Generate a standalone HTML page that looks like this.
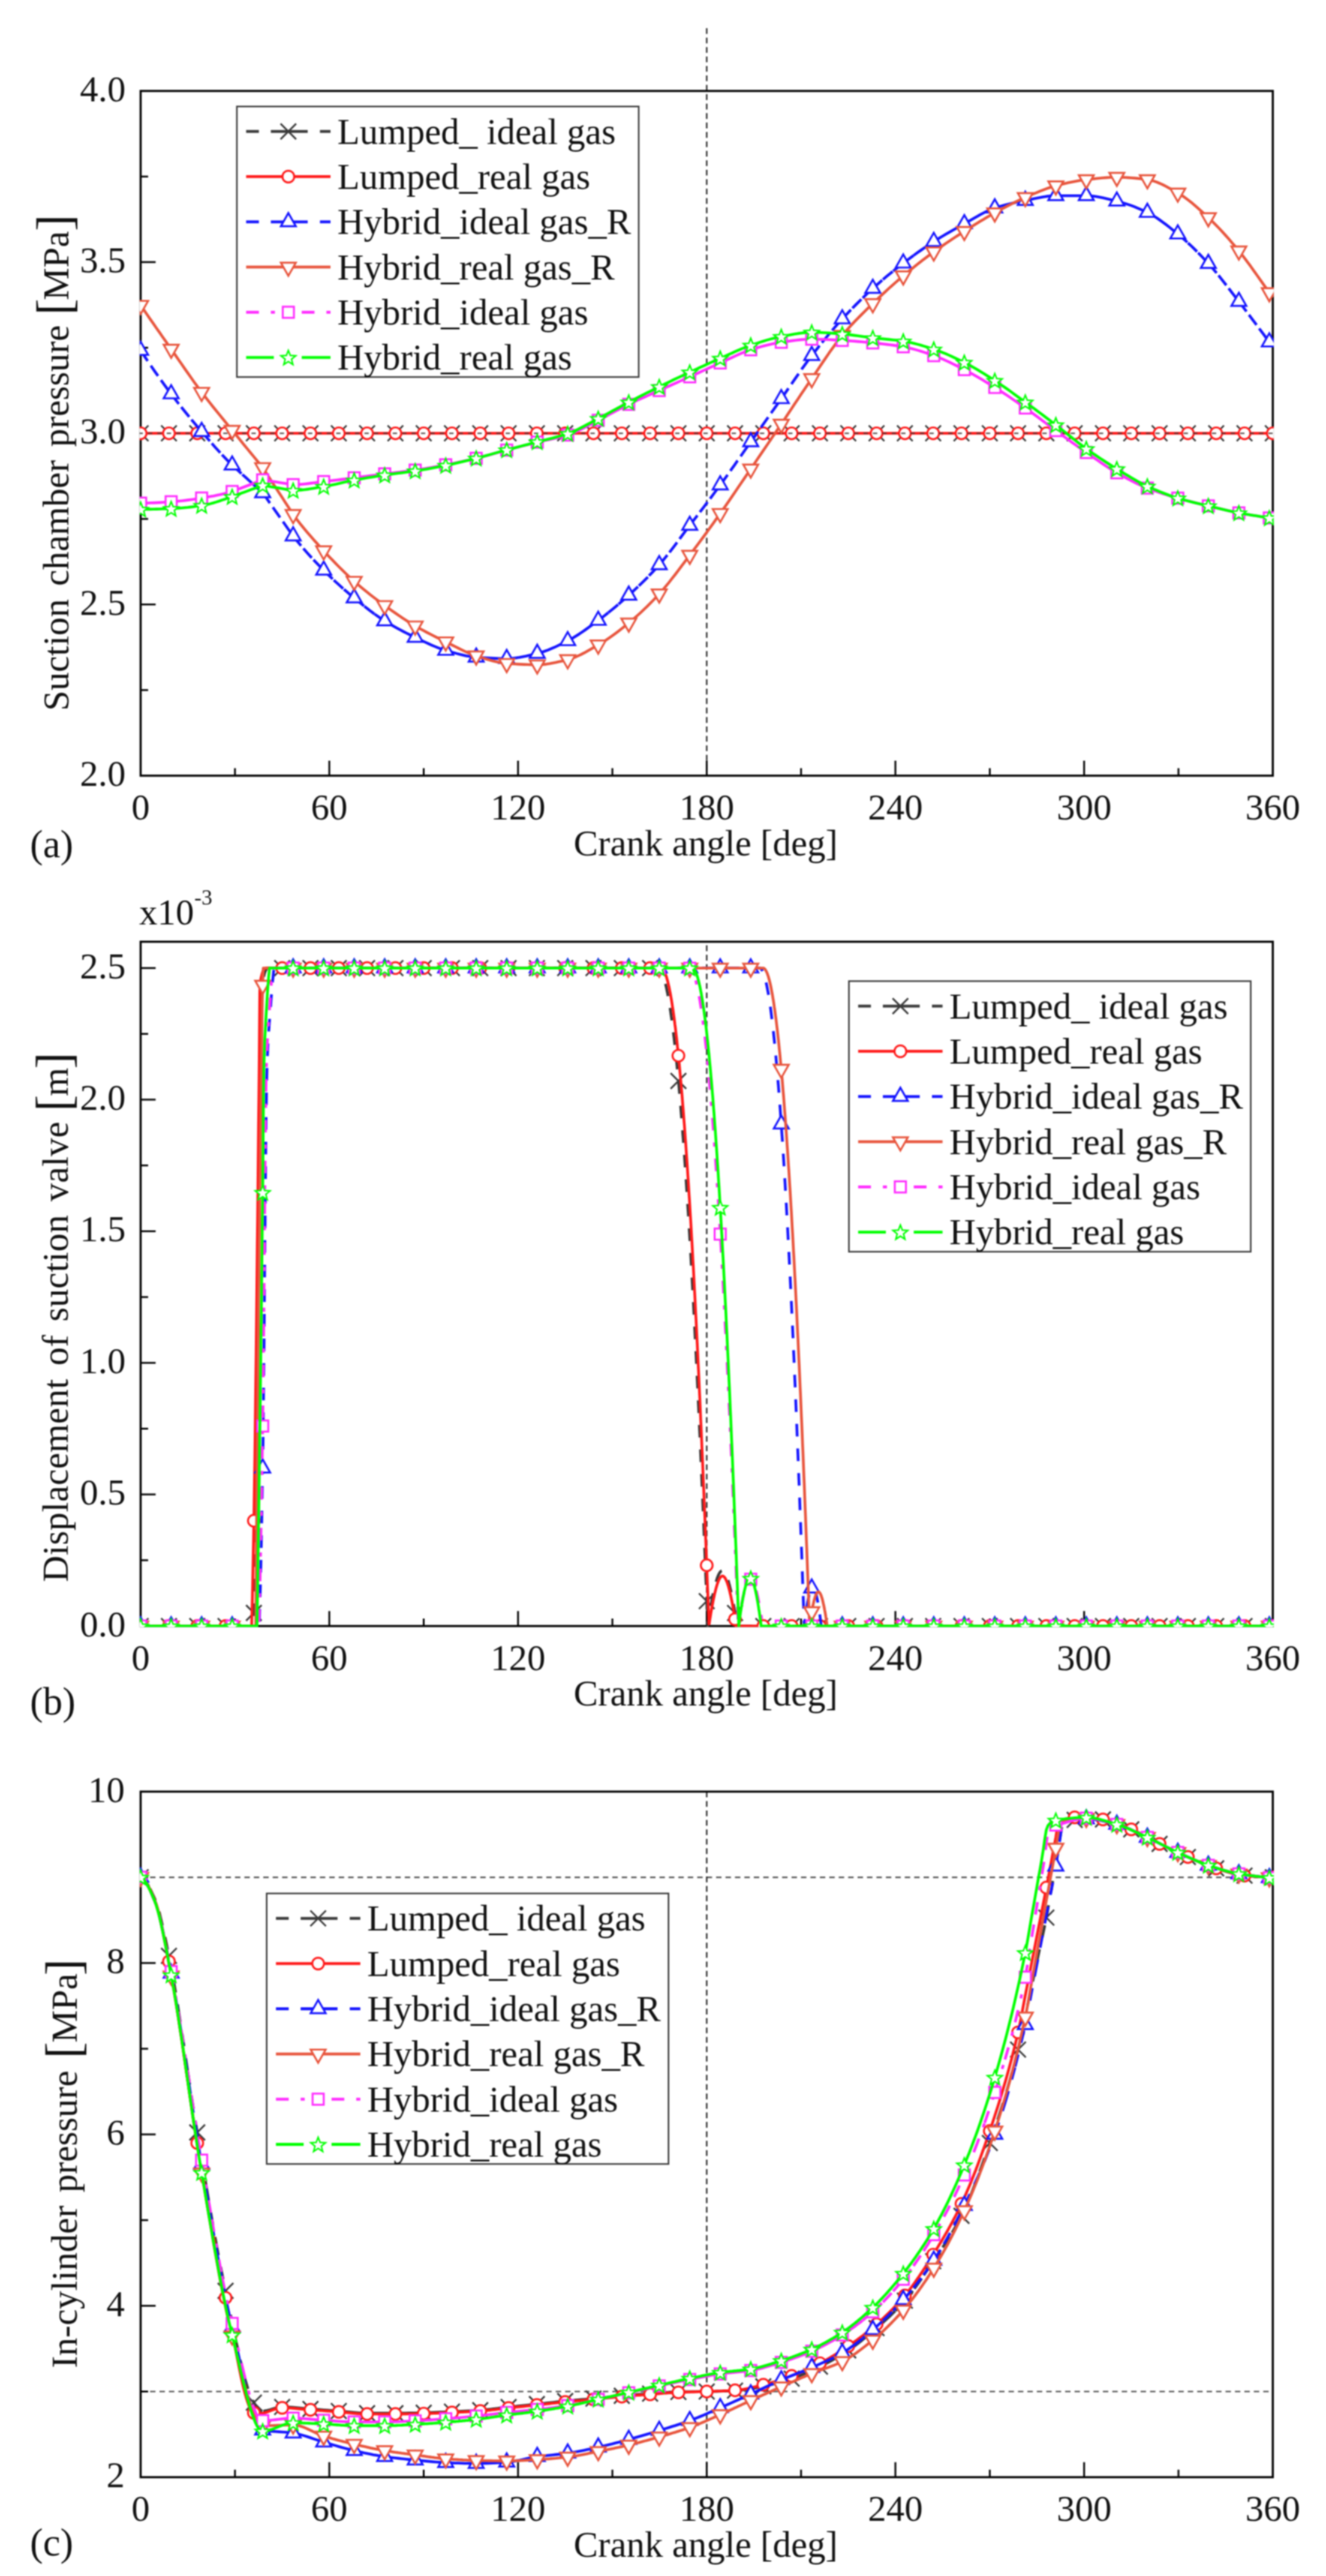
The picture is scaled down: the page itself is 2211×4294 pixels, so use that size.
<!DOCTYPE html>
<html lang="en">
<head>
<meta charset="utf-8">
<title>Compressor model comparison</title>
<style>html,body{margin:0;padding:0;background:#fff}svg{display:block;filter:blur(0.8px)}</style>
</head>
<body>
<svg width="2211" height="4294" viewBox="0 0 2211 4294" font-family='"Liberation Serif", serif' fill="#111">
<rect width="2211" height="4294" fill="#fff"/>
<defs>
<clipPath id="clipa"><rect x="232.9" y="150" width="1891" height="1144.6"/></clipPath>
<clipPath id="clipb"><rect x="232.9" y="1568.2" width="1891" height="1143.9"/></clipPath>
<clipPath id="clipc"><rect x="232.9" y="2984.9" width="1891" height="1146"/></clipPath>
</defs>
<g id="panel-a">
<line x1="1178.4" y1="47" x2="1178.4" y2="1293" stroke="#222" stroke-width="2.4" stroke-dasharray="9.6 6.13"/>
<rect x="234.5" y="151.6" width="1887.8" height="1141.4" fill="none" stroke="#000" stroke-width="3.5"/>
<line x1="391.8" y1="1293" x2="391.8" y2="1280.5" stroke="#000" stroke-width="3"/>
<line x1="549.1" y1="1293" x2="549.1" y2="1268" stroke="#000" stroke-width="3"/>
<line x1="706.5" y1="1293" x2="706.5" y2="1280.5" stroke="#000" stroke-width="3"/>
<line x1="863.8" y1="1293" x2="863.8" y2="1268" stroke="#000" stroke-width="3"/>
<line x1="1021.1" y1="1293" x2="1021.1" y2="1280.5" stroke="#000" stroke-width="3"/>
<line x1="1178.4" y1="1293" x2="1178.4" y2="1268" stroke="#000" stroke-width="3"/>
<line x1="1335.7" y1="1293" x2="1335.7" y2="1280.5" stroke="#000" stroke-width="3"/>
<line x1="1493" y1="1293" x2="1493" y2="1268" stroke="#000" stroke-width="3"/>
<line x1="1650.4" y1="1293" x2="1650.4" y2="1280.5" stroke="#000" stroke-width="3"/>
<line x1="1807.7" y1="1293" x2="1807.7" y2="1268" stroke="#000" stroke-width="3"/>
<line x1="1965" y1="1293" x2="1965" y2="1280.5" stroke="#000" stroke-width="3"/>
<text x="234.5" y="1366" font-size="61" text-anchor="middle">0</text>
<text x="549.1" y="1366" font-size="61" text-anchor="middle">60</text>
<text x="863.8" y="1366" font-size="61" text-anchor="middle">120</text>
<text x="1178.4" y="1366" font-size="61" text-anchor="middle">180</text>
<text x="1493" y="1366" font-size="61" text-anchor="middle">240</text>
<text x="1807.7" y="1366" font-size="61" text-anchor="middle">300</text>
<text x="2122.3" y="1366" font-size="61" text-anchor="middle">360</text>
<text x="1176.6" y="1425.7" font-size="61" text-anchor="middle">Crank angle [deg]</text>
<line x1="234.5" y1="1007.6" x2="259.5" y2="1007.6" stroke="#000" stroke-width="3"/>
<line x1="234.5" y1="722.3" x2="259.5" y2="722.3" stroke="#000" stroke-width="3"/>
<line x1="234.5" y1="436.9" x2="259.5" y2="436.9" stroke="#000" stroke-width="3"/>
<line x1="234.5" y1="1150.3" x2="247" y2="1150.3" stroke="#000" stroke-width="3"/>
<line x1="234.5" y1="865" x2="247" y2="865" stroke="#000" stroke-width="3"/>
<line x1="234.5" y1="579.6" x2="247" y2="579.6" stroke="#000" stroke-width="3"/>
<line x1="234.5" y1="294.3" x2="247" y2="294.3" stroke="#000" stroke-width="3"/>
<text x="209.5" y="1310" font-size="61" text-anchor="end">2.0</text>
<text x="209.5" y="1024.7" font-size="61" text-anchor="end">2.5</text>
<text x="209.5" y="739.3" font-size="61" text-anchor="end">3.0</text>
<text x="209.5" y="453.9" font-size="61" text-anchor="end">3.5</text>
<text x="209.5" y="168.6" font-size="61" text-anchor="end">4.0</text>
<g clip-path="url(#clipa)">
<path d="M221.5 709.3L247.5 735.3M221.5 735.3L247.5 709.3" stroke="#3a3a3a" stroke-width="2.9" fill="none"/>
<path d="M268.7 709.3L294.7 735.3M268.7 735.3L294.7 709.3" stroke="#3a3a3a" stroke-width="2.9" fill="none"/>
<path d="M315.9 709.3L341.9 735.3M315.9 735.3L341.9 709.3" stroke="#3a3a3a" stroke-width="2.9" fill="none"/>
<path d="M363.1 709.3L389.1 735.3M363.1 735.3L389.1 709.3" stroke="#3a3a3a" stroke-width="2.9" fill="none"/>
<path d="M410.3 709.3L436.3 735.3M410.3 735.3L436.3 709.3" stroke="#3a3a3a" stroke-width="2.9" fill="none"/>
<path d="M457.5 709.3L483.5 735.3M457.5 735.3L483.5 709.3" stroke="#3a3a3a" stroke-width="2.9" fill="none"/>
<path d="M504.7 709.3L530.7 735.3M504.7 735.3L530.7 709.3" stroke="#3a3a3a" stroke-width="2.9" fill="none"/>
<path d="M551.9 709.3L577.9 735.3M551.9 735.3L577.9 709.3" stroke="#3a3a3a" stroke-width="2.9" fill="none"/>
<path d="M599.1 709.3L625.1 735.3M599.1 735.3L625.1 709.3" stroke="#3a3a3a" stroke-width="2.9" fill="none"/>
<path d="M646.3 709.3L672.3 735.3M646.3 735.3L672.3 709.3" stroke="#3a3a3a" stroke-width="2.9" fill="none"/>
<path d="M693.5 709.3L719.5 735.3M693.5 735.3L719.5 709.3" stroke="#3a3a3a" stroke-width="2.9" fill="none"/>
<path d="M740.6 709.3L766.6 735.3M740.6 735.3L766.6 709.3" stroke="#3a3a3a" stroke-width="2.9" fill="none"/>
<path d="M787.8 709.3L813.8 735.3M787.8 735.3L813.8 709.3" stroke="#3a3a3a" stroke-width="2.9" fill="none"/>
<path d="M835 709.3L861 735.3M835 735.3L861 709.3" stroke="#3a3a3a" stroke-width="2.9" fill="none"/>
<path d="M882.2 709.3L908.2 735.3M882.2 735.3L908.2 709.3" stroke="#3a3a3a" stroke-width="2.9" fill="none"/>
<path d="M929.4 709.3L955.4 735.3M929.4 735.3L955.4 709.3" stroke="#3a3a3a" stroke-width="2.9" fill="none"/>
<path d="M976.6 709.3L1002.6 735.3M976.6 735.3L1002.6 709.3" stroke="#3a3a3a" stroke-width="2.9" fill="none"/>
<path d="M1023.8 709.3L1049.8 735.3M1023.8 735.3L1049.8 709.3" stroke="#3a3a3a" stroke-width="2.9" fill="none"/>
<path d="M1071 709.3L1097 735.3M1071 735.3L1097 709.3" stroke="#3a3a3a" stroke-width="2.9" fill="none"/>
<path d="M1118.2 709.3L1144.2 735.3M1118.2 735.3L1144.2 709.3" stroke="#3a3a3a" stroke-width="2.9" fill="none"/>
<path d="M1165.4 709.3L1191.4 735.3M1165.4 735.3L1191.4 709.3" stroke="#3a3a3a" stroke-width="2.9" fill="none"/>
<path d="M1212.6 709.3L1238.6 735.3M1212.6 735.3L1238.6 709.3" stroke="#3a3a3a" stroke-width="2.9" fill="none"/>
<path d="M1259.8 709.3L1285.8 735.3M1259.8 735.3L1285.8 709.3" stroke="#3a3a3a" stroke-width="2.9" fill="none"/>
<path d="M1307 709.3L1333 735.3M1307 735.3L1333 709.3" stroke="#3a3a3a" stroke-width="2.9" fill="none"/>
<path d="M1354.2 709.3L1380.2 735.3M1354.2 735.3L1380.2 709.3" stroke="#3a3a3a" stroke-width="2.9" fill="none"/>
<path d="M1401.4 709.3L1427.4 735.3M1401.4 735.3L1427.4 709.3" stroke="#3a3a3a" stroke-width="2.9" fill="none"/>
<path d="M1448.6 709.3L1474.6 735.3M1448.6 735.3L1474.6 709.3" stroke="#3a3a3a" stroke-width="2.9" fill="none"/>
<path d="M1495.8 709.3L1521.8 735.3M1495.8 735.3L1521.8 709.3" stroke="#3a3a3a" stroke-width="2.9" fill="none"/>
<path d="M1543 709.3L1569 735.3M1543 735.3L1569 709.3" stroke="#3a3a3a" stroke-width="2.9" fill="none"/>
<path d="M1590.2 709.3L1616.2 735.3M1590.2 735.3L1616.2 709.3" stroke="#3a3a3a" stroke-width="2.9" fill="none"/>
<path d="M1637.4 709.3L1663.4 735.3M1637.4 735.3L1663.4 709.3" stroke="#3a3a3a" stroke-width="2.9" fill="none"/>
<path d="M1684.5 709.3L1710.5 735.3M1684.5 735.3L1710.5 709.3" stroke="#3a3a3a" stroke-width="2.9" fill="none"/>
<path d="M1731.7 709.3L1757.7 735.3M1731.7 735.3L1757.7 709.3" stroke="#3a3a3a" stroke-width="2.9" fill="none"/>
<path d="M1778.9 709.3L1804.9 735.3M1778.9 735.3L1804.9 709.3" stroke="#3a3a3a" stroke-width="2.9" fill="none"/>
<path d="M1826.1 709.3L1852.1 735.3M1826.1 735.3L1852.1 709.3" stroke="#3a3a3a" stroke-width="2.9" fill="none"/>
<path d="M1873.3 709.3L1899.3 735.3M1873.3 735.3L1899.3 709.3" stroke="#3a3a3a" stroke-width="2.9" fill="none"/>
<path d="M1920.5 709.3L1946.5 735.3M1920.5 735.3L1946.5 709.3" stroke="#3a3a3a" stroke-width="2.9" fill="none"/>
<path d="M1967.7 709.3L1993.7 735.3M1967.7 735.3L1993.7 709.3" stroke="#3a3a3a" stroke-width="2.9" fill="none"/>
<path d="M2014.9 709.3L2040.9 735.3M2014.9 735.3L2040.9 709.3" stroke="#3a3a3a" stroke-width="2.9" fill="none"/>
<path d="M2062.1 709.3L2088.1 735.3M2062.1 735.3L2088.1 709.3" stroke="#3a3a3a" stroke-width="2.9" fill="none"/>
<path d="M2109.3 709.3L2135.3 735.3M2109.3 735.3L2135.3 709.3" stroke="#3a3a3a" stroke-width="2.9" fill="none"/>
<path d="M234.5 722.3L2122.3 722.3" stroke="#ff1a1a" stroke-width="4.6" fill="none" stroke-linejoin="round"/>
<circle cx="234.5" cy="722.3" r="9.8" stroke="#ff1a1a" stroke-width="3.2" fill="#fff"/>
<circle cx="281.7" cy="722.3" r="9.8" stroke="#ff1a1a" stroke-width="3.2" fill="#fff"/>
<circle cx="328.9" cy="722.3" r="9.8" stroke="#ff1a1a" stroke-width="3.2" fill="#fff"/>
<circle cx="376.1" cy="722.3" r="9.8" stroke="#ff1a1a" stroke-width="3.2" fill="#fff"/>
<circle cx="423.3" cy="722.3" r="9.8" stroke="#ff1a1a" stroke-width="3.2" fill="#fff"/>
<circle cx="470.5" cy="722.3" r="9.8" stroke="#ff1a1a" stroke-width="3.2" fill="#fff"/>
<circle cx="517.7" cy="722.3" r="9.8" stroke="#ff1a1a" stroke-width="3.2" fill="#fff"/>
<circle cx="564.9" cy="722.3" r="9.8" stroke="#ff1a1a" stroke-width="3.2" fill="#fff"/>
<circle cx="612.1" cy="722.3" r="9.8" stroke="#ff1a1a" stroke-width="3.2" fill="#fff"/>
<circle cx="659.3" cy="722.3" r="9.8" stroke="#ff1a1a" stroke-width="3.2" fill="#fff"/>
<circle cx="706.5" cy="722.3" r="9.8" stroke="#ff1a1a" stroke-width="3.2" fill="#fff"/>
<circle cx="753.6" cy="722.3" r="9.8" stroke="#ff1a1a" stroke-width="3.2" fill="#fff"/>
<circle cx="800.8" cy="722.3" r="9.8" stroke="#ff1a1a" stroke-width="3.2" fill="#fff"/>
<circle cx="848" cy="722.3" r="9.8" stroke="#ff1a1a" stroke-width="3.2" fill="#fff"/>
<circle cx="895.2" cy="722.3" r="9.8" stroke="#ff1a1a" stroke-width="3.2" fill="#fff"/>
<circle cx="942.4" cy="722.3" r="9.8" stroke="#ff1a1a" stroke-width="3.2" fill="#fff"/>
<circle cx="989.6" cy="722.3" r="9.8" stroke="#ff1a1a" stroke-width="3.2" fill="#fff"/>
<circle cx="1036.8" cy="722.3" r="9.8" stroke="#ff1a1a" stroke-width="3.2" fill="#fff"/>
<circle cx="1084" cy="722.3" r="9.8" stroke="#ff1a1a" stroke-width="3.2" fill="#fff"/>
<circle cx="1131.2" cy="722.3" r="9.8" stroke="#ff1a1a" stroke-width="3.2" fill="#fff"/>
<circle cx="1178.4" cy="722.3" r="9.8" stroke="#ff1a1a" stroke-width="3.2" fill="#fff"/>
<circle cx="1225.6" cy="722.3" r="9.8" stroke="#ff1a1a" stroke-width="3.2" fill="#fff"/>
<circle cx="1272.8" cy="722.3" r="9.8" stroke="#ff1a1a" stroke-width="3.2" fill="#fff"/>
<circle cx="1320" cy="722.3" r="9.8" stroke="#ff1a1a" stroke-width="3.2" fill="#fff"/>
<circle cx="1367.2" cy="722.3" r="9.8" stroke="#ff1a1a" stroke-width="3.2" fill="#fff"/>
<circle cx="1414.4" cy="722.3" r="9.8" stroke="#ff1a1a" stroke-width="3.2" fill="#fff"/>
<circle cx="1461.6" cy="722.3" r="9.8" stroke="#ff1a1a" stroke-width="3.2" fill="#fff"/>
<circle cx="1508.8" cy="722.3" r="9.8" stroke="#ff1a1a" stroke-width="3.2" fill="#fff"/>
<circle cx="1556" cy="722.3" r="9.8" stroke="#ff1a1a" stroke-width="3.2" fill="#fff"/>
<circle cx="1603.2" cy="722.3" r="9.8" stroke="#ff1a1a" stroke-width="3.2" fill="#fff"/>
<circle cx="1650.4" cy="722.3" r="9.8" stroke="#ff1a1a" stroke-width="3.2" fill="#fff"/>
<circle cx="1697.5" cy="722.3" r="9.8" stroke="#ff1a1a" stroke-width="3.2" fill="#fff"/>
<circle cx="1744.7" cy="722.3" r="9.8" stroke="#ff1a1a" stroke-width="3.2" fill="#fff"/>
<circle cx="1791.9" cy="722.3" r="9.8" stroke="#ff1a1a" stroke-width="3.2" fill="#fff"/>
<circle cx="1839.1" cy="722.3" r="9.8" stroke="#ff1a1a" stroke-width="3.2" fill="#fff"/>
<circle cx="1886.3" cy="722.3" r="9.8" stroke="#ff1a1a" stroke-width="3.2" fill="#fff"/>
<circle cx="1933.5" cy="722.3" r="9.8" stroke="#ff1a1a" stroke-width="3.2" fill="#fff"/>
<circle cx="1980.7" cy="722.3" r="9.8" stroke="#ff1a1a" stroke-width="3.2" fill="#fff"/>
<circle cx="2027.9" cy="722.3" r="9.8" stroke="#ff1a1a" stroke-width="3.2" fill="#fff"/>
<circle cx="2075.1" cy="722.3" r="9.8" stroke="#ff1a1a" stroke-width="3.2" fill="#fff"/>
<circle cx="2122.3" cy="722.3" r="9.8" stroke="#ff1a1a" stroke-width="3.2" fill="#fff"/>
<line x1="230.9" y1="722.3" x2="2126.3" y2="722.3" stroke="#4a3a3a" stroke-width="2.6" opacity="0.85" stroke-dasharray="7.2 8.5"/>
<path d="M234.5 584.2L235.8 586.2L241.1 594.1L246.2 601.7M251.5 609.5L252.9 611.5L258.1 619.1L263.5 626.7M268.4 633.6L269.9 635.7L275.1 642.9L280.4 650L280.8 650.6M285.4 656.7L286.9 658.7L292.2 665.6L297.4 672.3L298.2 673.3M302.3 678.5L302.7 679L307.9 685.5L313.2 692L315.5 694.9M319.3 699.4L319.7 699.9L325 706.2L330.2 712.4L332.8 715.5M336.2 719.4L336.8 720.1L342 726.1L347.2 732.2L350 735.3M353.2 739L353.8 739.7L359 745.7L364.3 751.5L367.2 754.7M370.1 757.9L370.8 758.7L376.1 764.2L381.3 769.6L384.7 773M387.1 775.4L387.9 776.1L393.1 780.9L398.4 785.6L402.6 789.5M404.1 790.8L404.9 791.6L410.2 796.3L415.4 801.1L419.6 804.9M421 806.2L422 807.1L427.2 811.8L432.5 816.4L436.6 820.2M438 821.6L439 822.8L444.3 830.2L449.5 837.9L450.1 838.7M454.9 845.6L456.1 847.2L461.3 854.6L466.5 862L467 862.7M471.9 869.5L473.1 871.3L478.3 878.7L483.6 886.3L483.9 886.7M488.8 893.5L490.1 895.2L495.4 901.8L500.6 908.1L502.1 909.8M505.8 914.2L507.2 915.8L512.4 921.8L517.7 927.6L519.8 929.9M522.7 933.1L524.2 934.6L529.5 940.1L534.7 945.5L537.3 948.2M539.7 950.6L541.3 952.2L546.5 957.3L551.8 962.4L554.7 965.2M556.6 967L558.3 968.6L563.6 973.4L568.8 978.1L572.2 981.2M573.6 982.4L574 982.8L579.3 987.3L584.5 991.8L589.6 996M590.6 996.8L591.1 997.2L596.3 1001.5L601.6 1005.8L606.9 1010M607.5 1010.6L608.1 1011L613.4 1015.1L618.6 1019.2L624.2 1023.3M624.5 1023.5L625.2 1024L630.4 1027.7L635.7 1031.3L640.9 1034.7L646.1 1038L651.4 1041.1L656.6 1044.1L661.9 1047L667.1 1049.8L672.4 1052.6L677.6 1055.3L682.9 1057.9L688.1 1060.4L693.3 1062.9L698.6 1065.4L703.8 1068L709.1 1070.5L714.3 1072.9L719.6 1075.3L724.8 1077.5L730 1079.6L735.3 1081.6L740.5 1083.3L745.8 1084.9L751 1086.4L756.3 1087.9L761.5 1089.4L766.8 1090.8L772 1092L777.2 1093.2L782.5 1094.1L787.7 1094.9L793 1095.5L798.2 1095.8L803.5 1096.2L808.7 1096.6L813.9 1096.9L819.2 1097.1L824.4 1097.4L829.7 1097.6L834.9 1097.7L840.2 1097.8L845.4 1097.8L850.7 1097.7L855.9 1097.2L861.1 1096.6L866.4 1095.8L871.6 1094.8L876.9 1093.7L882.1 1092.5L887.4 1091.3L892.6 1090L897.9 1088.7L903.1 1087.2L908.3 1085.5L913.6 1083.6L918.8 1081.4L924.1 1079.2L929.3 1076.7L934.6 1074.2L939.8 1071.6L945 1068.9L950.3 1066.2L955.5 1063.2L960.8 1060L966 1056.7L971.3 1053.1L976.5 1049.5L981.8 1045.7L987 1041.9L992.2 1038.1L997.5 1034.2L1002.7 1030.3L1008 1026.2L1013.2 1022.1L1014.1 1021.4M1014.4 1021.2L1015.8 1020L1021.1 1015.8L1026.3 1011.4L1030.6 1007.8M1031.4 1007.1L1032.9 1005.9L1038.1 1001.3L1043.4 996.7L1047.2 993.3M1048.4 992.2L1049.9 990.8L1055.2 986L1060.4 981.1L1063.8 978M1065.3 976.5L1067 974.9L1072.2 969.8L1077.5 964.6L1080.3 961.8M1082.3 959.7L1082.7 959.2L1087.9 953.8L1093.2 948.1L1096.6 944.4M1099.2 941.4L1099.7 940.9L1105 934.8L1110.2 928.4L1112.7 925.3M1116.2 920.9L1116.8 920.1L1122 913.3L1127.3 906.3L1128.9 904.1M1133.1 898.4L1133.8 897.5L1139.1 890.4L1144.3 883.4L1145.7 881.6M1150.1 875.8L1150.9 874.8L1156.1 867.9L1161.4 861.1L1162.8 859.1M1167 853.7L1167.9 852.5L1173.2 845.6L1178.4 838.7L1179.7 836.9M1184 831.3L1185 830L1190.2 823L1195.4 816L1196.5 814.5M1200.9 808.5L1202 807L1207.2 799.8L1212.5 792.5L1213.2 791.4M1217.9 784.9L1219 783.2L1224.3 775.8L1229.5 768.3L1230 767.7M1234.9 760.7L1236.1 759L1241.3 751.5L1246.6 744L1246.9 743.5M1251.8 736.6L1253.1 734.7L1258.4 727.3L1263.6 719.9L1263.9 719.4M1268.8 712.6L1270.2 710.6L1275.4 703.2L1280.9 695.5M1285.7 688.6L1287.2 686.5L1292.5 679.1L1297.9 671.5M1302.7 664.7L1304.3 662.4L1309.5 654.9L1314.7 647.4M1319.6 640.3L1320 639.7L1325.2 632.1L1330.5 624.6L1331.6 623M1336.6 615.9L1337 615.2L1342.3 607.9L1347.5 600.7L1348.9 598.9M1353.5 592.8L1354.1 592.1L1359.3 585.3L1364.6 578.7L1366.5 576.2M1370.5 571.2L1371.1 570.5L1376.4 564.1L1381.6 557.8L1383.9 555.1M1387.5 550.8L1388.2 550L1393.4 544L1398.6 538.1L1401.3 535.1M1404.4 531.7L1405.2 530.8L1410.4 525.2L1415.7 519.6L1418.8 516.4M1421.4 513.7L1422.2 512.8L1427.5 507.5L1432.7 502.3L1436.2 498.9M1438.3 496.8L1439.3 495.9L1444.5 490.8L1449.8 485.9L1453.6 482.4M1455.3 480.9L1456.3 479.9L1461.6 475.3L1466.8 470.7L1471 467M1472.2 466L1473.4 465L1478.6 460.6L1483.9 456.3L1488.4 452.6M1489.2 451.9L1490.4 451L1495.7 446.8L1500.9 442.7L1505.7 439M1506.1 438.7L1507.5 437.7L1512.7 433.7L1517.9 429.8L1523 426.1M1523.1 426L1524.5 425L1529.7 421.2L1535 417.5L1540.2 413.8L1545.5 410.3L1550.7 406.8L1556 403.4L1561.2 400.1L1566.4 396.8L1571.7 393.6L1576.9 390.5L1582.2 387.4L1587.4 384.4L1592.7 381.5L1597.9 378.5L1603.2 375.6L1608.4 372.7L1613.6 369.8L1618.9 366.8L1624.1 363.8L1629.4 360.8L1634.6 357.8L1639.9 355L1645.1 352.4L1650.4 350L1655.6 347.9L1660.8 346.1L1666.1 344.4L1671.3 342.9L1676.6 341.5L1681.8 340.2L1687.1 338.9L1692.3 337.7L1697.5 336.6L1702.8 335.6L1708 334.5L1713.3 333.5L1718.5 332.4L1723.8 331.3L1729 330.2L1734.3 329.2L1739.5 328.2L1744.7 327.4L1750 326.8L1755.2 326.4L1760.5 326.2L1765.7 326.2L1771 326.2L1776.2 326.2L1781.4 326.2L1786.7 326.2L1791.9 326.2L1797.2 326.2L1802.4 326.2L1807.7 326.2L1812.9 326.2L1818.2 326.5L1823.4 327L1828.6 327.7L1833.9 328.7L1839.1 329.8L1844.4 331L1849.6 332.2L1854.9 333.5L1860.1 334.9L1865.3 336.2L1870.6 337.6L1875.8 339.2L1881.1 340.9L1886.3 342.7L1891.6 344.7L1896.8 346.9L1902.1 349.1L1907.3 351.5L1912.5 353.9L1917.8 356.6L1923 359.6L1928.3 362.9L1933.5 366.5L1938.8 370.3L1944 374.2L1949.3 378.3L1954.5 382.5L1959.7 386.7L1963.3 389.7M1963.9 390.2L1965 391L1970.2 395.4L1975.5 400L1979.8 403.9M1980.9 404.9L1982 406L1987.3 410.9L1992.5 416L1996 419.5M1997.8 421.4L1999.1 422.6L2004.3 428L2009.6 433.6L2012.3 436.6M2014.8 439.2L2016.1 440.7L2021.4 446.6L2026.6 452.7L2028.6 455.1M2031.8 459L2033.2 460.7L2038.4 467.3L2043.6 474L2044.8 475.5M2048.7 480.6L2050.2 482.5L2055.4 489.3L2060.7 496.1L2061.5 497.2M2065.7 502.6L2067.2 504.6L2072.5 511.4L2077.7 518.3L2078.4 519.3M2082.6 524.8L2083 525.3L2088.2 532.3L2093.5 539.3L2095.2 541.6M2099.6 547.5L2100 548.1L2105.3 555.1L2110.5 562.2L2112.1 564.3M2116.5 570.2L2117.1 570.9L2122.3 577.9" stroke="#1414ff" stroke-width="4.6" fill="none" stroke-linejoin="round"/>
<path d="M234.5 569.5L247 591.5L222 591.5Z" stroke="#1414ff" stroke-width="3.2" fill="#fff" stroke-linejoin="miter"/>
<path d="M285.4 642L297.9 664L272.9 664Z" stroke="#1414ff" stroke-width="3.2" fill="#fff" stroke-linejoin="miter"/>
<path d="M336.2 704.8L348.7 726.8L323.7 726.8Z" stroke="#1414ff" stroke-width="3.2" fill="#fff" stroke-linejoin="miter"/>
<path d="M387.1 760.7L399.6 782.7L374.6 782.7Z" stroke="#1414ff" stroke-width="3.2" fill="#fff" stroke-linejoin="miter"/>
<path d="M438 806.9L450.5 828.9L425.5 828.9Z" stroke="#1414ff" stroke-width="3.2" fill="#fff" stroke-linejoin="miter"/>
<path d="M488.8 878.8L501.3 900.8L476.3 900.8Z" stroke="#1414ff" stroke-width="3.2" fill="#fff" stroke-linejoin="miter"/>
<path d="M539.7 935.9L552.2 957.9L527.2 957.9Z" stroke="#1414ff" stroke-width="3.2" fill="#fff" stroke-linejoin="miter"/>
<path d="M590.6 982.1L603.1 1004.1L578.1 1004.1Z" stroke="#1414ff" stroke-width="3.2" fill="#fff" stroke-linejoin="miter"/>
<path d="M641.4 1020.4L653.9 1042.4L628.9 1042.4Z" stroke="#1414ff" stroke-width="3.2" fill="#fff" stroke-linejoin="miter"/>
<path d="M692.3 1047.8L704.8 1069.8L679.8 1069.8Z" stroke="#1414ff" stroke-width="3.2" fill="#fff" stroke-linejoin="miter"/>
<path d="M743.2 1069.5L755.7 1091.5L730.7 1091.5Z" stroke="#1414ff" stroke-width="3.2" fill="#fff" stroke-linejoin="miter"/>
<path d="M794 1080.9L806.5 1102.9L781.5 1102.9Z" stroke="#1414ff" stroke-width="3.2" fill="#fff" stroke-linejoin="miter"/>
<path d="M844.9 1083.2L857.4 1105.2L832.4 1105.2Z" stroke="#1414ff" stroke-width="3.2" fill="#fff" stroke-linejoin="miter"/>
<path d="M895.8 1074.6L908.3 1096.6L883.3 1096.6Z" stroke="#1414ff" stroke-width="3.2" fill="#fff" stroke-linejoin="miter"/>
<path d="M946.6 1053.5L959.1 1075.5L934.1 1075.5Z" stroke="#1414ff" stroke-width="3.2" fill="#fff" stroke-linejoin="miter"/>
<path d="M997.5 1019.5L1010 1041.5L985 1041.5Z" stroke="#1414ff" stroke-width="3.2" fill="#fff" stroke-linejoin="miter"/>
<path d="M1048.4 977.6L1060.9 999.6L1035.9 999.6Z" stroke="#1414ff" stroke-width="3.2" fill="#fff" stroke-linejoin="miter"/>
<path d="M1099.2 926.8L1111.7 948.8L1086.7 948.8Z" stroke="#1414ff" stroke-width="3.2" fill="#fff" stroke-linejoin="miter"/>
<path d="M1150.1 861.2L1162.6 883.2L1137.6 883.2Z" stroke="#1414ff" stroke-width="3.2" fill="#fff" stroke-linejoin="miter"/>
<path d="M1200.9 793.8L1213.4 815.8L1188.4 815.8Z" stroke="#1414ff" stroke-width="3.2" fill="#fff" stroke-linejoin="miter"/>
<path d="M1251.8 721.9L1264.3 743.9L1239.3 743.9Z" stroke="#1414ff" stroke-width="3.2" fill="#fff" stroke-linejoin="miter"/>
<path d="M1302.7 650L1315.2 672L1290.2 672Z" stroke="#1414ff" stroke-width="3.2" fill="#fff" stroke-linejoin="miter"/>
<path d="M1353.5 578.1L1366 600.1L1341 600.1Z" stroke="#1414ff" stroke-width="3.2" fill="#fff" stroke-linejoin="miter"/>
<path d="M1404.4 517L1416.9 539L1391.9 539Z" stroke="#1414ff" stroke-width="3.2" fill="#fff" stroke-linejoin="miter"/>
<path d="M1455.3 466.2L1467.8 488.2L1442.8 488.2Z" stroke="#1414ff" stroke-width="3.2" fill="#fff" stroke-linejoin="miter"/>
<path d="M1506.1 424L1518.6 446L1493.6 446Z" stroke="#1414ff" stroke-width="3.2" fill="#fff" stroke-linejoin="miter"/>
<path d="M1557 388L1569.5 410L1544.5 410Z" stroke="#1414ff" stroke-width="3.2" fill="#fff" stroke-linejoin="miter"/>
<path d="M1607.9 358.4L1620.4 380.4L1595.4 380.4Z" stroke="#1414ff" stroke-width="3.2" fill="#fff" stroke-linejoin="miter"/>
<path d="M1658.7 332.1L1671.2 354.1L1646.2 354.1Z" stroke="#1414ff" stroke-width="3.2" fill="#fff" stroke-linejoin="miter"/>
<path d="M1709.6 319.6L1722.1 341.6L1697.1 341.6Z" stroke="#1414ff" stroke-width="3.2" fill="#fff" stroke-linejoin="miter"/>
<path d="M1760.5 311.6L1773 333.6L1748 333.6Z" stroke="#1414ff" stroke-width="3.2" fill="#fff" stroke-linejoin="miter"/>
<path d="M1811.3 311.6L1823.8 333.6L1798.8 333.6Z" stroke="#1414ff" stroke-width="3.2" fill="#fff" stroke-linejoin="miter"/>
<path d="M1862.2 320.7L1874.7 342.7L1849.7 342.7Z" stroke="#1414ff" stroke-width="3.2" fill="#fff" stroke-linejoin="miter"/>
<path d="M1913.1 339.5L1925.6 361.5L1900.6 361.5Z" stroke="#1414ff" stroke-width="3.2" fill="#fff" stroke-linejoin="miter"/>
<path d="M1963.9 375.5L1976.4 397.5L1951.4 397.5Z" stroke="#1414ff" stroke-width="3.2" fill="#fff" stroke-linejoin="miter"/>
<path d="M2014.8 424.6L2027.3 446.6L2002.3 446.6Z" stroke="#1414ff" stroke-width="3.2" fill="#fff" stroke-linejoin="miter"/>
<path d="M2065.7 487.9L2078.2 509.9L2053.2 509.9Z" stroke="#1414ff" stroke-width="3.2" fill="#fff" stroke-linejoin="miter"/>
<path d="M2116.5 555.5L2129 577.5L2104 577.5Z" stroke="#1414ff" stroke-width="3.2" fill="#fff" stroke-linejoin="miter"/>
<path d="M234.5 508.9L239.7 516.4L245 524L250.2 531.6L255.5 539.1L260.7 546.7L266 554.2L271.2 561.7L276.5 569.2L281.7 576.7L286.9 584.2L292.2 591.7L297.4 599.2L302.7 606.8L307.9 614.4L313.2 621.9L318.4 629.3L323.6 636.7L328.9 643.9L334.1 651L339.4 658L344.6 664.7L349.9 671.4L355.1 678L360.4 684.5L365.6 690.9L370.8 697.3L376.1 703.7L381.3 710.1L386.6 716.5L391.8 722.9L397.1 729.3L402.3 735.8L407.5 742.2L412.8 748.6L418 755L423.3 761.4L428.5 767.8L433.8 774L439 780.8L444.3 788.9L449.5 797.1L454.7 805.2L460 813.2L465.2 821.3L470.5 829.3L475.7 837.4L481 845.5L486.2 853.8L491.5 861.1L496.7 868.1L501.9 874.8L507.2 881.3L512.4 887.5L517.7 893.6L522.9 899.6L528.2 905.4L533.4 911.2L538.6 916.9L543.9 922.6L549.1 928.2L554.4 933.7L559.6 939.1L564.9 944.5L570.1 949.7L575.4 954.8L580.6 959.8L585.8 964.6L591.1 969.3L596.3 973.9L601.6 978.4L606.8 982.7L612.1 987L617.3 991.2L622.5 995.2L627.8 999.3L633 1003.2L638.3 1007.1L643.5 1010.9L648.8 1014.7L654 1018.4L659.3 1022L664.5 1025.6L669.7 1029.2L675 1032.6L680.2 1036L685.5 1039.2L690.7 1042.4L696 1045.4L701.2 1048.4L706.5 1051.3L711.7 1054.1L716.9 1056.8L722.2 1059.5L727.4 1062.1L732.7 1064.7L737.9 1067.3L743.2 1069.9L748.4 1072.5L753.6 1075.1L758.9 1077.8L764.1 1080.4L769.4 1083L774.6 1085.5L779.9 1087.8L785.1 1090L790.4 1092L795.6 1093.8L800.8 1095.5L806.1 1097.1L811.3 1098.8L816.6 1100.3L821.8 1101.7L827.1 1103L832.3 1104.1L837.5 1105L842.8 1105.6L848 1106L853.3 1106.4L858.5 1106.8L863.8 1107.1L869 1107.4L874.3 1107.6L879.5 1107.8L884.7 1108L890 1108.1L895.2 1108.1L900.5 1108L905.7 1107.6L911 1107.1L916.2 1106.3L921.4 1105.3L926.7 1104.3L931.9 1103.1L937.2 1101.9L942.4 1100.6L947.7 1099.3L952.9 1097.7L958.2 1095.8L963.4 1093.5L968.6 1091.1L973.9 1088.4L979.1 1085.5L984.4 1082.6L989.6 1079.6L994.9 1076.5L1000.1 1073.5L1005.4 1070.2L1010.6 1066.9L1015.8 1063.3L1021.1 1059.6L1026.3 1055.8L1031.6 1051.8L1036.8 1047.7L1042.1 1043.6L1047.3 1039.3L1052.5 1035L1057.8 1030.5L1063 1025.9L1068.3 1021.1L1073.5 1016.2L1078.8 1011.1L1084 1005.9L1089.3 1000.5L1094.5 995L1099.7 989.4L1105 983.5L1110.2 977.3L1115.5 970.9L1120.7 964.2L1126 957.5L1131.2 950.6L1136.4 943.6L1141.7 936.6L1146.9 929.6L1152.2 922.7L1157.4 915.7L1162.7 908.7L1167.9 901.6L1173.2 894.5L1178.4 887.3L1183.6 880.1L1188.9 872.8L1194.1 865.4L1199.4 858.1L1204.6 850.6L1209.9 843.1L1215.1 835.6L1220.4 827.9L1225.6 820.2L1230.8 812.5L1236.1 804.8L1241.3 797.1L1246.6 789.3L1251.8 781.7L1257.1 774L1262.3 766.3L1267.5 758.6L1272.8 750.9L1278 743.2L1283.3 735.5L1288.5 727.8L1293.8 720.1L1299 712.3L1304.3 704.6L1309.5 696.7L1314.7 688.9L1320 681L1325.2 673.1L1330.5 665.2L1335.7 657.3L1341 649.5L1346.2 641.7L1351.4 634L1356.7 626.4L1361.9 618.7L1367.2 610.9L1372.4 603.1L1377.7 595.4L1382.9 587.7L1388.2 580.3L1393.4 573.1L1398.6 566.2L1403.9 559.7L1409.1 553.5L1414.4 547.6L1419.6 541.8L1424.9 536.2L1430.1 530.8L1435.4 525.5L1440.6 520.3L1445.8 515.2L1451.1 510.1L1456.3 505L1461.6 499.9L1466.8 495L1472.1 490L1477.3 485.2L1482.5 480.4L1487.8 475.7L1493 471.1L1498.3 466.5L1503.5 462L1508.8 457.6L1514 453.2L1519.3 448.9L1524.5 444.7L1529.7 440.5L1535 436.4L1540.2 432.3L1545.5 428.4L1550.7 424.4L1556 420.6L1561.2 416.8L1566.4 413.1L1571.7 409.5L1576.9 405.9L1582.2 402.3L1587.4 398.8L1592.7 395.4L1597.9 392L1603.2 388.6L1608.4 385.3L1613.6 381.9L1618.9 378.6L1624.1 375.3L1629.4 372L1634.6 368.8L1639.9 365.7L1645.1 362.5L1650.4 359.5L1655.6 356.5L1660.8 353.6L1666.1 350.8L1671.3 347.9L1676.6 345.1L1681.8 342.4L1687.1 339.7L1692.3 337.1L1697.5 334.6L1702.8 332.1L1708 329.8L1713.3 327.5L1718.5 325.2L1723.8 323L1729 320.8L1734.3 318.6L1739.5 316.6L1744.7 314.6L1750 312.8L1755.2 311.2L1760.5 309.7L1765.7 308.3L1771 307L1776.2 305.7L1781.4 304.5L1786.7 303.4L1791.9 302.4L1797.2 301.4L1802.4 300.6L1807.7 299.9L1812.9 299.2L1818.2 298.6L1823.4 298.1L1828.6 297.5L1833.9 297L1839.1 296.5L1844.4 296.1L1849.6 295.8L1854.9 295.5L1860.1 295.4L1865.3 295.4L1870.6 295.6L1875.8 295.8L1881.1 296.1L1886.3 296.5L1891.6 296.9L1896.8 297.4L1902.1 298L1907.3 298.7L1912.5 299.3L1917.8 300.2L1923 301.6L1928.3 303.4L1933.5 305.5L1938.8 307.9L1944 310.5L1949.3 313.4L1954.5 316.3L1959.7 319.3L1965 322.3L1970.2 325.5L1975.5 329.1L1980.7 333L1986 337.1L1991.2 341.5L1996.4 346L2001.7 350.7L2006.9 355.5L2012.2 360.3L2017.4 365.2L2022.7 370.3L2027.9 375.6L2033.2 381L2038.4 386.6L2043.6 392.4L2048.9 398.3L2054.1 404.4L2059.4 410.6L2064.6 416.8L2069.9 423.3L2075.1 430.1L2080.3 437.1L2085.6 444.2L2090.8 451.6L2096.1 459L2101.3 466.4L2106.6 473.9L2111.8 481.2L2117.1 488.5L2122.3 495.6" stroke="#e8553d" stroke-width="4.6" fill="none" stroke-linejoin="round"/>
<path d="M234.5 523.5L247 501.5L222 501.5Z" stroke="#e8553d" stroke-width="3.2" fill="#fff" stroke-linejoin="miter"/>
<path d="M285.4 596.6L297.9 574.6L272.9 574.6Z" stroke="#e8553d" stroke-width="3.2" fill="#fff" stroke-linejoin="miter"/>
<path d="M336.2 668.5L348.7 646.5L323.7 646.5Z" stroke="#e8553d" stroke-width="3.2" fill="#fff" stroke-linejoin="miter"/>
<path d="M387.1 731.8L399.6 709.8L374.6 709.8Z" stroke="#e8553d" stroke-width="3.2" fill="#fff" stroke-linejoin="miter"/>
<path d="M438 794L450.5 772L425.5 772Z" stroke="#e8553d" stroke-width="3.2" fill="#fff" stroke-linejoin="miter"/>
<path d="M488.8 872.2L501.3 850.2L476.3 850.2Z" stroke="#e8553d" stroke-width="3.2" fill="#fff" stroke-linejoin="miter"/>
<path d="M539.7 932.7L552.2 910.7L527.2 910.7Z" stroke="#e8553d" stroke-width="3.2" fill="#fff" stroke-linejoin="miter"/>
<path d="M590.6 983.5L603.1 961.5L578.1 961.5Z" stroke="#e8553d" stroke-width="3.2" fill="#fff" stroke-linejoin="miter"/>
<path d="M641.4 1024L653.9 1002L628.9 1002Z" stroke="#e8553d" stroke-width="3.2" fill="#fff" stroke-linejoin="miter"/>
<path d="M692.3 1058L704.8 1036L679.8 1036Z" stroke="#e8553d" stroke-width="3.2" fill="#fff" stroke-linejoin="miter"/>
<path d="M743.2 1084.5L755.7 1062.5L730.7 1062.5Z" stroke="#e8553d" stroke-width="3.2" fill="#fff" stroke-linejoin="miter"/>
<path d="M794 1107.9L806.5 1085.9L781.5 1085.9Z" stroke="#e8553d" stroke-width="3.2" fill="#fff" stroke-linejoin="miter"/>
<path d="M844.9 1120.5L857.4 1098.5L832.4 1098.5Z" stroke="#e8553d" stroke-width="3.2" fill="#fff" stroke-linejoin="miter"/>
<path d="M895.8 1122.8L908.3 1100.8L883.3 1100.8Z" stroke="#e8553d" stroke-width="3.2" fill="#fff" stroke-linejoin="miter"/>
<path d="M946.6 1114.2L959.1 1092.2L934.1 1092.2Z" stroke="#e8553d" stroke-width="3.2" fill="#fff" stroke-linejoin="miter"/>
<path d="M997.5 1089.7L1010 1067.7L985 1067.7Z" stroke="#e8553d" stroke-width="3.2" fill="#fff" stroke-linejoin="miter"/>
<path d="M1048.4 1053.1L1060.9 1031.1L1035.9 1031.1Z" stroke="#e8553d" stroke-width="3.2" fill="#fff" stroke-linejoin="miter"/>
<path d="M1099.2 1004.6L1111.7 982.6L1086.7 982.6Z" stroke="#e8553d" stroke-width="3.2" fill="#fff" stroke-linejoin="miter"/>
<path d="M1150.1 940.1L1162.6 918.1L1137.6 918.1Z" stroke="#e8553d" stroke-width="3.2" fill="#fff" stroke-linejoin="miter"/>
<path d="M1200.9 870.5L1213.4 848.5L1188.4 848.5Z" stroke="#e8553d" stroke-width="3.2" fill="#fff" stroke-linejoin="miter"/>
<path d="M1251.8 796.3L1264.3 774.3L1239.3 774.3Z" stroke="#e8553d" stroke-width="3.2" fill="#fff" stroke-linejoin="miter"/>
<path d="M1302.7 721.6L1315.2 699.6L1290.2 699.6Z" stroke="#e8553d" stroke-width="3.2" fill="#fff" stroke-linejoin="miter"/>
<path d="M1353.5 645.7L1366 623.7L1341 623.7Z" stroke="#e8553d" stroke-width="3.2" fill="#fff" stroke-linejoin="miter"/>
<path d="M1404.4 573.7L1416.9 551.7L1391.9 551.7Z" stroke="#e8553d" stroke-width="3.2" fill="#fff" stroke-linejoin="miter"/>
<path d="M1455.3 520.7L1467.8 498.7L1442.8 498.7Z" stroke="#e8553d" stroke-width="3.2" fill="#fff" stroke-linejoin="miter"/>
<path d="M1506.1 474.4L1518.6 452.4L1493.6 452.4Z" stroke="#e8553d" stroke-width="3.2" fill="#fff" stroke-linejoin="miter"/>
<path d="M1557 434.5L1569.5 412.5L1544.5 412.5Z" stroke="#e8553d" stroke-width="3.2" fill="#fff" stroke-linejoin="miter"/>
<path d="M1607.9 400.3L1620.4 378.3L1595.4 378.3Z" stroke="#e8553d" stroke-width="3.2" fill="#fff" stroke-linejoin="miter"/>
<path d="M1658.7 369.4L1671.2 347.4L1646.2 347.4Z" stroke="#e8553d" stroke-width="3.2" fill="#fff" stroke-linejoin="miter"/>
<path d="M1709.6 343.8L1722.1 321.8L1697.1 321.8Z" stroke="#e8553d" stroke-width="3.2" fill="#fff" stroke-linejoin="miter"/>
<path d="M1760.5 324.4L1773 302.4L1748 302.4Z" stroke="#e8553d" stroke-width="3.2" fill="#fff" stroke-linejoin="miter"/>
<path d="M1811.3 314.1L1823.8 292.1L1798.8 292.1Z" stroke="#e8553d" stroke-width="3.2" fill="#fff" stroke-linejoin="miter"/>
<path d="M1862.2 310.1L1874.7 288.1L1849.7 288.1Z" stroke="#e8553d" stroke-width="3.2" fill="#fff" stroke-linejoin="miter"/>
<path d="M1913.1 314.1L1925.6 292.1L1900.6 292.1Z" stroke="#e8553d" stroke-width="3.2" fill="#fff" stroke-linejoin="miter"/>
<path d="M1963.9 336.3L1976.4 314.3L1951.4 314.3Z" stroke="#e8553d" stroke-width="3.2" fill="#fff" stroke-linejoin="miter"/>
<path d="M2014.8 377.4L2027.3 355.4L2002.3 355.4Z" stroke="#e8553d" stroke-width="3.2" fill="#fff" stroke-linejoin="miter"/>
<path d="M2065.7 432.8L2078.2 410.8L2053.2 410.8Z" stroke="#e8553d" stroke-width="3.2" fill="#fff" stroke-linejoin="miter"/>
<path d="M2116.5 502.4L2129 480.4L2104 480.4Z" stroke="#e8553d" stroke-width="3.2" fill="#fff" stroke-linejoin="miter"/>
<path d="M234.5 838.7L235.8 838.7L241.1 838.6L246.3 838.5L251.5 838.3L256.8 838.1L262 837.9L267.3 837.6L272.5 837.3L277.8 836.9L283 836.6L288.2 836.2L293.5 835.8L298.7 835.3L304 834.7L309.2 834.1L314.5 833.4L319.7 832.7L325 831.9L330.2 831.1L335.4 830.3L340.7 829.5L345.9 828.6L351.2 827.6L356.4 826.7L361.7 825.6L366.9 824.5L372.2 823.3L377.4 822L382.6 820.6L387.9 819.1L393.1 817.1L398.4 815L403.6 813L408.9 811L414.1 809L419.3 807L424.6 805L429.8 802.9L435.1 800.5L440.3 800.1L445.6 801L450.8 801.9L456.1 802.8L461.3 803.6L466.5 804.4L471.8 805.2L477 806.1L482.3 807L487.5 807.9L492.8 807.8L498 807.6L503.2 807.2L508.5 806.7L513.7 806.1L519 805.4L524.2 804.7L529.5 804L534.7 803.4L540 802.7L545.2 802.1L550.4 801.5L555.7 800.9L560.9 800.3L566.2 799.6L571.4 798.9L576.7 798.3L581.9 797.6L587.2 796.9L592.4 796.3L597.6 795.6L602.9 794.9L608.1 794.2L613.4 793.6L618.6 792.9L623.9 792.2L629.1 791.5L634.3 790.8L639.6 790.2L644.8 789.5L650.1 788.9L655.3 788.2L660.6 787.6L665.8 787L671.1 786.4L676.3 785.7L681.5 785.1L686.8 784.4L692 783.6L697.3 782.9L702.5 782L707.8 781.2L713 780.3L718.2 779.4L723.5 778.5L728.7 777.5L734 776.5L739.2 775.6L744.5 774.6L749.7 773.5L755 772.5L760.2 771.4L765.4 770.3L770.7 769.2L775.9 768.1L781.2 766.9L786.4 765.7L791.7 764.5L796.9 763.3L802.2 761.9L807.4 760.6L812.6 759.2L817.9 757.7L823.1 756.3L828.4 754.8L833.6 753.3L838.9 751.9L844.1 750.5L849.3 749.1L854.6 747.7L859.8 746.3L865.1 745L870.3 743.6L875.6 742.2L880.8 740.9L886.1 739.6L891.3 738.2L896.5 736.9L901.8 735.7L907 734.6L912.3 733.5L917.5 732.4L922.8 731.3L928 730.1L933.2 728.9L938.5 727.5L943.7 726L949 724.4L954.2 722.4L959.5 720.2L964.7 717.8L970 715.1L975.2 712.4L980.4 709.6L985.7 706.8L990.9 704L996.2 701.3L1001.4 698.6L1006.7 695.9L1011.9 693.1L1017.2 690.3L1022.4 687.5L1027.6 684.7L1032.9 681.9L1038.1 679.2L1043.4 676.5L1048.6 673.9L1053.9 671.4L1059.1 668.9L1064.3 666.5L1069.6 664.1L1074.8 661.8L1080.1 659.5L1085.3 657.2L1090.6 654.8L1095.8 652.5L1101.1 650.1L1106.3 647.8L1111.5 645.4L1116.8 643.1L1122 640.7L1127.3 638.4L1132.5 636L1137.8 633.7L1143 631.3L1148.2 629L1153.5 626.6L1158.7 624.2L1164 621.8L1169.2 619.4L1174.5 617L1179.7 614.6L1185 612.2L1190.2 609.8L1195.4 607.5L1200.7 605.1L1205.9 602.8L1211.2 600.3L1216.4 597.9L1221.7 595.4L1226.9 593L1232.1 590.6L1237.4 588.4L1242.6 586.3L1247.9 584.4L1253.1 582.6L1258.4 581L1263.6 579.5L1268.9 577.9L1274.1 576.5L1279.3 575.2L1284.6 573.9L1289.8 572.8L1295.1 571.7L1300.3 570.8L1305.6 570.1L1310.8 569.3L1316.1 568.6L1321.3 567.9L1326.5 567.2L1331.8 566.6L1337 566.1L1342.3 565.7L1347.5 565.5L1352.8 565.4L1358 565.4L1363.2 565.5L1368.5 565.6L1373.7 565.8L1379 566L1384.2 566.3L1389.5 566.6L1394.7 566.9L1400 567.2L1405.2 567.5L1410.4 567.8L1415.7 568.1L1420.9 568.5L1426.2 568.9L1431.4 569.4L1436.7 569.8L1441.9 570.3L1447.1 570.8L1452.4 571.3L1457.6 571.9L1462.9 572.4L1468.1 572.9L1473.4 573.5L1478.6 574.1L1483.9 574.7L1489.1 575.4L1494.3 576.1L1499.6 576.9L1504.8 577.8L1510.1 578.8L1515.3 579.9L1520.6 581.2L1525.8 582.6L1531.1 584.1L1536.3 585.7L1541.5 587.4L1546.8 589.2L1552 591L1557.3 592.8L1562.5 594.8L1567.8 596.9L1573 599.1L1578.2 601.5L1583.5 603.9L1588.7 606.5L1594 609.1L1599.2 611.7L1604.5 614.4L1609.7 617.1L1615 619.9L1620.2 622.8L1625.4 625.7L1630.7 628.7L1635.9 631.8L1641.2 635L1646.4 638.2L1651.7 641.4L1656.9 644.7L1662.1 648L1667.4 651.3L1672.6 654.7L1677.9 658.2L1683.1 661.7L1688.4 665.3L1693.6 668.9L1698.9 672.5L1704.1 676.2L1709.3 679.9L1714.6 683.6L1719.8 687.4L1725.1 691.3L1730.3 695.2L1735.6 699.1L1740.8 703.1L1743.4 705M1743.5 705.1L1744.7 706.1L1750 710L1755.2 713.9L1760.4 717.7M1760.5 717.7L1761.8 718.7L1767 722.5L1772.3 726.3L1777.5 730.2L1782.8 734L1788 737.8L1793.2 741.5L1798.5 745.3L1803.7 749L1809 752.6L1814.2 756.3L1819.5 759.9L1824.7 763.6L1830 767.2L1835.2 770.9L1840.4 774.4L1845.7 777.9L1850.9 781.3L1856.2 784.5L1861.4 787.6L1866.7 790.6L1871.9 793.6L1877.1 796.4L1882.4 799.2L1887.6 802L1892.9 804.6L1898.1 807.1L1903.4 809.5L1908.6 811.8L1913.9 813.9L1919.1 815.9L1924.3 817.9L1929.6 819.7L1934.8 821.5L1940.1 823.2L1945.3 824.9L1950.6 826.5L1955.8 828L1961.1 829.6L1966.3 831.1L1971.5 832.5L1976.8 833.9L1982 835.3L1987.3 836.6L1992.5 837.9L1997.8 839.2L2003 840.5L2008.2 841.7L2013.5 843L2018.7 844.2L2024 845.5L2029.2 846.8L2034.5 848.1L2039.7 849.3L2045 850.6L2050.2 851.8L2055.4 852.9L2060.7 854L2065.9 855L2071.2 856L2076.4 856.9L2081.7 857.8L2086.9 858.7L2092.1 859.5L2097.4 860.3L2102.6 861.2L2107.9 862L2113.1 862.8L2118.4 863.7L2122.3 864.3" stroke="#ff2cff" stroke-width="4.6" fill="none" stroke-linejoin="round"/>
<rect x="225.2" y="829.4" width="18.6" height="18.6" stroke="#ff2cff" stroke-width="3.2" fill="#fff"/>
<rect x="276.1" y="827.1" width="18.6" height="18.6" stroke="#ff2cff" stroke-width="3.2" fill="#fff"/>
<rect x="326.9" y="820.9" width="18.6" height="18.6" stroke="#ff2cff" stroke-width="3.2" fill="#fff"/>
<rect x="377.8" y="810" width="18.6" height="18.6" stroke="#ff2cff" stroke-width="3.2" fill="#fff"/>
<rect x="428.7" y="790.6" width="18.6" height="18.6" stroke="#ff2cff" stroke-width="3.2" fill="#fff"/>
<rect x="479.5" y="798.6" width="18.6" height="18.6" stroke="#ff2cff" stroke-width="3.2" fill="#fff"/>
<rect x="530.4" y="793.5" width="18.6" height="18.6" stroke="#ff2cff" stroke-width="3.2" fill="#fff"/>
<rect x="581.3" y="787.2" width="18.6" height="18.6" stroke="#ff2cff" stroke-width="3.2" fill="#fff"/>
<rect x="632.1" y="780.6" width="18.6" height="18.6" stroke="#ff2cff" stroke-width="3.2" fill="#fff"/>
<rect x="683" y="774.3" width="18.6" height="18.6" stroke="#ff2cff" stroke-width="3.2" fill="#fff"/>
<rect x="733.9" y="765.5" width="18.6" height="18.6" stroke="#ff2cff" stroke-width="3.2" fill="#fff"/>
<rect x="784.7" y="754.7" width="18.6" height="18.6" stroke="#ff2cff" stroke-width="3.2" fill="#fff"/>
<rect x="835.6" y="741" width="18.6" height="18.6" stroke="#ff2cff" stroke-width="3.2" fill="#fff"/>
<rect x="886.5" y="727.8" width="18.6" height="18.6" stroke="#ff2cff" stroke-width="3.2" fill="#fff"/>
<rect x="937.3" y="715.9" width="18.6" height="18.6" stroke="#ff2cff" stroke-width="3.2" fill="#fff"/>
<rect x="988.2" y="691.3" width="18.6" height="18.6" stroke="#ff2cff" stroke-width="3.2" fill="#fff"/>
<rect x="1039.1" y="664.7" width="18.6" height="18.6" stroke="#ff2cff" stroke-width="3.2" fill="#fff"/>
<rect x="1089.9" y="641.7" width="18.6" height="18.6" stroke="#ff2cff" stroke-width="3.2" fill="#fff"/>
<rect x="1140.8" y="618.8" width="18.6" height="18.6" stroke="#ff2cff" stroke-width="3.2" fill="#fff"/>
<rect x="1191.6" y="595.7" width="18.6" height="18.6" stroke="#ff2cff" stroke-width="3.2" fill="#fff"/>
<rect x="1242.5" y="573.7" width="18.6" height="18.6" stroke="#ff2cff" stroke-width="3.2" fill="#fff"/>
<rect x="1293.4" y="561.2" width="18.6" height="18.6" stroke="#ff2cff" stroke-width="3.2" fill="#fff"/>
<rect x="1344.2" y="556.1" width="18.6" height="18.6" stroke="#ff2cff" stroke-width="3.2" fill="#fff"/>
<rect x="1395.1" y="558.1" width="18.6" height="18.6" stroke="#ff2cff" stroke-width="3.2" fill="#fff"/>
<rect x="1446" y="562.3" width="18.6" height="18.6" stroke="#ff2cff" stroke-width="3.2" fill="#fff"/>
<rect x="1496.8" y="568.7" width="18.6" height="18.6" stroke="#ff2cff" stroke-width="3.2" fill="#fff"/>
<rect x="1547.7" y="583.5" width="18.6" height="18.6" stroke="#ff2cff" stroke-width="3.2" fill="#fff"/>
<rect x="1598.6" y="606.8" width="18.6" height="18.6" stroke="#ff2cff" stroke-width="3.2" fill="#fff"/>
<rect x="1649.4" y="636.5" width="18.6" height="18.6" stroke="#ff2cff" stroke-width="3.2" fill="#fff"/>
<rect x="1700.3" y="670.8" width="18.6" height="18.6" stroke="#ff2cff" stroke-width="3.2" fill="#fff"/>
<rect x="1751.2" y="708.4" width="18.6" height="18.6" stroke="#ff2cff" stroke-width="3.2" fill="#fff"/>
<rect x="1802" y="745" width="18.6" height="18.6" stroke="#ff2cff" stroke-width="3.2" fill="#fff"/>
<rect x="1852.9" y="778.8" width="18.6" height="18.6" stroke="#ff2cff" stroke-width="3.2" fill="#fff"/>
<rect x="1903.8" y="804.3" width="18.6" height="18.6" stroke="#ff2cff" stroke-width="3.2" fill="#fff"/>
<rect x="1954.6" y="821.1" width="18.6" height="18.6" stroke="#ff2cff" stroke-width="3.2" fill="#fff"/>
<rect x="2005.5" y="834" width="18.6" height="18.6" stroke="#ff2cff" stroke-width="3.2" fill="#fff"/>
<rect x="2056.4" y="845.7" width="18.6" height="18.6" stroke="#ff2cff" stroke-width="3.2" fill="#fff"/>
<rect x="2107.2" y="854.1" width="18.6" height="18.6" stroke="#ff2cff" stroke-width="3.2" fill="#fff"/>
<path d="M234.5 849L239.7 849L245 848.9L250.2 848.9L255.5 848.8L260.7 848.6L266 848.5L271.2 848.3L276.5 848.2L281.7 848L286.9 847.8L292.2 847.5L297.4 847.2L302.7 846.8L307.9 846.3L313.2 845.8L318.4 845.1L323.6 844.5L328.9 843.8L334.1 843L339.4 842.2L344.6 841.1L349.9 839.9L355.1 838.5L360.4 836.9L365.6 835.2L370.8 833.4L376.1 831.7L381.3 829.8L386.6 828.1L391.8 826.2L397.1 824.2L402.3 822.2L407.5 820.3L412.8 818.4L418 816.4L423.3 814.5L428.5 812.5L433.8 810.1L439 809.1L444.3 810L449.5 811L454.7 811.9L460 812.8L465.2 813.6L470.5 814.5L475.7 815.4L481 816.4L486.2 817.4L491.5 817.6L496.7 817.3L501.9 816.9L507.2 816.3L512.4 815.6L517.7 814.8L522.9 813.9L528.2 813L533.4 812.1L538.6 811.2L543.9 810.3L549.1 809.4L554.4 808.3L559.6 807.2L564.9 806L570.1 804.8L575.4 803.6L580.6 802.5L585.8 801.4L591.1 800.4L596.3 799.4L601.6 798.5L606.8 797.6L612.1 796.6L617.3 795.8L622.5 794.9L627.8 794L633 793.2L638.3 792.4L643.5 791.6L648.8 790.9L654 790.2L659.3 789.5L664.5 788.8L669.7 788.2L675 787.5L680.2 786.8L685.5 786.1L690.7 785.3L696 784.5L701.2 783.7L706.5 782.8L711.7 781.9L716.9 781L722.2 780L727.4 779L732.7 778L737.9 777L743.2 775.9L748.4 774.9L753.6 773.7L758.9 772.5L764.1 771.3L769.4 770.1L774.6 768.8L779.9 767.5L785.1 766.2L790.4 764.9L795.6 763.6L800.8 762.2L806.1 760.8L811.3 759.3L816.6 757.9L821.8 756.4L827.1 754.9L832.3 753.4L837.5 752L842.8 750.5L848 749.1L853.3 747.7L858.5 746.4L863.8 745L869 743.6L874.3 742.2L879.5 740.9L884.7 739.5L890 738.1L895.2 736.7L900.5 735.3L905.7 734L911 732.7L916.2 731.5L921.4 730.2L926.7 728.8L931.9 727.4L937.2 725.9L942.4 724.3L947.7 722.5L952.9 720.5L958.2 718.2L963.4 715.8L968.6 713.1L973.9 710.4L979.1 707.6L984.4 704.8L989.6 701.9L994.9 699.1L1000.1 696.4L1005.4 693.6L1010.6 690.8L1015.8 688L1021.1 685.1L1026.3 682.2L1031.6 679.4L1036.8 676.5L1042.1 673.7L1047.3 670.9L1052.5 668.2L1057.8 665.5L1063 662.8L1068.3 660.1L1073.5 657.5L1078.8 654.8L1084 652.2L1089.3 649.6L1094.5 647L1099.7 644.4L1105 641.9L1110.2 639.3L1115.5 636.8L1120.7 634.2L1126 631.7L1131.2 629.2L1136.4 626.8L1141.7 624.3L1146.9 621.8L1152.2 619.4L1157.4 617L1162.7 614.6L1167.9 612.1L1173.2 609.8L1178.4 607.4L1183.6 605L1188.9 602.7L1194.1 600.3L1199.4 598L1204.6 595.7L1209.9 593.3L1215.1 590.9L1220.4 588.6L1225.6 586.2L1230.8 583.9L1236.1 581.7L1241.3 579.5L1246.6 577.5L1251.8 575.6L1257.1 573.8L1262.3 572.1L1267.5 570.4L1272.8 568.7L1278 567.1L1283.3 565.6L1288.5 564.2L1293.8 562.9L1299 561.7L1304.3 560.7L1309.5 559.7L1314.7 558.7L1320 557.7L1325.2 556.8L1330.5 555.9L1335.7 555.2L1341 554.6L1346.2 554.2L1351.4 554L1356.7 554L1361.9 554.1L1367.2 554.2L1372.4 554.5L1377.7 554.8L1382.9 555.1L1388.2 555.5L1393.4 555.9L1398.6 556.3L1403.9 556.8L1409.1 557.2L1414.4 557.8L1419.6 558.4L1424.9 559.1L1430.1 559.8L1435.4 560.5L1440.6 561.3L1445.8 562L1451.1 562.7L1456.3 563.3L1461.6 563.9L1466.8 564.4L1472.1 564.9L1477.3 565.4L1482.5 565.9L1487.8 566.5L1493 567L1498.3 567.7L1503.5 568.4L1508.8 569.2L1514 570.2L1519.3 571.3L1524.5 572.5L1529.7 573.9L1535 575.3L1540.2 576.9L1545.5 578.5L1550.7 580.2L1556 581.9L1561.2 583.6L1566.4 585.5L1571.7 587.6L1576.9 589.7L1582.2 592L1587.4 594.3L1592.7 596.8L1597.9 599.3L1603.2 601.8L1608.4 604.4L1613.6 607.1L1618.9 610L1624.1 612.9L1629.4 616L1634.6 619.2L1639.9 622.4L1645.1 625.7L1650.4 629L1655.6 632.4L1660.8 635.8L1666.1 639.3L1671.3 642.8L1676.6 646.5L1681.8 650.2L1687.1 654L1692.3 657.8L1697.5 661.6L1702.8 665.4L1708 669.2L1713.3 673L1718.5 676.9L1723.8 680.7L1729 684.6L1734.3 688.5L1739.5 692.4L1744.7 696.4L1750 700.3L1755.2 704.3L1760.5 708.3L1765.7 712.4L1771 716.5L1776.2 720.7L1781.4 724.9L1786.7 729.1L1791.9 733.2L1797.2 737.4L1802.4 741.4L1807.7 745.3L1812.9 749.1L1818.2 752.8L1823.4 756.5L1828.6 760L1833.9 763.6L1839.1 767L1844.4 770.5L1849.6 773.8L1854.9 777.1L1860.1 780.4L1865.3 783.6L1870.6 786.8L1875.8 790L1881.1 793.1L1886.3 796.2L1891.6 799.3L1896.8 802.2L1902.1 805L1907.3 807.7L1912.5 810.2L1917.8 812.6L1923 815L1928.3 817.2L1933.5 819.4L1938.8 821.5L1944 823.5L1949.3 825.5L1954.5 827.3L1959.7 829.1L1965 830.7L1970.2 832.3L1975.5 833.7L1980.7 835.1L1986 836.4L1991.2 837.7L1996.4 839L2001.7 840.2L2006.9 841.4L2012.2 842.7L2017.4 843.9L2022.7 845.2L2027.9 846.5L2033.2 847.8L2038.4 849L2043.6 850.3L2048.9 851.5L2054.1 852.6L2059.4 853.7L2064.6 854.8L2069.9 855.8L2075.1 856.7L2080.3 857.6L2085.6 858.5L2090.8 859.3L2096.1 860.1L2101.3 861L2106.6 861.8L2111.8 862.6L2117.1 863.5L2122.3 864.3" stroke="#00ff00" stroke-width="4.6" fill="none" stroke-linejoin="round"/>
<path d="M234.5 837.2L237.8 845.7L246.9 846.2L239.8 851.9L242.1 860.7L234.5 855.8L226.9 860.7L229.2 851.9L222.1 846.2L231.2 845.7Z" stroke="#00ff00" stroke-width="2.5" fill="#fff" stroke-linejoin="miter"/>
<path d="M285.4 836.1L288.7 844.5L297.7 845L290.7 850.8L293 859.6L285.4 854.7L277.7 859.6L280 850.8L273 845L282.1 844.5Z" stroke="#00ff00" stroke-width="2.5" fill="#fff" stroke-linejoin="miter"/>
<path d="M336.2 830.9L339.5 839.4L348.6 839.9L341.6 845.6L343.9 854.4L336.2 849.5L328.6 854.4L330.9 845.6L323.9 839.9L332.9 839.4Z" stroke="#00ff00" stroke-width="2.5" fill="#fff" stroke-linejoin="miter"/>
<path d="M387.1 816.1L390.4 824.5L399.5 825.1L392.4 830.8L394.7 839.6L387.1 834.7L379.5 839.6L381.8 830.8L374.7 825.1L383.8 824.5Z" stroke="#00ff00" stroke-width="2.5" fill="#fff" stroke-linejoin="miter"/>
<path d="M438 797.2L441.3 805.7L450.3 806.2L443.3 812L445.6 820.8L438 815.8L430.3 820.8L432.6 812L425.6 806.2L434.7 805.7Z" stroke="#00ff00" stroke-width="2.5" fill="#fff" stroke-linejoin="miter"/>
<path d="M488.8 805.8L492.1 814.3L501.2 814.8L494.2 820.5L496.5 829.3L488.8 824.4L481.2 829.3L483.5 820.5L476.5 814.8L485.5 814.3Z" stroke="#00ff00" stroke-width="2.5" fill="#fff" stroke-linejoin="miter"/>
<path d="M539.7 799.2L543 807.7L552.1 808.2L545 814L547.3 822.8L539.7 817.8L532.1 822.8L534.4 814L527.3 808.2L536.4 807.7Z" stroke="#00ff00" stroke-width="2.5" fill="#fff" stroke-linejoin="miter"/>
<path d="M590.6 788.7L593.9 797.2L602.9 797.7L595.9 803.4L598.2 812.2L590.6 807.3L582.9 812.2L585.2 803.4L578.2 797.7L587.3 797.2Z" stroke="#00ff00" stroke-width="2.5" fill="#fff" stroke-linejoin="miter"/>
<path d="M641.4 780.1L644.7 788.6L653.8 789.1L646.8 794.9L649.1 803.6L641.4 798.7L633.8 803.6L636.1 794.9L629.1 789.1L638.1 788.6Z" stroke="#00ff00" stroke-width="2.5" fill="#fff" stroke-linejoin="miter"/>
<path d="M692.3 773.3L695.6 781.7L704.7 782.3L697.6 788L699.9 796.8L692.3 791.9L684.7 796.8L687 788L679.9 782.3L689 781.7Z" stroke="#00ff00" stroke-width="2.5" fill="#fff" stroke-linejoin="miter"/>
<path d="M743.2 764.1L746.4 772.6L755.5 773.1L748.5 778.9L750.8 787.7L743.2 782.7L735.5 787.7L737.8 778.9L730.8 773.1L739.9 772.6Z" stroke="#00ff00" stroke-width="2.5" fill="#fff" stroke-linejoin="miter"/>
<path d="M794 752.2L797.3 760.6L806.4 761.1L799.3 766.9L801.7 775.7L794 770.8L786.4 775.7L788.7 766.9L781.7 761.1L790.7 760.6Z" stroke="#00ff00" stroke-width="2.5" fill="#fff" stroke-linejoin="miter"/>
<path d="M844.9 738.2L848.2 746.6L857.3 747.2L850.2 752.9L852.5 761.7L844.9 756.8L837.2 761.7L839.6 752.9L832.5 747.2L841.6 746.6Z" stroke="#00ff00" stroke-width="2.5" fill="#fff" stroke-linejoin="miter"/>
<path d="M895.8 724.8L899 733.2L908.1 733.8L901.1 739.5L903.4 748.3L895.8 743.4L888.1 748.3L890.4 739.5L883.4 733.8L892.5 733.2Z" stroke="#00ff00" stroke-width="2.5" fill="#fff" stroke-linejoin="miter"/>
<path d="M946.6 711.1L949.9 719.5L959 720.1L951.9 725.8L954.3 734.6L946.6 729.7L939 734.6L941.3 725.8L934.3 720.1L943.3 719.5Z" stroke="#00ff00" stroke-width="2.5" fill="#fff" stroke-linejoin="miter"/>
<path d="M997.5 686L1000.8 694.4L1009.8 694.9L1002.8 700.7L1005.1 709.5L997.5 704.6L989.8 709.5L992.2 700.7L985.1 694.9L994.2 694.4Z" stroke="#00ff00" stroke-width="2.5" fill="#fff" stroke-linejoin="miter"/>
<path d="M1048.4 658.6L1051.6 667L1060.7 667.5L1053.7 673.3L1056 682.1L1048.4 677.2L1040.7 682.1L1043 673.3L1036 667.5L1045.1 667Z" stroke="#00ff00" stroke-width="2.5" fill="#fff" stroke-linejoin="miter"/>
<path d="M1099.2 632.9L1102.5 641.4L1111.6 641.9L1104.5 647.6L1106.9 656.4L1099.2 651.5L1091.6 656.4L1093.9 647.6L1086.9 641.9L1095.9 641.4Z" stroke="#00ff00" stroke-width="2.5" fill="#fff" stroke-linejoin="miter"/>
<path d="M1150.1 608.6L1153.4 617L1162.4 617.6L1155.4 623.3L1157.7 632.1L1150.1 627.2L1142.4 632.1L1144.8 623.3L1137.7 617.6L1146.8 617Z" stroke="#00ff00" stroke-width="2.5" fill="#fff" stroke-linejoin="miter"/>
<path d="M1200.9 585.5L1204.2 594L1213.3 594.5L1206.3 600.2L1208.6 609L1200.9 604.1L1193.3 609L1195.6 600.2L1188.6 594.5L1197.7 594Z" stroke="#00ff00" stroke-width="2.5" fill="#fff" stroke-linejoin="miter"/>
<path d="M1251.8 563.8L1255.1 572.3L1264.2 572.8L1257.1 578.6L1259.5 587.3L1251.8 582.4L1244.2 587.3L1246.5 578.6L1239.5 572.8L1248.5 572.3Z" stroke="#00ff00" stroke-width="2.5" fill="#fff" stroke-linejoin="miter"/>
<path d="M1302.7 549.2L1306 557.7L1315 558.2L1308 564L1310.3 572.7L1302.7 567.8L1295 572.7L1297.4 564L1290.3 558.2L1299.4 557.7Z" stroke="#00ff00" stroke-width="2.5" fill="#fff" stroke-linejoin="miter"/>
<path d="M1353.5 542.1L1356.8 550.6L1365.9 551.1L1358.9 556.9L1361.2 565.7L1353.5 560.7L1345.9 565.7L1348.2 556.9L1341.2 551.1L1350.3 550.6Z" stroke="#00ff00" stroke-width="2.5" fill="#fff" stroke-linejoin="miter"/>
<path d="M1404.4 545L1407.7 553.5L1416.8 554L1409.7 559.7L1412.1 568.5L1404.4 563.6L1396.8 568.5L1399.1 559.7L1392 554L1401.1 553.5Z" stroke="#00ff00" stroke-width="2.5" fill="#fff" stroke-linejoin="miter"/>
<path d="M1455.3 551.4L1458.6 559.9L1467.6 560.4L1460.6 566.1L1462.9 574.9L1455.3 570L1447.6 574.9L1450 566.1L1442.9 560.4L1452 559.9Z" stroke="#00ff00" stroke-width="2.5" fill="#fff" stroke-linejoin="miter"/>
<path d="M1506.1 557L1509.4 565.5L1518.5 566L1511.5 571.7L1513.8 580.5L1506.1 575.6L1498.5 580.5L1500.8 571.7L1493.8 566L1502.9 565.5Z" stroke="#00ff00" stroke-width="2.5" fill="#fff" stroke-linejoin="miter"/>
<path d="M1557 570.4L1560.3 578.9L1569.4 579.4L1562.3 585.1L1564.6 593.9L1557 589L1549.4 593.9L1551.7 585.1L1544.6 579.4L1553.7 578.9Z" stroke="#00ff00" stroke-width="2.5" fill="#fff" stroke-linejoin="miter"/>
<path d="M1607.9 592.4L1611.2 600.8L1620.2 601.3L1613.2 607.1L1615.5 615.9L1607.9 611L1600.2 615.9L1602.5 607.1L1595.5 601.3L1604.6 600.8Z" stroke="#00ff00" stroke-width="2.5" fill="#fff" stroke-linejoin="miter"/>
<path d="M1658.7 622.6L1662 631.1L1671.1 631.6L1664.1 637.3L1666.4 646.1L1658.7 641.2L1651.1 646.1L1653.4 637.3L1646.4 631.6L1655.4 631.1Z" stroke="#00ff00" stroke-width="2.5" fill="#fff" stroke-linejoin="miter"/>
<path d="M1709.6 658.6L1712.9 667L1722 667.5L1714.9 673.3L1717.2 682.1L1709.6 677.2L1702 682.1L1704.3 673.3L1697.2 667.5L1706.3 667Z" stroke="#00ff00" stroke-width="2.5" fill="#fff" stroke-linejoin="miter"/>
<path d="M1760.5 696.5L1763.8 705L1772.8 705.5L1765.8 711.2L1768.1 720L1760.5 715.1L1752.8 720L1755.1 711.2L1748.1 705.5L1757.2 705Z" stroke="#00ff00" stroke-width="2.5" fill="#fff" stroke-linejoin="miter"/>
<path d="M1811.3 736.2L1814.6 744.7L1823.7 745.2L1816.7 750.9L1819 759.7L1811.3 754.8L1803.7 759.7L1806 750.9L1799 745.2L1808 744.7Z" stroke="#00ff00" stroke-width="2.5" fill="#fff" stroke-linejoin="miter"/>
<path d="M1862.2 769.9L1865.5 778.3L1874.6 778.8L1867.5 784.6L1869.8 793.4L1862.2 788.5L1854.6 793.4L1856.9 784.6L1849.8 778.8L1858.9 778.3Z" stroke="#00ff00" stroke-width="2.5" fill="#fff" stroke-linejoin="miter"/>
<path d="M1913.1 798.7L1916.4 807.1L1925.4 807.7L1918.4 813.4L1920.7 822.2L1913.1 817.3L1905.4 822.2L1907.7 813.4L1900.7 807.7L1909.8 807.1Z" stroke="#00ff00" stroke-width="2.5" fill="#fff" stroke-linejoin="miter"/>
<path d="M1963.9 818.6L1967.2 827.1L1976.3 827.6L1969.3 833.3L1971.6 842.1L1963.9 837.2L1956.3 842.1L1958.6 833.3L1951.6 827.6L1960.6 827.1Z" stroke="#00ff00" stroke-width="2.5" fill="#fff" stroke-linejoin="miter"/>
<path d="M2014.8 831.5L2018.1 840L2027.2 840.5L2020.1 846.2L2022.4 855L2014.8 850.1L2007.2 855L2009.5 846.2L2002.4 840.5L2011.5 840Z" stroke="#00ff00" stroke-width="2.5" fill="#fff" stroke-linejoin="miter"/>
<path d="M2065.7 843.2L2069 851.7L2078 852.2L2071 857.9L2073.3 866.7L2065.7 861.8L2058 866.7L2060.3 857.9L2053.3 852.2L2062.4 851.7Z" stroke="#00ff00" stroke-width="2.5" fill="#fff" stroke-linejoin="miter"/>
<path d="M2116.5 851.6L2119.8 860L2128.9 860.6L2121.9 866.3L2124.2 875.1L2116.5 870.2L2108.9 875.1L2111.2 866.3L2104.2 860.6L2113.2 860Z" stroke="#00ff00" stroke-width="2.5" fill="#fff" stroke-linejoin="miter"/>
</g>
<text transform="translate(113.5 0) rotate(-90)" font-size="61" word-spacing="6.5" letter-spacing="0.0"><tspan x="-1185" y="0">Suction chamber pressure </tspan><tspan font-size="83" x="-525.5" y="4.5">[</tspan><tspan x="-500.4" y="0">MPa</tspan><tspan font-size="83" x="-385.2" y="4.5">]</tspan></text>
<rect x="395" y="177.5" width="670" height="451" fill="#fff" stroke="#3a3a3a" stroke-width="2.6"/>
<line x1="410.4" y1="219.1" x2="431.7" y2="219.1" stroke="#3a3a3a" stroke-width="4.8"/>
<line x1="451.6" y1="219.1" x2="513.1" y2="219.1" stroke="#3a3a3a" stroke-width="4.8"/>
<line x1="533.5" y1="219.1" x2="551.1" y2="219.1" stroke="#3a3a3a" stroke-width="4.8"/>
<path d="M467.8 206.1L493.8 232.1M467.8 232.1L493.8 206.1" stroke="#3a3a3a" stroke-width="2.9" fill="none"/>
<text x="562.5" y="239.6" font-size="61" text-anchor="start">Lumped_ ideal gas</text>
<line x1="410.4" y1="294.4" x2="551.1" y2="294.4" stroke="#ff1a1a" stroke-width="4.8"/>
<circle cx="480.8" cy="294.4" r="9.8" stroke="#ff1a1a" stroke-width="3.2" fill="#fff"/>
<text x="562.5" y="314.9" font-size="61" text-anchor="start">Lumped_real gas</text>
<line x1="410.4" y1="369.8" x2="431.7" y2="369.8" stroke="#1414ff" stroke-width="4.8"/>
<line x1="451.6" y1="369.8" x2="513.1" y2="369.8" stroke="#1414ff" stroke-width="4.8"/>
<line x1="533.5" y1="369.8" x2="551.1" y2="369.8" stroke="#1414ff" stroke-width="4.8"/>
<path d="M480.8 355.1L493.3 377.1L468.3 377.1Z" stroke="#1414ff" stroke-width="3.2" fill="#fff" stroke-linejoin="miter"/>
<text x="562.5" y="390.3" font-size="61" text-anchor="start">Hybrid_ideal gas_R</text>
<line x1="410.4" y1="445.1" x2="551.1" y2="445.1" stroke="#e8553d" stroke-width="4.8"/>
<path d="M480.8 459.8L493.3 437.8L468.3 437.8Z" stroke="#e8553d" stroke-width="3.2" fill="#fff" stroke-linejoin="miter"/>
<text x="562.5" y="465.6" font-size="61" text-anchor="start">Hybrid_real gas_R</text>
<line x1="410.4" y1="520.5" x2="431.7" y2="520.5" stroke="#ff2cff" stroke-width="4.8"/>
<line x1="451.6" y1="520.5" x2="458.4" y2="520.5" stroke="#ff2cff" stroke-width="4.8"/>
<line x1="503.1" y1="520.5" x2="524.4" y2="520.5" stroke="#ff2cff" stroke-width="4.8"/>
<line x1="544.3" y1="520.5" x2="551.1" y2="520.5" stroke="#ff2cff" stroke-width="4.8"/>
<rect x="471.5" y="511.2" width="18.6" height="18.6" stroke="#ff2cff" stroke-width="3.2" fill="#fff"/>
<text x="562.5" y="541" font-size="61" text-anchor="start">Hybrid_ideal gas</text>
<line x1="410.4" y1="595.9" x2="456.6" y2="595.9" stroke="#00ff00" stroke-width="4.8"/>
<line x1="503.1" y1="595.9" x2="551.1" y2="595.9" stroke="#00ff00" stroke-width="4.8"/>
<path d="M480.8 584.1L484.1 592.5L493.2 593L486.1 598.8L488.4 607.6L480.8 602.7L473.2 607.6L475.5 598.8L468.4 593L477.5 592.5Z" stroke="#00ff00" stroke-width="2.5" fill="#fff" stroke-linejoin="miter"/>
<text x="562.5" y="616.4" font-size="61" text-anchor="start">Hybrid_real gas</text>
<text x="50" y="1429" font-size="65" text-anchor="start">(a)</text>
</g>
<g id="panel-b">
<line x1="1178.4" y1="1575.8" x2="1178.4" y2="2710.5" stroke="#222" stroke-width="2.4" stroke-dasharray="9.6 6.13"/>
<rect x="234.5" y="1569.8" width="1887.8" height="1140.7" fill="none" stroke="#000" stroke-width="3.5"/>
<line x1="391.8" y1="2710.5" x2="391.8" y2="2698" stroke="#000" stroke-width="3"/>
<line x1="549.1" y1="2710.5" x2="549.1" y2="2685.5" stroke="#000" stroke-width="3"/>
<line x1="706.5" y1="2710.5" x2="706.5" y2="2698" stroke="#000" stroke-width="3"/>
<line x1="863.8" y1="2710.5" x2="863.8" y2="2685.5" stroke="#000" stroke-width="3"/>
<line x1="1021.1" y1="2710.5" x2="1021.1" y2="2698" stroke="#000" stroke-width="3"/>
<line x1="1178.4" y1="2710.5" x2="1178.4" y2="2685.5" stroke="#000" stroke-width="3"/>
<line x1="1335.7" y1="2710.5" x2="1335.7" y2="2698" stroke="#000" stroke-width="3"/>
<line x1="1493" y1="2710.5" x2="1493" y2="2685.5" stroke="#000" stroke-width="3"/>
<line x1="1650.4" y1="2710.5" x2="1650.4" y2="2698" stroke="#000" stroke-width="3"/>
<line x1="1807.7" y1="2710.5" x2="1807.7" y2="2685.5" stroke="#000" stroke-width="3"/>
<line x1="1965" y1="2710.5" x2="1965" y2="2698" stroke="#000" stroke-width="3"/>
<text x="234.5" y="2783.5" font-size="61" text-anchor="middle">0</text>
<text x="549.1" y="2783.5" font-size="61" text-anchor="middle">60</text>
<text x="863.8" y="2783.5" font-size="61" text-anchor="middle">120</text>
<text x="1178.4" y="2783.5" font-size="61" text-anchor="middle">180</text>
<text x="1493" y="2783.5" font-size="61" text-anchor="middle">240</text>
<text x="1807.7" y="2783.5" font-size="61" text-anchor="middle">300</text>
<text x="2122.3" y="2783.5" font-size="61" text-anchor="middle">360</text>
<text x="1176.6" y="2843.2" font-size="61" text-anchor="middle">Crank angle [deg]</text>
<line x1="234.5" y1="2491.1" x2="259.5" y2="2491.1" stroke="#000" stroke-width="3"/>
<line x1="234.5" y1="2271.8" x2="259.5" y2="2271.8" stroke="#000" stroke-width="3"/>
<line x1="234.5" y1="2052.4" x2="259.5" y2="2052.4" stroke="#000" stroke-width="3"/>
<line x1="234.5" y1="1833" x2="259.5" y2="1833" stroke="#000" stroke-width="3"/>
<line x1="234.5" y1="1613.7" x2="259.5" y2="1613.7" stroke="#000" stroke-width="3"/>
<line x1="234.5" y1="2600.8" x2="247" y2="2600.8" stroke="#000" stroke-width="3"/>
<line x1="234.5" y1="2381.5" x2="247" y2="2381.5" stroke="#000" stroke-width="3"/>
<line x1="234.5" y1="2162.1" x2="247" y2="2162.1" stroke="#000" stroke-width="3"/>
<line x1="234.5" y1="1942.7" x2="247" y2="1942.7" stroke="#000" stroke-width="3"/>
<line x1="234.5" y1="1723.4" x2="247" y2="1723.4" stroke="#000" stroke-width="3"/>
<text x="209.5" y="2727.5" font-size="61" text-anchor="end">0.0</text>
<text x="209.5" y="2508.1" font-size="61" text-anchor="end">0.5</text>
<text x="209.5" y="2288.8" font-size="61" text-anchor="end">1.0</text>
<text x="209.5" y="2069.4" font-size="61" text-anchor="end">1.5</text>
<text x="209.5" y="1850" font-size="61" text-anchor="end">2.0</text>
<text x="209.5" y="1630.7" font-size="61" text-anchor="end">2.5</text>
<g clip-path="url(#clipb)">
<path d="M234.5 2710.5L260.7 2710.5L286.9 2710.5L313.2 2710.5L339.4 2710.5L365.6 2710.5L391.8 2710.5L392.3 2710.5L392.9 2710.5L393.4 2710.5L393.9 2710.5L394.4 2710.5L395 2710.5L395.5 2710.5L396 2710.5L396.5 2710.5L397.1 2710.5L397.6 2710.5L398.1 2710.5L398.6 2710.5L399.2 2710.5L399.7 2710.5L400.2 2710.5L400.7 2710.5L401.3 2710.5L401.8 2710.5L402.3 2710.5L402.8 2710.5L403.4 2710.5L403.9 2710.5L404.4 2710.5L404.9 2710.5L405.5 2710.5L406 2710.5L406.5 2710.5L407 2710.5L407.5 2710.5L408.1 2710.5L408.6 2710.5L409.1 2710.5L409.6 2710.5L410.2 2710.5L410.7 2710.5L411.2 2710.5L411.7 2710.5L412.3 2710.5L412.8 2710.5L413.3 2710.5L413.8 2710.5L414.4 2710.5L414.9 2710.5L415.4 2710.5L415.9 2710.5L416.5 2710.5L417 2710.5L417.5 2710.5L418 2710.5L418.6 2710.5L419.1 2710.5L419.6 2710.5L420.1 2710.5L420.7 2710.5L421.2 2710.5L421.7 2710.5L422.2 2710.5L422.8 2710.5L423.3 2688.6L423.8 2661L424.3 2630.9L424.9 2598.4L425.4 2563.8L425.9 2527.2L426.4 2488.7L427 2448.7L427.5 2407.2L428 2364.4L428.5 2320.6L429 2275.8L429.6 2230.3L430.1 2184.3L430.6 2137.9L431.1 2091.4L431.7 2044.9L432.2 1998.5L432.7 1952.5L433.2 1907.1L433.8 1862.4L434.3 1818.7L434.8 1776L435.3 1725.3L435.9 1674.3L436.4 1648.8L436.9 1644.7L437.4 1641L438 1637.6L438.5 1634.5L439 1631.6L439.5 1629L440.1 1626.7L440.6 1624.5L441.1 1622.7L441.6 1621L442.2 1619.5L442.7 1618.3L443.2 1617.2L443.7 1616.3L444.3 1615.5L444.8 1614.9L445.3 1614.4L445.8 1614.1L446.4 1613.8L446.9 1613.7L447.4 1613.7L447.9 1613.7L448.5 1613.7L449 1613.7L449.5 1613.7L450 1613.7L450.5 1613.7L451.1 1613.7L451.6 1613.7L452.1 1613.7L452.6 1613.7L453.2 1613.7L453.7 1613.7L454.2 1613.7L454.7 1613.7L455.3 1613.7L455.8 1613.7L456.3 1613.7L456.8 1613.7L457.4 1613.7L457.9 1613.7L458.4 1613.7L458.9 1613.7L459.5 1613.7L460 1613.7L460.5 1613.7L461 1613.7L461.6 1613.7L462.1 1613.7L462.6 1613.7L463.1 1613.7L463.7 1613.7L464.2 1613.7L464.7 1613.7L465.2 1613.7L465.8 1613.7L466.3 1613.7L466.8 1613.7L467.3 1613.7L467.9 1613.7L468.4 1613.7L468.9 1613.7L469.4 1613.7L470 1613.7L470.5 1613.7L471 1613.7L471.5 1613.7L472 1613.7L472.6 1613.7L473.1 1613.7L473.6 1613.7L474.1 1613.7L474.7 1613.7L475.2 1613.7L475.7 1613.7L501.9 1613.7L528.2 1613.7L554.4 1613.7L580.6 1613.7L606.8 1613.7L633 1613.7L659.3 1613.7L685.5 1613.7L711.7 1613.7L737.9 1613.7L764.1 1613.7L790.4 1613.7L816.6 1613.7L842.8 1613.7L869 1613.7L895.2 1613.7L921.4 1613.7L947.7 1613.7L973.9 1613.7L1000.1 1613.7L1026.3 1613.7L1052.5 1613.7L1073.5 1613.7L1074 1613.7L1074.6 1613.7L1075.1 1613.7L1075.6 1613.7L1076.1 1613.7L1076.7 1613.7L1077.2 1613.7L1077.7 1613.7L1078.2 1613.7L1078.8 1613.7L1079.3 1613.7L1079.8 1613.7L1080.3 1613.7L1080.9 1613.7L1081.4 1613.7L1081.9 1613.7L1082.4 1613.7L1083 1613.7L1083.5 1613.7L1084 1613.7L1084.5 1613.7L1085.1 1613.7L1085.6 1613.7L1086.1 1613.7L1086.6 1613.7L1087.2 1613.7L1087.7 1613.7L1088.2 1613.7L1088.7 1613.7L1089.3 1613.7L1089.8 1613.7L1090.3 1613.7L1090.8 1613.7L1091.4 1613.7L1091.9 1613.7L1092.4 1613.7L1092.9 1613.7L1093.4 1613.7L1094 1613.7L1094.5 1613.7L1095 1613.7L1095.5 1613.7L1096.1 1613.7L1096.6 1613.7L1097.1 1613.7L1097.6 1613.8L1098.2 1614L1098.7 1614.3L1099.2 1614.7L1099.7 1615.1L1100.3 1615.7L1100.8 1616.3L1101.3 1617L1101.8 1617.8L1102.4 1618.7L1102.9 1619.7L1103.4 1620.8L1103.9 1622L1104.5 1623.2L1105 1624.5L1105.5 1625.9L1106 1627.4L1106.6 1629L1107.1 1630.7L1107.6 1632.5L1108.1 1634.3L1108.7 1636.3L1109.2 1638.3L1109.7 1640.4L1110.2 1642.6L1110.8 1644.9L1111.3 1647.3L1111.8 1649.7L1112.3 1652.3L1112.9 1654.9L1113.4 1657.6L1113.9 1660.4L1114.4 1663.3L1114.9 1666.3L1115.5 1669.4L1116 1672.6L1116.5 1675.8L1117 1679.1L1117.6 1682.5L1118.1 1686L1118.6 1689.6L1119.1 1693.3L1119.7 1697.1L1120.2 1700.9L1120.7 1704.9L1121.2 1708.9L1121.8 1713L1122.3 1717.2L1122.8 1721.5L1123.3 1725.9L1123.9 1730.3L1124.4 1734.9L1124.9 1739.5L1125.4 1744.2L1126 1749L1126.5 1753.9L1127 1758.9L1127.5 1764L1128.1 1769.2L1128.6 1774.4L1129.1 1779.7L1129.6 1785.1L1130.2 1790.6L1130.7 1796.2L1131.2 1801.9L1131.7 1807.7L1132.3 1813.5L1132.8 1819.5L1133.3 1825.5L1133.8 1831.6L1134.4 1837.8L1134.9 1844.1L1135.4 1850.5L1135.9 1856.9L1136.4 1863.5L1137 1870.1L1137.5 1876.8L1138 1883.6L1138.5 1890.5L1139.1 1897.5L1139.6 1904.6L1140.1 1911.8L1140.6 1919L1141.2 1926.3L1141.7 1933.7L1142.2 1941.2L1142.7 1948.8L1143.3 1956.5L1143.8 1964.3L1144.3 1972.1L1144.8 1980.1L1145.4 1988.1L1145.9 1996.2L1146.4 2004.4L1146.9 2012.7L1147.5 2021.1L1148 2029.5L1148.5 2038.1L1149 2046.7L1149.6 2055.4L1150.1 2064.2L1150.6 2073.1L1151.1 2082.1L1151.7 2091.2L1152.2 2100.4L1152.7 2109.6L1153.2 2118.9L1153.8 2128.3L1154.3 2137.8L1154.8 2147.4L1155.3 2157.1L1155.9 2166.9L1156.4 2176.7L1156.9 2186.7L1157.4 2196.7L1157.9 2206.8L1158.5 2217L1159 2227.3L1159.5 2237.7L1160 2248.1L1160.6 2258.7L1161.1 2269.3L1161.6 2280L1162.1 2290.8L1162.7 2301.7L1163.2 2312.7L1163.7 2323.8L1164.2 2335L1164.8 2346.2L1165.3 2357.5L1165.8 2368.9L1166.3 2380.4L1166.9 2392L1167.4 2403.7L1167.9 2415.5L1168.4 2427.3L1169 2439.3L1169.5 2451.3L1170 2463.4L1170.5 2475.6L1171.1 2487.9L1171.6 2500.3L1172.1 2512.7L1172.6 2525.3L1173.2 2537.9L1173.7 2550.6L1174.2 2563.4L1174.7 2576.3L1175.3 2589.3L1175.8 2602.4L1176.3 2615.6L1176.8 2628.8L1177.4 2642.1L1177.9 2655.5L1178.4 2669L1178.9 2682.6L1179.4 2696.3L1180 2710.1L1180.5 2706.1L1181 2702.4L1181.5 2698.8L1182.1 2695.3L1182.6 2692L1183.1 2688.7L1183.6 2685.5L1184.2 2682.4L1184.7 2679.4L1185.2 2676.4L1185.7 2673.5L1186.3 2670.6L1186.8 2667.8L1187.3 2665.1L1187.8 2662.4L1188.4 2659.8L1188.9 2657.3L1189.4 2654.8L1189.9 2652.4L1190.5 2650.1L1191 2647.9L1191.5 2645.7L1192 2643.6L1192.6 2641.5L1193.1 2639.6L1193.6 2637.7L1194.1 2635.9L1194.7 2634.2L1195.2 2632.6L1195.7 2631L1196.2 2629.6L1196.8 2628.2L1197.3 2626.9L1197.8 2625.7L1198.3 2624.6L1198.9 2623.5L1199.4 2622.6L1199.9 2621.8L1200.4 2621L1200.9 2620.4L1201.5 2619.8L1202 2619.3L1202.5 2618.9L1203 2618.7L1203.6 2618.5L1204.1 2618.4L1204.6 2618.4L1205.1 2618.5L1205.7 2618.7L1206.2 2618.9L1206.7 2619.3L1207.2 2619.8L1207.8 2620.4L1208.3 2621L1208.8 2621.8L1209.3 2622.6L1209.9 2623.5L1210.4 2624.6L1210.9 2625.7L1211.4 2626.9L1212 2628.2L1212.5 2629.6L1213 2631L1213.5 2632.6L1214.1 2634.2L1214.6 2635.9L1215.1 2637.7L1215.6 2639.6L1216.2 2641.5L1216.7 2643.6L1217.2 2645.7L1217.7 2647.9L1218.3 2650.1L1218.8 2652.4L1219.3 2654.8L1219.8 2657.3L1220.4 2659.8L1220.9 2662.4L1221.4 2665.1L1221.9 2667.8L1222.4 2670.6L1223 2673.5L1223.5 2676.4L1224 2679.4L1224.5 2682.4L1225.1 2685.5L1225.6 2688.7L1226.1 2692L1226.6 2695.3L1227.2 2698.8L1227.7 2702.4L1228.2 2706.1L1228.7 2710.5L1229.3 2710.5L1229.8 2710.5L1230.3 2710.5L1230.8 2710.5L1231.4 2710.5L1231.9 2710.5L1232.4 2710.5L1232.9 2710.5L1233.5 2710.5L1234 2710.5L1234.5 2710.5L1235 2710.5L1235.6 2710.5L1236.1 2710.5L1236.6 2710.5L1237.1 2710.5L1237.7 2710.5L1238.2 2710.5L1238.7 2710.5L1239.2 2710.5L1239.8 2710.5L1240.3 2710.5L1240.8 2710.5L1241.3 2710.5L1241.9 2710.5L1242.4 2710.5L1242.9 2710.5L1243.4 2710.5L1243.9 2710.5L1244.5 2710.5L1245 2710.5L1245.5 2710.5L1246 2710.5L1246.6 2710.5L1247.1 2710.5L1247.6 2710.5L1248.1 2710.5L1248.7 2710.5L1249.2 2710.5L1249.7 2710.5L1250.2 2710.5L1250.8 2710.5L1251.3 2710.5L1251.8 2710.5L1252.3 2710.5L1252.9 2710.5L1253.4 2710.5L1253.9 2710.5L1254.4 2710.5L1255 2710.5L1255.5 2710.5L1256 2710.5L1256.5 2710.5L1257.1 2710.5L1257.6 2710.5L1258.1 2710.5L1258.6 2710.5L1259.2 2710.5L1259.7 2710.5L1260.2 2710.5L1260.7 2710.5L1261.3 2710.5L1261.8 2710.5L1262.3 2710.5L1262.8 2710.5L1263.4 2710.5L1263.9 2710.5L1264.4 2710.5L1264.9 2710.5L1265.4 2710.5L1266 2710.5L1266.5 2710.5L1267 2710.5L1267.5 2710.5L1268.1 2710.5L1268.6 2710.5L1269.1 2710.5L1269.6 2710.5L1270.2 2710.5L1270.7 2710.5L1271.2 2710.5L1271.7 2710.5L1272.3 2710.5L1272.8 2710.5L1273.3 2710.5L1273.8 2710.5L1274.4 2710.5L1274.9 2710.5L1275.4 2710.5L1275.9 2710.5L1276.5 2710.5L1277 2710.5L1277.5 2710.5L1278 2710.5L1278.6 2710.5L1279.1 2710.5L1279.6 2710.5L1280.1 2710.5L1280.7 2710.5L1281.2 2710.5L1281.7 2710.5L1282.2 2710.5L1282.8 2710.5L1283.3 2710.5L1283.8 2710.5L1284.3 2710.5L1284.9 2710.5L1285.4 2710.5L1285.9 2710.5L1286.4 2710.5L1286.9 2710.5L1287.5 2710.5L1288 2710.5L1288.5 2710.5L1289 2710.5L1289.6 2710.5L1290.1 2710.5L1290.6 2710.5L1291.1 2710.5L1291.7 2710.5L1292.2 2710.5L1292.7 2710.5L1293.2 2710.5L1293.8 2710.5L1294.3 2710.5L1294.8 2710.5L1295.3 2710.5L1295.9 2710.5L1296.4 2710.5L1296.9 2710.5L1297.4 2710.5L1298 2710.5L1298.5 2710.5L1299 2710.5L1299.5 2710.5L1300.1 2710.5L1300.6 2710.5L1301.1 2710.5L1301.6 2710.5L1302.2 2710.5L1302.7 2710.5L1303.2 2710.5L1303.7 2710.5L1304.3 2710.5L1304.8 2710.5L1305.3 2710.5L1305.8 2710.5L1306.4 2710.5L1306.9 2710.5L1307.4 2710.5L1307.9 2710.5L1308.4 2710.5L1309 2710.5L1309.5 2710.5L1310 2710.5L1310.5 2710.5L1311.1 2710.5L1311.6 2710.5L1312.1 2710.5L1312.6 2710.5L1313.2 2710.5L1313.7 2710.5L1314.2 2710.5L1314.7 2710.5L1315.3 2710.5L1315.8 2710.5L1316.3 2710.5L1316.8 2710.5L1317.4 2710.5L1317.9 2710.5L1318.4 2710.5L1318.9 2710.5L1319.5 2710.5L1320 2710.5L1320.5 2710.5L1321 2710.5L1321.6 2710.5L1322.1 2710.5L1322.6 2710.5L1323.1 2710.5L1323.7 2710.5L1324.2 2710.5L1324.7 2710.5L1325.2 2710.5L1325.8 2710.5L1326.3 2710.5L1326.8 2710.5L1327.3 2710.5L1327.9 2710.5L1328.4 2710.5L1328.9 2710.5L1329.4 2710.5L1329.9 2710.5L1330.5 2710.5L1331 2710.5L1331.5 2710.5L1332 2710.5L1332.6 2710.5L1333.1 2710.5L1333.6 2710.5L1334.1 2710.5L1334.7 2710.5L1335.2 2710.5L1335.7 2710.5L1336.2 2710.5L1336.8 2710.5L1337.3 2710.5L1337.8 2710.5L1338.3 2710.5L1338.9 2710.5L1339.4 2710.5L1339.9 2710.5L1340.4 2710.5L1341 2710.5L1341.5 2710.5L1342 2710.5L1342.5 2710.5L1343.1 2710.5L1343.6 2710.5L1344.1 2710.5L1344.6 2710.5L1345.2 2710.5L1345.7 2710.5L1346.2 2710.5L1346.7 2710.5L1347.3 2710.5L1347.8 2710.5L1348.3 2710.5L1348.8 2710.5L1349.4 2710.5L1349.9 2710.5L1350.4 2710.5L1350.9 2710.5L1351.4 2710.5L1352 2710.5L1352.5 2710.5L1353 2710.5L1353.5 2710.5L1354.1 2710.5L1354.6 2710.5L1355.1 2710.5L1355.6 2710.5L1356.2 2710.5L1356.7 2710.5L1357.2 2710.5L1357.7 2710.5L1358.3 2710.5L1358.8 2710.5L1359.3 2710.5L1359.8 2710.5L1360.4 2710.5L1360.9 2710.5L1361.4 2710.5L1361.9 2710.5L1362.5 2710.5L1363 2710.5L1363.5 2710.5L1364 2710.5L1364.6 2710.5L1365.1 2710.5L1365.6 2710.5L1366.1 2710.5L1366.7 2710.5L1367.2 2710.5L1367.7 2710.5L1368.2 2710.5L1368.8 2710.5L1369.3 2710.5L1369.8 2710.5L1370.3 2710.5L1370.9 2710.5L1371.4 2710.5L1371.9 2710.5L1372.4 2710.5L1372.9 2710.5L1373.5 2710.5L1374 2710.5L1374.5 2710.5L1375 2710.5L1375.6 2710.5L1376.1 2710.5L1376.6 2710.5L1377.1 2710.5L1377.7 2710.5L1378.2 2710.5L1378.7 2710.5L1379.2 2710.5L1379.8 2710.5L1380.3 2710.5L1380.8 2710.5L1381.3 2710.5L1381.9 2710.5L1382.4 2710.5L1382.9 2710.5L1383.4 2710.5L1384 2710.5L1384.5 2710.5L1385 2710.5L1385.5 2710.5L1386.1 2710.5L1386.6 2710.5L1387.1 2710.5L1387.6 2710.5L1388.2 2710.5L1388.7 2710.5L1389.2 2710.5L1389.7 2710.5L1390.3 2710.5L1390.8 2710.5L1391.3 2710.5L1391.8 2710.5L1392.4 2710.5L1392.9 2710.5L1393.4 2710.5L1393.9 2710.5L1394.4 2710.5L1395 2710.5L1395.5 2710.5L1396 2710.5L1396.5 2710.5L1397.1 2710.5L1397.6 2710.5L1398.1 2710.5L1398.6 2710.5L1399.2 2710.5L1399.7 2710.5L1400.2 2710.5L1400.7 2710.5L1401.3 2710.5L1401.8 2710.5L1402.3 2710.5L1402.8 2710.5L1403.4 2710.5L1403.9 2710.5L1404.4 2710.5L1404.9 2710.5L1405.5 2710.5L1406 2710.5L1406.5 2710.5L1407 2710.5L1407.6 2710.5L1408.1 2710.5L1408.6 2710.5L1409.1 2710.5L1409.7 2710.5L1410.2 2710.5L1410.7 2710.5L1411.2 2710.5L1411.8 2710.5L1412.3 2710.5L1412.8 2710.5L1413.3 2710.5L1413.9 2710.5L1414.4 2710.5L1440.6 2710.5L1466.8 2710.5L1493 2710.5L1519.3 2710.5L1545.5 2710.5L1571.7 2710.5L1597.9 2710.5L1624.1 2710.5L1650.4 2710.5L1676.6 2710.5L1702.8 2710.5L1729 2710.5L1755.2 2710.5L1781.4 2710.5L1807.7 2710.5L1833.9 2710.5L1860.1 2710.5L1886.3 2710.5L1912.5 2710.5L1938.8 2710.5L1965 2710.5L1991.2 2710.5L2017.4 2710.5L2043.6 2710.5L2069.9 2710.5L2096.1 2710.5L2122.3 2710.5" stroke="#3a3a3a" stroke-width="4.6" fill="none" stroke-linejoin="round" stroke-dasharray="21 20"/>
<path d="M221.5 2697.5L247.5 2723.5M221.5 2723.5L247.5 2697.5" stroke="#3a3a3a" stroke-width="2.9" fill="none"/>
<path d="M268.7 2697.5L294.7 2723.5M268.7 2723.5L294.7 2697.5" stroke="#3a3a3a" stroke-width="2.9" fill="none"/>
<path d="M315.9 2697.5L341.9 2723.5M315.9 2723.5L341.9 2697.5" stroke="#3a3a3a" stroke-width="2.9" fill="none"/>
<path d="M363.1 2697.5L389.1 2723.5M363.1 2723.5L389.1 2697.5" stroke="#3a3a3a" stroke-width="2.9" fill="none"/>
<path d="M410.3 2675.6L436.3 2701.6M410.3 2701.6L436.3 2675.6" stroke="#3a3a3a" stroke-width="2.9" fill="none"/>
<path d="M457.5 1600.7L483.5 1626.7M457.5 1626.7L483.5 1600.7" stroke="#3a3a3a" stroke-width="2.9" fill="none"/>
<path d="M504.7 1600.7L530.7 1626.7M504.7 1626.7L530.7 1600.7" stroke="#3a3a3a" stroke-width="2.9" fill="none"/>
<path d="M551.9 1600.7L577.9 1626.7M551.9 1626.7L577.9 1600.7" stroke="#3a3a3a" stroke-width="2.9" fill="none"/>
<path d="M599.1 1600.7L625.1 1626.7M599.1 1626.7L625.1 1600.7" stroke="#3a3a3a" stroke-width="2.9" fill="none"/>
<path d="M646.3 1600.7L672.3 1626.7M646.3 1626.7L672.3 1600.7" stroke="#3a3a3a" stroke-width="2.9" fill="none"/>
<path d="M693.5 1600.7L719.5 1626.7M693.5 1626.7L719.5 1600.7" stroke="#3a3a3a" stroke-width="2.9" fill="none"/>
<path d="M740.6 1600.7L766.6 1626.7M740.6 1626.7L766.6 1600.7" stroke="#3a3a3a" stroke-width="2.9" fill="none"/>
<path d="M787.8 1600.7L813.8 1626.7M787.8 1626.7L813.8 1600.7" stroke="#3a3a3a" stroke-width="2.9" fill="none"/>
<path d="M835 1600.7L861 1626.7M835 1626.7L861 1600.7" stroke="#3a3a3a" stroke-width="2.9" fill="none"/>
<path d="M882.2 1600.7L908.2 1626.7M882.2 1626.7L908.2 1600.7" stroke="#3a3a3a" stroke-width="2.9" fill="none"/>
<path d="M929.4 1600.7L955.4 1626.7M929.4 1626.7L955.4 1600.7" stroke="#3a3a3a" stroke-width="2.9" fill="none"/>
<path d="M976.6 1600.7L1002.6 1626.7M976.6 1626.7L1002.6 1600.7" stroke="#3a3a3a" stroke-width="2.9" fill="none"/>
<path d="M1023.8 1600.7L1049.8 1626.7M1023.8 1626.7L1049.8 1600.7" stroke="#3a3a3a" stroke-width="2.9" fill="none"/>
<path d="M1071 1600.7L1097 1626.7M1071 1626.7L1097 1600.7" stroke="#3a3a3a" stroke-width="2.9" fill="none"/>
<path d="M1118.2 1788.9L1144.2 1814.9M1118.2 1814.9L1144.2 1788.9" stroke="#3a3a3a" stroke-width="2.9" fill="none"/>
<path d="M1165.4 2656L1191.4 2682M1165.4 2682L1191.4 2656" stroke="#3a3a3a" stroke-width="2.9" fill="none"/>
<path d="M1212.6 2675.7L1238.6 2701.7M1212.6 2701.7L1238.6 2675.7" stroke="#3a3a3a" stroke-width="2.9" fill="none"/>
<path d="M1259.8 2697.5L1285.8 2723.5M1259.8 2723.5L1285.8 2697.5" stroke="#3a3a3a" stroke-width="2.9" fill="none"/>
<path d="M1307 2697.5L1333 2723.5M1307 2723.5L1333 2697.5" stroke="#3a3a3a" stroke-width="2.9" fill="none"/>
<path d="M1354.2 2697.5L1380.2 2723.5M1354.2 2723.5L1380.2 2697.5" stroke="#3a3a3a" stroke-width="2.9" fill="none"/>
<path d="M1401.4 2697.5L1427.4 2723.5M1401.4 2723.5L1427.4 2697.5" stroke="#3a3a3a" stroke-width="2.9" fill="none"/>
<path d="M1448.6 2697.5L1474.6 2723.5M1448.6 2723.5L1474.6 2697.5" stroke="#3a3a3a" stroke-width="2.9" fill="none"/>
<path d="M1495.8 2697.5L1521.8 2723.5M1495.8 2723.5L1521.8 2697.5" stroke="#3a3a3a" stroke-width="2.9" fill="none"/>
<path d="M1543 2697.5L1569 2723.5M1543 2723.5L1569 2697.5" stroke="#3a3a3a" stroke-width="2.9" fill="none"/>
<path d="M1590.2 2697.5L1616.2 2723.5M1590.2 2723.5L1616.2 2697.5" stroke="#3a3a3a" stroke-width="2.9" fill="none"/>
<path d="M1637.4 2697.5L1663.4 2723.5M1637.4 2723.5L1663.4 2697.5" stroke="#3a3a3a" stroke-width="2.9" fill="none"/>
<path d="M1684.5 2697.5L1710.5 2723.5M1684.5 2723.5L1710.5 2697.5" stroke="#3a3a3a" stroke-width="2.9" fill="none"/>
<path d="M1731.7 2697.5L1757.7 2723.5M1731.7 2723.5L1757.7 2697.5" stroke="#3a3a3a" stroke-width="2.9" fill="none"/>
<path d="M1778.9 2697.5L1804.9 2723.5M1778.9 2723.5L1804.9 2697.5" stroke="#3a3a3a" stroke-width="2.9" fill="none"/>
<path d="M1826.1 2697.5L1852.1 2723.5M1826.1 2723.5L1852.1 2697.5" stroke="#3a3a3a" stroke-width="2.9" fill="none"/>
<path d="M1873.3 2697.5L1899.3 2723.5M1873.3 2723.5L1899.3 2697.5" stroke="#3a3a3a" stroke-width="2.9" fill="none"/>
<path d="M1920.5 2697.5L1946.5 2723.5M1920.5 2723.5L1946.5 2697.5" stroke="#3a3a3a" stroke-width="2.9" fill="none"/>
<path d="M1967.7 2697.5L1993.7 2723.5M1967.7 2723.5L1993.7 2697.5" stroke="#3a3a3a" stroke-width="2.9" fill="none"/>
<path d="M2014.9 2697.5L2040.9 2723.5M2014.9 2723.5L2040.9 2697.5" stroke="#3a3a3a" stroke-width="2.9" fill="none"/>
<path d="M2062.1 2697.5L2088.1 2723.5M2062.1 2723.5L2088.1 2697.5" stroke="#3a3a3a" stroke-width="2.9" fill="none"/>
<path d="M2109.3 2697.5L2135.3 2723.5M2109.3 2723.5L2135.3 2697.5" stroke="#3a3a3a" stroke-width="2.9" fill="none"/>
<path d="M234.5 2710.5L260.7 2710.5L286.9 2710.5L313.2 2710.5L339.4 2710.5L365.6 2710.5L391.8 2710.5L392.3 2710.5L392.9 2710.5L393.4 2710.5L393.9 2710.5L394.4 2710.5L395 2710.5L395.5 2710.5L396 2710.5L396.5 2710.5L397.1 2710.5L397.6 2710.5L398.1 2710.5L398.6 2710.5L399.2 2710.5L399.7 2710.5L400.2 2710.5L400.7 2710.5L401.3 2710.5L401.8 2710.5L402.3 2710.5L402.8 2710.5L403.4 2710.5L403.9 2710.5L404.4 2710.5L404.9 2710.5L405.5 2710.5L406 2710.5L406.5 2710.5L407 2710.5L407.5 2710.5L408.1 2710.5L408.6 2710.5L409.1 2710.5L409.6 2710.5L410.2 2710.5L410.7 2710.5L411.2 2710.5L411.7 2710.5L412.3 2710.5L412.8 2710.5L413.3 2710.5L413.8 2710.5L414.4 2710.5L414.9 2710.5L415.4 2710.5L415.9 2710.5L416.5 2710.5L417 2710.5L417.5 2710.5L418 2710.5L418.6 2710.5L419.1 2710.5L419.6 2710.5L420.1 2690.3L420.7 2668.6L421.2 2645.2L421.7 2620.1L422.2 2593.4L422.8 2565.1L423.3 2535L423.8 2502.8L424.3 2468.3L424.9 2431.5L425.4 2392.6L425.9 2351.8L426.4 2309.4L427 2265.3L427.5 2219.9L428 2173.2L428.5 2125.5L429 2076.8L429.6 2027.5L430.1 1977.6L430.6 1927.4L431.1 1876.9L431.7 1826.4L432.2 1776L432.7 1710.8L433.2 1651.2L433.8 1638.4L434.3 1635.3L434.8 1632.5L435.3 1629.9L435.9 1627.6L436.4 1625.5L436.9 1623.6L437.4 1621.9L438 1620.4L438.5 1619.1L439 1618L439.5 1617L440.1 1616.2L440.6 1615.5L441.1 1615L441.6 1614.5L442.2 1614.2L442.7 1613.9L443.2 1613.8L443.7 1613.7L444.3 1613.7L444.8 1613.7L445.3 1613.7L445.8 1613.7L446.4 1613.7L446.9 1613.7L447.4 1613.7L447.9 1613.7L448.5 1613.7L449 1613.7L449.5 1613.7L450 1613.7L450.5 1613.7L451.1 1613.7L451.6 1613.7L452.1 1613.7L452.6 1613.7L453.2 1613.7L453.7 1613.7L454.2 1613.7L454.7 1613.7L455.3 1613.7L455.8 1613.7L456.3 1613.7L456.8 1613.7L457.4 1613.7L457.9 1613.7L458.4 1613.7L458.9 1613.7L459.5 1613.7L460 1613.7L460.5 1613.7L461 1613.7L461.6 1613.7L462.1 1613.7L462.6 1613.7L463.1 1613.7L463.7 1613.7L464.2 1613.7L464.7 1613.7L465.2 1613.7L465.8 1613.7L466.3 1613.7L466.8 1613.7L467.3 1613.7L467.9 1613.7L468.4 1613.7L468.9 1613.7L469.4 1613.7L470 1613.7L470.5 1613.7L471 1613.7L471.5 1613.7L472 1613.7L472.6 1613.7L473.1 1613.7L473.6 1613.7L474.1 1613.7L474.7 1613.7L475.2 1613.7L475.7 1613.7L501.9 1613.7L528.2 1613.7L554.4 1613.7L580.6 1613.7L606.8 1613.7L633 1613.7L659.3 1613.7L685.5 1613.7L711.7 1613.7L737.9 1613.7L764.1 1613.7L790.4 1613.7L816.6 1613.7L842.8 1613.7L869 1613.7L895.2 1613.7L921.4 1613.7L947.7 1613.7L973.9 1613.7L1000.1 1613.7L1026.3 1613.7L1052.5 1613.7L1073.5 1613.7L1074 1613.7L1074.6 1613.7L1075.1 1613.7L1075.6 1613.7L1076.1 1613.7L1076.7 1613.7L1077.2 1613.7L1077.7 1613.7L1078.2 1613.7L1078.8 1613.7L1079.3 1613.7L1079.8 1613.7L1080.3 1613.7L1080.9 1613.7L1081.4 1613.7L1081.9 1613.7L1082.4 1613.7L1083 1613.7L1083.5 1613.7L1084 1613.7L1084.5 1613.7L1085.1 1613.7L1085.6 1613.7L1086.1 1613.7L1086.6 1613.7L1087.2 1613.7L1087.7 1613.7L1088.2 1613.7L1088.7 1613.7L1089.3 1613.7L1089.8 1613.7L1090.3 1613.7L1090.8 1613.7L1091.4 1613.7L1091.9 1613.7L1092.4 1613.7L1092.9 1613.7L1093.4 1613.7L1094 1613.7L1094.5 1613.7L1095 1613.7L1095.5 1613.7L1096.1 1613.7L1096.6 1613.7L1097.1 1613.7L1097.6 1613.7L1098.2 1613.7L1098.7 1613.7L1099.2 1613.7L1099.7 1613.7L1100.3 1613.7L1100.8 1613.7L1101.3 1613.7L1101.8 1613.7L1102.4 1613.7L1102.9 1613.8L1103.4 1614.1L1103.9 1614.4L1104.5 1614.8L1105 1615.3L1105.5 1615.9L1106 1616.6L1106.6 1617.4L1107.1 1618.3L1107.6 1619.2L1108.1 1620.3L1108.7 1621.5L1109.2 1622.7L1109.7 1624.1L1110.2 1625.5L1110.8 1627L1111.3 1628.7L1111.8 1630.4L1112.3 1632.2L1112.9 1634.1L1113.4 1636.1L1113.9 1638.2L1114.4 1640.4L1114.9 1642.7L1115.5 1645L1116 1647.5L1116.5 1650.1L1117 1652.7L1117.6 1655.5L1118.1 1658.3L1118.6 1661.3L1119.1 1664.3L1119.7 1667.4L1120.2 1670.6L1120.7 1673.9L1121.2 1677.4L1121.8 1680.9L1122.3 1684.4L1122.8 1688.1L1123.3 1691.9L1123.9 1695.8L1124.4 1699.7L1124.9 1703.8L1125.4 1708L1126 1712.2L1126.5 1716.5L1127 1721L1127.5 1725.5L1128.1 1730.1L1128.6 1734.8L1129.1 1739.6L1129.6 1744.6L1130.2 1749.5L1130.7 1754.6L1131.2 1759.8L1131.7 1765.1L1132.3 1770.5L1132.8 1775.9L1133.3 1781.5L1133.8 1787.1L1134.4 1792.9L1134.9 1798.7L1135.4 1804.6L1135.9 1810.7L1136.4 1816.8L1137 1823L1137.5 1829.3L1138 1835.7L1138.5 1842.2L1139.1 1848.8L1139.6 1855.4L1140.1 1862.2L1140.6 1869.1L1141.2 1876L1141.7 1883.1L1142.2 1890.2L1142.7 1897.5L1143.3 1904.8L1143.8 1912.2L1144.3 1919.8L1144.8 1927.4L1145.4 1935.1L1145.9 1942.9L1146.4 1950.8L1146.9 1958.8L1147.5 1966.9L1148 1975L1148.5 1983.3L1149 1991.7L1149.6 2000.1L1150.1 2008.7L1150.6 2017.3L1151.1 2026L1151.7 2034.9L1152.2 2043.8L1152.7 2052.8L1153.2 2061.9L1153.8 2071.1L1154.3 2080.4L1154.8 2089.8L1155.3 2099.3L1155.9 2108.9L1156.4 2118.6L1156.9 2128.3L1157.4 2138.2L1157.9 2148.1L1158.5 2158.2L1159 2168.3L1159.5 2178.5L1160 2188.9L1160.6 2199.3L1161.1 2209.8L1161.6 2220.4L1162.1 2231.1L1162.7 2241.9L1163.2 2252.8L1163.7 2263.8L1164.2 2274.9L1164.8 2286L1165.3 2297.3L1165.8 2308.6L1166.3 2320.1L1166.9 2331.6L1167.4 2343.3L1167.9 2355L1168.4 2366.8L1169 2378.7L1169.5 2390.7L1170 2402.8L1170.5 2415L1171.1 2427.3L1171.6 2439.7L1172.1 2452.2L1172.6 2464.8L1173.2 2477.4L1173.7 2490.2L1174.2 2503L1174.7 2516L1175.3 2529L1175.8 2542.2L1176.3 2555.4L1176.8 2568.7L1177.4 2582.1L1177.9 2595.6L1178.4 2609.2L1178.9 2622.9L1179.4 2636.7L1180 2650.6L1180.5 2664.6L1181 2678.6L1181.5 2692.8L1182.1 2707.1L1182.6 2707L1183.1 2703.3L1183.6 2699.8L1184.2 2696.4L1184.7 2693.1L1185.2 2690L1185.7 2686.9L1186.3 2683.8L1186.8 2680.9L1187.3 2678L1187.8 2675.2L1188.4 2672.4L1188.9 2669.7L1189.4 2667.1L1189.9 2664.6L1190.5 2662.1L1191 2659.7L1191.5 2657.3L1192 2655.1L1192.6 2652.9L1193.1 2650.8L1193.6 2648.8L1194.1 2646.8L1194.7 2645L1195.2 2643.2L1195.7 2641.5L1196.2 2639.9L1196.8 2638.4L1197.3 2637L1197.8 2635.7L1198.3 2634.4L1198.9 2633.3L1199.4 2632.2L1199.9 2631.3L1200.4 2630.4L1200.9 2629.7L1201.5 2629L1202 2628.4L1202.5 2628L1203 2627.6L1203.6 2627.4L1204.1 2627.2L1204.6 2627.1L1205.1 2627.2L1205.7 2627.3L1206.2 2627.6L1206.7 2627.9L1207.2 2628.3L1207.8 2628.9L1208.3 2629.5L1208.8 2630.3L1209.3 2631.1L1209.9 2632L1210.4 2633.1L1210.9 2634.2L1211.4 2635.4L1212 2636.7L1212.5 2638.1L1213 2639.6L1213.5 2641.2L1214.1 2642.9L1214.6 2644.6L1215.1 2646.5L1215.6 2648.4L1216.2 2650.4L1216.7 2652.5L1217.2 2654.6L1217.7 2656.9L1218.3 2659.2L1218.8 2661.6L1219.3 2664.1L1219.8 2666.6L1220.4 2669.2L1220.9 2671.9L1221.4 2674.6L1221.9 2677.4L1222.4 2680.3L1223 2683.2L1223.5 2686.3L1224 2689.3L1224.5 2692.5L1225.1 2695.8L1225.6 2699.1L1226.1 2702.6L1226.6 2706.3L1227.2 2710.5L1227.7 2710.5L1228.2 2710.5L1228.7 2710.5L1229.3 2710.5L1229.8 2710.5L1230.3 2710.5L1230.8 2710.5L1231.4 2710.5L1231.9 2710.5L1232.4 2710.5L1232.9 2710.5L1233.5 2710.5L1234 2710.5L1234.5 2710.5L1235 2710.5L1235.6 2710.5L1236.1 2710.5L1236.6 2710.5L1237.1 2710.5L1237.7 2710.5L1238.2 2710.5L1238.7 2710.5L1239.2 2710.5L1239.8 2710.5L1240.3 2710.5L1240.8 2710.5L1241.3 2710.5L1241.9 2710.5L1242.4 2710.5L1242.9 2710.5L1243.4 2710.5L1243.9 2710.5L1244.5 2710.5L1245 2710.5L1245.5 2710.5L1246 2710.5L1246.6 2710.5L1247.1 2710.5L1247.6 2710.5L1248.1 2710.5L1248.7 2710.5L1249.2 2710.5L1249.7 2710.5L1250.2 2710.5L1250.8 2710.5L1251.3 2710.5L1251.8 2710.5L1252.3 2710.5L1252.9 2710.5L1253.4 2710.5L1253.9 2710.5L1254.4 2710.5L1255 2710.5L1255.5 2710.5L1256 2710.5L1256.5 2710.5L1257.1 2710.5L1257.6 2710.5L1258.1 2710.5L1258.6 2710.5L1259.2 2710.5L1259.7 2710.5L1260.2 2710.5L1260.7 2710.5L1261.3 2710.5L1261.8 2710.5L1262.3 2710.5L1262.8 2710.5L1263.4 2710.5L1263.9 2710.5L1264.4 2710.5L1264.9 2710.5L1265.4 2710.5L1266 2710.5L1266.5 2710.5L1267 2710.5L1267.5 2710.5L1268.1 2710.5L1268.6 2710.5L1269.1 2710.5L1269.6 2710.5L1270.2 2710.5L1270.7 2710.5L1271.2 2710.5L1271.7 2710.5L1272.3 2710.5L1272.8 2710.5L1273.3 2710.5L1273.8 2710.5L1274.4 2710.5L1274.9 2710.5L1275.4 2710.5L1275.9 2710.5L1276.5 2710.5L1277 2710.5L1277.5 2710.5L1278 2710.5L1278.6 2710.5L1279.1 2710.5L1279.6 2710.5L1280.1 2710.5L1280.7 2710.5L1281.2 2710.5L1281.7 2710.5L1282.2 2710.5L1282.8 2710.5L1283.3 2710.5L1283.8 2710.5L1284.3 2710.5L1284.9 2710.5L1285.4 2710.5L1285.9 2710.5L1286.4 2710.5L1286.9 2710.5L1287.5 2710.5L1288 2710.5L1288.5 2710.5L1289 2710.5L1289.6 2710.5L1290.1 2710.5L1290.6 2710.5L1291.1 2710.5L1291.7 2710.5L1292.2 2710.5L1292.7 2710.5L1293.2 2710.5L1293.8 2710.5L1294.3 2710.5L1294.8 2710.5L1295.3 2710.5L1295.9 2710.5L1296.4 2710.5L1296.9 2710.5L1297.4 2710.5L1298 2710.5L1298.5 2710.5L1299 2710.5L1299.5 2710.5L1300.1 2710.5L1300.6 2710.5L1301.1 2710.5L1301.6 2710.5L1302.2 2710.5L1302.7 2710.5L1303.2 2710.5L1303.7 2710.5L1304.3 2710.5L1304.8 2710.5L1305.3 2710.5L1305.8 2710.5L1306.4 2710.5L1306.9 2710.5L1307.4 2710.5L1307.9 2710.5L1308.4 2710.5L1309 2710.5L1309.5 2710.5L1310 2710.5L1310.5 2710.5L1311.1 2710.5L1311.6 2710.5L1312.1 2710.5L1312.6 2710.5L1313.2 2710.5L1313.7 2710.5L1314.2 2710.5L1314.7 2710.5L1315.3 2710.5L1315.8 2710.5L1316.3 2710.5L1316.8 2710.5L1317.4 2710.5L1317.9 2710.5L1318.4 2710.5L1318.9 2710.5L1319.5 2710.5L1320 2710.5L1320.5 2710.5L1321 2710.5L1321.6 2710.5L1322.1 2710.5L1322.6 2710.5L1323.1 2710.5L1323.7 2710.5L1324.2 2710.5L1324.7 2710.5L1325.2 2710.5L1325.8 2710.5L1326.3 2710.5L1326.8 2710.5L1327.3 2710.5L1327.9 2710.5L1328.4 2710.5L1328.9 2710.5L1329.4 2710.5L1329.9 2710.5L1330.5 2710.5L1331 2710.5L1331.5 2710.5L1332 2710.5L1332.6 2710.5L1333.1 2710.5L1333.6 2710.5L1334.1 2710.5L1334.7 2710.5L1335.2 2710.5L1335.7 2710.5L1336.2 2710.5L1336.8 2710.5L1337.3 2710.5L1337.8 2710.5L1338.3 2710.5L1338.9 2710.5L1339.4 2710.5L1339.9 2710.5L1340.4 2710.5L1341 2710.5L1341.5 2710.5L1342 2710.5L1342.5 2710.5L1343.1 2710.5L1343.6 2710.5L1344.1 2710.5L1344.6 2710.5L1345.2 2710.5L1345.7 2710.5L1346.2 2710.5L1346.7 2710.5L1347.3 2710.5L1347.8 2710.5L1348.3 2710.5L1348.8 2710.5L1349.4 2710.5L1349.9 2710.5L1350.4 2710.5L1350.9 2710.5L1351.4 2710.5L1352 2710.5L1352.5 2710.5L1353 2710.5L1353.5 2710.5L1354.1 2710.5L1354.6 2710.5L1355.1 2710.5L1355.6 2710.5L1356.2 2710.5L1356.7 2710.5L1357.2 2710.5L1357.7 2710.5L1358.3 2710.5L1358.8 2710.5L1359.3 2710.5L1359.8 2710.5L1360.4 2710.5L1360.9 2710.5L1361.4 2710.5L1361.9 2710.5L1362.5 2710.5L1363 2710.5L1363.5 2710.5L1364 2710.5L1364.6 2710.5L1365.1 2710.5L1365.6 2710.5L1366.1 2710.5L1366.7 2710.5L1367.2 2710.5L1367.7 2710.5L1368.2 2710.5L1368.8 2710.5L1369.3 2710.5L1369.8 2710.5L1370.3 2710.5L1370.9 2710.5L1371.4 2710.5L1371.9 2710.5L1372.4 2710.5L1372.9 2710.5L1373.5 2710.5L1374 2710.5L1374.5 2710.5L1375 2710.5L1375.6 2710.5L1376.1 2710.5L1376.6 2710.5L1377.1 2710.5L1377.7 2710.5L1378.2 2710.5L1378.7 2710.5L1379.2 2710.5L1379.8 2710.5L1380.3 2710.5L1380.8 2710.5L1381.3 2710.5L1381.9 2710.5L1382.4 2710.5L1382.9 2710.5L1383.4 2710.5L1384 2710.5L1384.5 2710.5L1385 2710.5L1385.5 2710.5L1386.1 2710.5L1386.6 2710.5L1387.1 2710.5L1387.6 2710.5L1388.2 2710.5L1388.7 2710.5L1389.2 2710.5L1389.7 2710.5L1390.3 2710.5L1390.8 2710.5L1391.3 2710.5L1391.8 2710.5L1392.4 2710.5L1392.9 2710.5L1393.4 2710.5L1393.9 2710.5L1394.4 2710.5L1395 2710.5L1395.5 2710.5L1396 2710.5L1396.5 2710.5L1397.1 2710.5L1397.6 2710.5L1398.1 2710.5L1398.6 2710.5L1399.2 2710.5L1399.7 2710.5L1400.2 2710.5L1400.7 2710.5L1401.3 2710.5L1401.8 2710.5L1402.3 2710.5L1402.8 2710.5L1403.4 2710.5L1403.9 2710.5L1404.4 2710.5L1404.9 2710.5L1405.5 2710.5L1406 2710.5L1406.5 2710.5L1407 2710.5L1407.6 2710.5L1408.1 2710.5L1408.6 2710.5L1409.1 2710.5L1409.7 2710.5L1410.2 2710.5L1410.7 2710.5L1411.2 2710.5L1411.8 2710.5L1412.3 2710.5L1412.8 2710.5L1413.3 2710.5L1413.9 2710.5L1414.4 2710.5L1440.6 2710.5L1466.8 2710.5L1493 2710.5L1519.3 2710.5L1545.5 2710.5L1571.7 2710.5L1597.9 2710.5L1624.1 2710.5L1650.4 2710.5L1676.6 2710.5L1702.8 2710.5L1729 2710.5L1755.2 2710.5L1781.4 2710.5L1807.7 2710.5L1833.9 2710.5L1860.1 2710.5L1886.3 2710.5L1912.5 2710.5L1938.8 2710.5L1965 2710.5L1991.2 2710.5L2017.4 2710.5L2043.6 2710.5L2069.9 2710.5L2096.1 2710.5L2122.3 2710.5" stroke="#ff1a1a" stroke-width="4.6" fill="none" stroke-linejoin="round"/>
<circle cx="234.5" cy="2710.5" r="9.8" stroke="#ff1a1a" stroke-width="3.2" fill="#fff"/>
<circle cx="281.7" cy="2710.5" r="9.8" stroke="#ff1a1a" stroke-width="3.2" fill="#fff"/>
<circle cx="328.9" cy="2710.5" r="9.8" stroke="#ff1a1a" stroke-width="3.2" fill="#fff"/>
<circle cx="376.1" cy="2710.5" r="9.8" stroke="#ff1a1a" stroke-width="3.2" fill="#fff"/>
<circle cx="423.3" cy="2535" r="9.8" stroke="#ff1a1a" stroke-width="3.2" fill="#fff"/>
<circle cx="470.5" cy="1613.7" r="9.8" stroke="#ff1a1a" stroke-width="3.2" fill="#fff"/>
<circle cx="517.7" cy="1613.7" r="9.8" stroke="#ff1a1a" stroke-width="3.2" fill="#fff"/>
<circle cx="564.9" cy="1613.7" r="9.8" stroke="#ff1a1a" stroke-width="3.2" fill="#fff"/>
<circle cx="612.1" cy="1613.7" r="9.8" stroke="#ff1a1a" stroke-width="3.2" fill="#fff"/>
<circle cx="659.3" cy="1613.7" r="9.8" stroke="#ff1a1a" stroke-width="3.2" fill="#fff"/>
<circle cx="706.5" cy="1613.7" r="9.8" stroke="#ff1a1a" stroke-width="3.2" fill="#fff"/>
<circle cx="753.6" cy="1613.7" r="9.8" stroke="#ff1a1a" stroke-width="3.2" fill="#fff"/>
<circle cx="800.8" cy="1613.7" r="9.8" stroke="#ff1a1a" stroke-width="3.2" fill="#fff"/>
<circle cx="848" cy="1613.7" r="9.8" stroke="#ff1a1a" stroke-width="3.2" fill="#fff"/>
<circle cx="895.2" cy="1613.7" r="9.8" stroke="#ff1a1a" stroke-width="3.2" fill="#fff"/>
<circle cx="942.4" cy="1613.7" r="9.8" stroke="#ff1a1a" stroke-width="3.2" fill="#fff"/>
<circle cx="989.6" cy="1613.7" r="9.8" stroke="#ff1a1a" stroke-width="3.2" fill="#fff"/>
<circle cx="1036.8" cy="1613.7" r="9.8" stroke="#ff1a1a" stroke-width="3.2" fill="#fff"/>
<circle cx="1084" cy="1613.7" r="9.8" stroke="#ff1a1a" stroke-width="3.2" fill="#fff"/>
<circle cx="1131.2" cy="1759.8" r="9.8" stroke="#ff1a1a" stroke-width="3.2" fill="#fff"/>
<circle cx="1178.4" cy="2609.2" r="9.8" stroke="#ff1a1a" stroke-width="3.2" fill="#fff"/>
<circle cx="1225.6" cy="2699.1" r="9.8" stroke="#ff1a1a" stroke-width="3.2" fill="#fff"/>
<circle cx="1272.8" cy="2710.5" r="9.8" stroke="#ff1a1a" stroke-width="3.2" fill="#fff"/>
<circle cx="1320" cy="2710.5" r="9.8" stroke="#ff1a1a" stroke-width="3.2" fill="#fff"/>
<circle cx="1367.2" cy="2710.5" r="9.8" stroke="#ff1a1a" stroke-width="3.2" fill="#fff"/>
<circle cx="1414.4" cy="2710.5" r="9.8" stroke="#ff1a1a" stroke-width="3.2" fill="#fff"/>
<circle cx="1461.6" cy="2710.5" r="9.8" stroke="#ff1a1a" stroke-width="3.2" fill="#fff"/>
<circle cx="1508.8" cy="2710.5" r="9.8" stroke="#ff1a1a" stroke-width="3.2" fill="#fff"/>
<circle cx="1556" cy="2710.5" r="9.8" stroke="#ff1a1a" stroke-width="3.2" fill="#fff"/>
<circle cx="1603.2" cy="2710.5" r="9.8" stroke="#ff1a1a" stroke-width="3.2" fill="#fff"/>
<circle cx="1650.4" cy="2710.5" r="9.8" stroke="#ff1a1a" stroke-width="3.2" fill="#fff"/>
<circle cx="1697.5" cy="2710.5" r="9.8" stroke="#ff1a1a" stroke-width="3.2" fill="#fff"/>
<circle cx="1744.7" cy="2710.5" r="9.8" stroke="#ff1a1a" stroke-width="3.2" fill="#fff"/>
<circle cx="1791.9" cy="2710.5" r="9.8" stroke="#ff1a1a" stroke-width="3.2" fill="#fff"/>
<circle cx="1839.1" cy="2710.5" r="9.8" stroke="#ff1a1a" stroke-width="3.2" fill="#fff"/>
<circle cx="1886.3" cy="2710.5" r="9.8" stroke="#ff1a1a" stroke-width="3.2" fill="#fff"/>
<circle cx="1933.5" cy="2710.5" r="9.8" stroke="#ff1a1a" stroke-width="3.2" fill="#fff"/>
<circle cx="1980.7" cy="2710.5" r="9.8" stroke="#ff1a1a" stroke-width="3.2" fill="#fff"/>
<circle cx="2027.9" cy="2710.5" r="9.8" stroke="#ff1a1a" stroke-width="3.2" fill="#fff"/>
<circle cx="2075.1" cy="2710.5" r="9.8" stroke="#ff1a1a" stroke-width="3.2" fill="#fff"/>
<circle cx="2122.3" cy="2710.5" r="9.8" stroke="#ff1a1a" stroke-width="3.2" fill="#fff"/>
<path d="M234.5 2710.5L260.7 2710.5L286.9 2710.5L313.2 2710.5L339.4 2710.5L365.6 2710.5L391.8 2710.5L392.3 2710.5L392.9 2710.5L393.4 2710.5L393.9 2710.5L394.4 2710.5L395 2710.5L395.5 2710.5L396 2710.5L396.5 2710.5L397.1 2710.5L397.6 2710.5L398.1 2710.5L398.6 2710.5L399.2 2710.5L399.7 2710.5L400.2 2710.5L400.7 2710.5L401.3 2710.5L401.8 2710.5L402.3 2710.5L402.8 2710.5L403.4 2710.5L403.9 2710.5L404.4 2710.5L404.9 2710.5L405.5 2710.5L406 2710.5L406.5 2710.5L407 2710.5L407.5 2710.5L408.1 2710.5L408.6 2710.5L409.1 2710.5L409.6 2710.5L410.2 2710.5L410.7 2710.5L411.2 2710.5L411.7 2710.5L412.3 2710.5L412.8 2710.5L413.3 2710.5L413.8 2710.5L414.4 2710.5L414.9 2710.5L415.4 2710.5L415.9 2710.5L416.5 2710.5L417 2710.5L417.5 2710.5L418 2710.5L418.6 2710.5L419.1 2710.5L419.6 2710.5L420.1 2710.5L420.7 2710.5L421.2 2710.5L421.7 2710.5L422.2 2710.5L422.8 2710.5L423.3 2710.5L423.8 2710.5L424.3 2710.5L424.9 2710.5L425.4 2710.5L425.9 2710.5L426.4 2710.5L427 2710.5L427.5 2710.5L428 2710.5L428.5 2710.5L429 2710.5L429.6 2710.5L430.1 2710.5L430.6 2710.5L431.1 2710.5L431.7 2710.5L432.2 2710.5L432.7 2695.9L433.2 2679L433.8 2660L434.3 2638.9L434.8 2616L435.3 2591.3L435.9 2565L436.4 2537.4L436.9 2508.4L437.4 2478.3L438 2447.3L438.5 2411.3L439 2367.3L439.5 2316.9L440.1 2261.7L440.6 2203L441.1 2142.6L441.6 2081.8L442.2 2022.2L442.7 1965.4L443.2 1912.8L443.7 1866.1L444.3 1826.7L444.8 1796.1L445.3 1776L445.8 1762.4L446.4 1750.4L446.9 1739.7L447.4 1730.2L447.9 1721.7L448.5 1713.9L449 1706.7L449.5 1699.8L450 1693.1L450.5 1686.4L451.1 1679.5L451.6 1672.4L452.1 1665.6L452.6 1658.9L453.2 1652.4L453.7 1646.2L454.2 1640.1L454.7 1634.3L455.3 1628.7L455.8 1623.4L456.3 1618.4L456.8 1613.7L457.4 1613.7L457.9 1613.7L458.4 1613.7L458.9 1613.7L459.5 1613.7L460 1613.7L460.5 1613.7L461 1613.7L461.6 1613.7L462.1 1613.7L462.6 1613.7L463.1 1613.7L463.7 1613.7L464.2 1613.7L464.7 1613.7L465.2 1613.7L465.8 1613.7L466.3 1613.7L466.8 1613.7L467.3 1613.7L467.9 1613.7L468.4 1613.7L468.9 1613.7L469.4 1613.7L470 1613.7L470.5 1613.7L471 1613.7L471.5 1613.7L472 1613.7L472.6 1613.7L473.1 1613.7L473.6 1613.7L474.1 1613.7L474.7 1613.7L475.2 1613.7L475.7 1613.7L501.9 1613.7L528.2 1613.7L554.4 1613.7L580.6 1613.7L606.8 1613.7L633 1613.7L659.3 1613.7L685.5 1613.7L711.7 1613.7L737.9 1613.7L764.1 1613.7L790.4 1613.7L816.6 1613.7L842.8 1613.7L869 1613.7L895.2 1613.7L921.4 1613.7L947.7 1613.7L973.9 1613.7L1000.1 1613.7L1026.3 1613.7L1052.5 1613.7L1073.5 1613.7L1074 1613.7L1074.6 1613.7L1075.1 1613.7L1075.6 1613.7L1076.1 1613.7L1076.7 1613.7L1077.2 1613.7L1077.7 1613.7L1078.2 1613.7L1078.8 1613.7L1079.3 1613.7L1079.8 1613.7L1080.3 1613.7L1080.9 1613.7L1081.4 1613.7L1081.9 1613.7L1082.4 1613.7L1083 1613.7L1083.5 1613.7L1084 1613.7L1084.5 1613.7L1085.1 1613.7L1085.6 1613.7L1086.1 1613.7L1086.6 1613.7L1087.2 1613.7L1087.7 1613.7L1088.2 1613.7L1088.7 1613.7L1089.3 1613.7L1089.8 1613.7L1090.3 1613.7L1090.8 1613.7L1091.4 1613.7L1091.9 1613.7L1092.4 1613.7L1092.9 1613.7L1093.4 1613.7L1094 1613.7L1094.5 1613.7L1095 1613.7L1095.5 1613.7L1096.1 1613.7L1096.6 1613.7L1097.1 1613.7L1097.6 1613.7L1098.2 1613.7L1098.7 1613.7L1099.2 1613.7L1099.7 1613.7L1100.3 1613.7L1100.8 1613.7L1101.3 1613.7L1101.8 1613.7L1102.4 1613.7L1102.9 1613.7L1103.4 1613.7L1103.9 1613.7L1104.5 1613.7L1105 1613.7L1105.5 1613.7L1106 1613.7L1106.6 1613.7L1107.1 1613.7L1107.6 1613.7L1108.1 1613.7L1108.7 1613.7L1109.2 1613.7L1109.7 1613.7L1110.2 1613.7L1110.8 1613.7L1111.3 1613.7L1111.8 1613.7L1112.3 1613.7L1112.9 1613.7L1113.4 1613.7L1113.9 1613.7L1114.4 1613.7L1114.9 1613.7L1115.5 1613.7L1116 1613.7L1116.5 1613.7L1117 1613.7L1117.6 1613.7L1118.1 1613.7L1118.6 1613.7L1119.1 1613.7L1119.7 1613.7L1120.2 1613.7L1120.7 1613.7L1121.2 1613.7L1121.8 1613.7L1122.3 1613.7L1122.8 1613.7L1123.3 1613.7L1123.9 1613.7L1124.4 1613.7L1124.9 1613.7L1125.4 1613.7L1126 1613.7L1126.5 1613.7L1127 1613.7L1127.5 1613.7L1128.1 1613.7L1128.6 1613.7L1129.1 1613.7L1129.6 1613.7L1130.2 1613.7L1130.7 1613.7L1131.2 1613.7L1131.7 1613.7L1132.3 1613.7L1132.8 1613.7L1133.3 1613.7L1133.8 1613.7L1134.4 1613.7L1134.9 1613.7L1135.4 1613.7L1135.9 1613.7L1136.4 1613.7L1137 1613.7L1137.5 1613.7L1138 1613.7L1138.5 1613.7L1139.1 1613.7L1139.6 1613.7L1140.1 1613.7L1140.6 1613.7L1141.2 1613.7L1141.7 1613.7L1142.2 1613.7L1142.7 1613.7L1143.3 1613.7L1143.8 1613.7L1144.3 1613.7L1144.8 1613.7L1145.4 1613.7L1145.9 1613.7L1146.4 1613.7L1146.9 1613.7L1147.5 1613.7L1148 1613.7L1148.5 1613.7L1149 1613.7L1149.6 1613.7L1150.1 1613.7L1150.6 1613.7L1151.1 1613.7L1151.7 1613.7L1152.2 1613.7L1152.7 1613.7L1153.2 1613.7L1153.8 1613.7L1154.3 1613.7L1154.8 1613.7L1155.3 1613.7L1155.9 1613.7L1156.4 1613.7L1156.9 1613.7L1157.4 1613.7L1157.9 1613.7L1158.5 1613.7L1159 1613.7L1159.5 1613.7L1160 1613.7L1160.6 1613.7L1161.1 1613.7L1161.6 1613.7L1162.1 1613.7L1162.7 1613.7L1163.2 1613.7L1163.7 1613.7L1164.2 1613.7L1164.8 1613.7L1165.3 1613.7L1165.8 1613.7L1166.3 1613.7L1166.9 1613.7L1167.4 1613.7L1167.9 1613.7L1168.4 1613.7L1169 1613.7L1169.5 1613.7L1170 1613.7L1170.5 1613.7L1171.1 1613.7L1171.6 1613.7L1172.1 1613.7L1172.6 1613.7L1173.2 1613.7L1173.7 1613.7L1174.2 1613.7L1174.7 1613.7L1175.3 1613.7L1175.8 1613.7L1176.3 1613.7L1176.8 1613.7L1177.4 1613.7L1177.9 1613.7L1178.4 1613.7L1178.9 1613.7L1179.4 1613.7L1180 1613.7L1180.5 1613.7L1181 1613.7L1181.5 1613.7L1182.1 1613.7L1182.6 1613.7L1183.1 1613.7L1183.6 1613.7L1184.2 1613.7L1184.7 1613.7L1185.2 1613.7L1185.7 1613.7L1186.3 1613.7L1186.8 1613.7L1187.3 1613.7L1187.8 1613.7L1188.4 1613.7L1188.9 1613.7L1189.4 1613.7L1189.9 1613.7L1190.5 1613.7L1191 1613.7L1191.5 1613.7L1192 1613.7L1192.6 1613.7L1193.1 1613.7L1193.6 1613.7L1194.1 1613.7L1194.7 1613.7L1195.2 1613.7L1195.7 1613.7L1196.2 1613.7L1196.8 1613.7L1197.3 1613.7L1197.8 1613.7L1198.3 1613.7L1198.9 1613.7L1199.4 1613.7L1199.9 1613.7L1200.4 1613.7L1200.9 1613.7L1201.5 1613.7L1202 1613.7L1202.5 1613.7L1203 1613.7L1203.6 1613.7L1204.1 1613.7L1204.6 1613.7L1205.1 1613.7L1205.7 1613.7L1206.2 1613.7L1206.7 1613.7L1207.2 1613.7L1207.8 1613.7L1208.3 1613.7L1208.8 1613.7L1209.3 1613.7L1209.9 1613.7L1210.4 1613.7L1210.9 1613.7L1211.4 1613.7L1212 1613.7L1212.5 1613.7L1213 1613.7L1213.5 1613.7L1214.1 1613.7L1214.6 1613.7L1215.1 1613.7L1215.6 1613.7L1216.2 1613.7L1216.7 1613.7L1217.2 1613.7L1217.7 1613.7L1218.3 1613.7L1218.8 1613.7L1219.3 1613.7L1219.8 1613.7L1220.4 1613.7L1220.9 1613.7L1221.4 1613.7L1221.9 1613.7L1222.4 1613.7L1223 1613.7L1223.5 1613.7L1224 1613.7L1224.5 1613.7L1225.1 1613.7L1225.6 1613.7L1226.1 1613.7L1226.6 1613.7L1227.2 1613.7L1227.7 1613.7L1228.2 1613.7L1228.7 1613.7L1229.3 1613.7L1229.8 1613.7L1230.3 1613.7L1230.8 1613.7L1231.4 1613.7L1231.9 1613.7L1232.4 1613.7L1232.9 1613.7L1233.5 1613.7L1234 1613.7L1234.5 1613.7L1235 1613.7L1235.6 1613.7L1236.1 1613.7L1236.6 1613.7L1237.1 1613.7L1237.7 1613.7L1238.2 1613.7L1238.7 1613.7L1239.2 1613.7L1239.8 1613.7L1240.3 1613.7L1240.8 1613.7L1241.3 1613.7L1241.9 1613.7L1242.4 1613.7L1242.9 1613.7L1243.4 1613.7L1243.9 1613.7L1244.5 1613.7L1245 1613.7L1245.5 1613.7L1246 1613.7L1246.6 1613.7L1247.1 1613.7L1247.6 1613.7L1248.1 1613.7L1248.7 1613.7L1249.2 1613.7L1249.7 1613.7L1250.2 1613.7L1250.8 1613.7L1251.3 1613.7L1251.8 1613.7L1252.3 1613.7L1252.9 1613.7L1253.4 1613.7L1253.9 1613.7L1254.4 1613.7L1255 1613.7L1255.5 1613.7L1256 1613.7L1256.5 1613.7L1257.1 1613.7L1257.6 1613.7L1258.1 1613.7L1258.6 1613.7L1259.2 1613.7L1259.7 1613.7L1260.2 1613.7L1260.7 1613.7L1261.3 1613.7L1261.8 1613.7L1262.3 1613.7L1262.8 1613.7L1263.4 1613.7L1263.9 1613.7L1264.4 1613.7L1264.9 1613.7L1265.4 1613.7L1266 1613.7L1266.5 1613.7L1267 1613.8L1267.5 1614L1268.1 1614.3L1268.6 1614.7L1269.1 1615.2L1269.6 1615.8L1270.2 1616.6L1270.7 1617.4L1271.2 1618.4L1271.7 1619.4L1272.3 1620.6L1272.8 1621.9L1273.3 1623.3L1273.8 1624.8L1274.4 1626.4L1274.9 1628.1L1275.4 1629.9L1275.9 1631.8L1276.5 1633.9L1277 1636L1277.5 1638.3L1278 1640.6L1278.6 1643.1L1279.1 1645.7L1279.6 1648.4L1280.1 1651.2L1280.7 1654.1L1281.2 1657.1L1281.7 1660.2L1282.2 1663.4L1282.8 1666.8L1283.3 1670.2L1283.8 1673.8L1284.3 1677.4L1284.9 1681.2L1285.4 1685.1L1285.9 1689.1L1286.4 1693.2L1286.9 1697.4L1287.5 1701.7L1288 1706.1L1288.5 1710.6L1289 1715.3L1289.6 1720L1290.1 1724.9L1290.6 1729.8L1291.1 1734.9L1291.7 1740.1L1292.2 1745.4L1292.7 1750.8L1293.2 1756.3L1293.8 1761.9L1294.3 1767.6L1294.8 1773.4L1295.3 1779.4L1295.9 1785.4L1296.4 1791.6L1296.9 1797.8L1297.4 1804.2L1298 1810.7L1298.5 1817.3L1299 1824L1299.5 1830.8L1300.1 1837.7L1300.6 1844.7L1301.1 1851.8L1301.6 1859.1L1302.2 1866.4L1302.7 1873.9L1303.2 1881.5L1303.7 1889.1L1304.3 1896.9L1304.8 1904.8L1305.3 1912.8L1305.8 1920.9L1306.4 1929.1L1306.9 1937.4L1307.4 1945.9L1307.9 1954.4L1308.4 1963.1L1309 1971.8L1309.5 1980.7L1310 1989.6L1310.5 1998.7L1311.1 2007.9L1311.6 2017.2L1312.1 2026.6L1312.6 2036.1L1313.2 2045.8L1313.7 2055.5L1314.2 2065.3L1314.7 2075.3L1315.3 2085.3L1315.8 2095.5L1316.3 2105.8L1316.8 2116.2L1317.4 2126.6L1317.9 2137.2L1318.4 2147.9L1318.9 2158.8L1319.5 2169.7L1320 2180.7L1320.5 2191.9L1321 2203.1L1321.6 2214.5L1322.1 2225.9L1322.6 2237.5L1323.1 2249.2L1323.7 2261L1324.2 2272.9L1324.7 2284.9L1325.2 2297L1325.8 2309.2L1326.3 2321.5L1326.8 2334L1327.3 2346.5L1327.9 2359.2L1328.4 2372L1328.9 2384.8L1329.4 2397.8L1329.9 2410.9L1330.5 2424.1L1331 2437.4L1331.5 2450.8L1332 2464.4L1332.6 2478L1333.1 2491.7L1333.6 2505.6L1334.1 2519.5L1334.7 2533.6L1335.2 2547.8L1335.7 2562.1L1336.2 2576.4L1336.8 2590.9L1337.3 2605.6L1337.8 2620.3L1338.3 2635.1L1338.9 2650L1339.4 2665.1L1339.9 2680.2L1340.4 2695.5L1341 2710.5L1341.5 2705.5L1342 2701.3L1342.5 2697.2L1343.1 2693.4L1343.6 2689.7L1344.1 2686.1L1344.6 2682.7L1345.2 2679.4L1345.7 2676.2L1346.2 2673.1L1346.7 2670.2L1347.3 2667.5L1347.8 2664.9L1348.3 2662.4L1348.8 2660.1L1349.4 2658L1349.9 2656L1350.4 2654.2L1350.9 2652.6L1351.4 2651.2L1352 2649.9L1352.5 2648.9L1353 2648L1353.5 2647.3L1354.1 2646.8L1354.6 2646.5L1355.1 2646.4L1355.6 2646.5L1356.2 2646.8L1356.7 2647.3L1357.2 2648L1357.7 2648.9L1358.3 2649.9L1358.8 2651.2L1359.3 2652.6L1359.8 2654.2L1360.4 2656L1360.9 2658L1361.4 2660.1L1361.9 2662.4L1362.5 2664.9L1363 2667.5L1363.5 2670.2L1364 2673.1L1364.6 2676.2L1365.1 2679.4L1365.6 2682.7L1366.1 2686.1L1366.7 2689.7L1367.2 2693.4L1367.7 2697.2L1368.2 2701.3L1368.8 2705.5L1369.3 2710.5L1369.8 2710.5L1370.3 2710.5L1370.9 2710.5L1371.4 2710.5L1371.9 2710.5L1372.4 2710.5L1372.9 2710.5L1373.5 2710.5L1374 2710.5L1374.5 2710.5L1375 2710.5L1375.6 2710.5L1376.1 2710.5L1376.6 2710.5L1377.1 2710.5L1377.7 2710.5L1378.2 2710.5L1378.7 2710.5L1379.2 2710.5L1379.8 2710.5L1380.3 2710.5L1380.8 2710.5L1381.3 2710.5L1381.9 2710.5L1382.4 2710.5L1382.9 2710.5L1383.4 2710.5L1384 2710.5L1384.5 2710.5L1385 2710.5L1385.5 2710.5L1386.1 2710.5L1386.6 2710.5L1387.1 2710.5L1387.6 2710.5L1388.2 2710.5L1388.7 2710.5L1389.2 2710.5L1389.7 2710.5L1390.3 2710.5L1390.8 2710.5L1391.3 2710.5L1391.8 2710.5L1392.4 2710.5L1392.9 2710.5L1393.4 2710.5L1393.9 2710.5L1394.4 2710.5L1395 2710.5L1395.5 2710.5L1396 2710.5L1396.5 2710.5L1397.1 2710.5L1397.6 2710.5L1398.1 2710.5L1398.6 2710.5L1399.2 2710.5L1399.7 2710.5L1400.2 2710.5L1400.7 2710.5L1401.3 2710.5L1401.8 2710.5L1402.3 2710.5L1402.8 2710.5L1403.4 2710.5L1403.9 2710.5L1404.4 2710.5L1404.9 2710.5L1405.5 2710.5L1406 2710.5L1406.5 2710.5L1407 2710.5L1407.6 2710.5L1408.1 2710.5L1408.6 2710.5L1409.1 2710.5L1409.7 2710.5L1410.2 2710.5L1410.7 2710.5L1411.2 2710.5L1411.8 2710.5L1412.3 2710.5L1412.8 2710.5L1413.3 2710.5L1413.9 2710.5L1414.4 2710.5L1440.6 2710.5L1466.8 2710.5L1493 2710.5L1519.3 2710.5L1545.5 2710.5L1571.7 2710.5L1597.9 2710.5L1624.1 2710.5L1650.4 2710.5L1676.6 2710.5L1702.8 2710.5L1729 2710.5L1755.2 2710.5L1781.4 2710.5L1807.7 2710.5L1833.9 2710.5L1860.1 2710.5L1886.3 2710.5L1912.5 2710.5L1938.8 2710.5L1965 2710.5L1991.2 2710.5L2017.4 2710.5L2043.6 2710.5L2069.9 2710.5L2096.1 2710.5L2122.3 2710.5" stroke="#1414ff" stroke-width="4.6" fill="none" stroke-linejoin="round" stroke-dasharray="21 20"/>
<path d="M234.5 2695.8L247 2717.8L222 2717.8Z" stroke="#1414ff" stroke-width="3.2" fill="#fff" stroke-linejoin="miter"/>
<path d="M285.4 2695.8L297.9 2717.8L272.9 2717.8Z" stroke="#1414ff" stroke-width="3.2" fill="#fff" stroke-linejoin="miter"/>
<path d="M336.2 2695.8L348.7 2717.8L323.7 2717.8Z" stroke="#1414ff" stroke-width="3.2" fill="#fff" stroke-linejoin="miter"/>
<path d="M387.1 2695.8L399.6 2717.8L374.6 2717.8Z" stroke="#1414ff" stroke-width="3.2" fill="#fff" stroke-linejoin="miter"/>
<path d="M438 2432.6L450.5 2454.6L425.5 2454.6Z" stroke="#1414ff" stroke-width="3.2" fill="#fff" stroke-linejoin="miter"/>
<path d="M488.8 1599L501.3 1621L476.3 1621Z" stroke="#1414ff" stroke-width="3.2" fill="#fff" stroke-linejoin="miter"/>
<path d="M539.7 1599L552.2 1621L527.2 1621Z" stroke="#1414ff" stroke-width="3.2" fill="#fff" stroke-linejoin="miter"/>
<path d="M590.6 1599L603.1 1621L578.1 1621Z" stroke="#1414ff" stroke-width="3.2" fill="#fff" stroke-linejoin="miter"/>
<path d="M641.4 1599L653.9 1621L628.9 1621Z" stroke="#1414ff" stroke-width="3.2" fill="#fff" stroke-linejoin="miter"/>
<path d="M692.3 1599L704.8 1621L679.8 1621Z" stroke="#1414ff" stroke-width="3.2" fill="#fff" stroke-linejoin="miter"/>
<path d="M743.2 1599L755.7 1621L730.7 1621Z" stroke="#1414ff" stroke-width="3.2" fill="#fff" stroke-linejoin="miter"/>
<path d="M794 1599L806.5 1621L781.5 1621Z" stroke="#1414ff" stroke-width="3.2" fill="#fff" stroke-linejoin="miter"/>
<path d="M844.9 1599L857.4 1621L832.4 1621Z" stroke="#1414ff" stroke-width="3.2" fill="#fff" stroke-linejoin="miter"/>
<path d="M895.8 1599L908.3 1621L883.3 1621Z" stroke="#1414ff" stroke-width="3.2" fill="#fff" stroke-linejoin="miter"/>
<path d="M946.6 1599L959.1 1621L934.1 1621Z" stroke="#1414ff" stroke-width="3.2" fill="#fff" stroke-linejoin="miter"/>
<path d="M997.5 1599L1010 1621L985 1621Z" stroke="#1414ff" stroke-width="3.2" fill="#fff" stroke-linejoin="miter"/>
<path d="M1048.4 1599L1060.9 1621L1035.9 1621Z" stroke="#1414ff" stroke-width="3.2" fill="#fff" stroke-linejoin="miter"/>
<path d="M1099.2 1599L1111.7 1621L1086.7 1621Z" stroke="#1414ff" stroke-width="3.2" fill="#fff" stroke-linejoin="miter"/>
<path d="M1150.1 1599L1162.6 1621L1137.6 1621Z" stroke="#1414ff" stroke-width="3.2" fill="#fff" stroke-linejoin="miter"/>
<path d="M1200.9 1599L1213.4 1621L1188.4 1621Z" stroke="#1414ff" stroke-width="3.2" fill="#fff" stroke-linejoin="miter"/>
<path d="M1251.8 1599L1264.3 1621L1239.3 1621Z" stroke="#1414ff" stroke-width="3.2" fill="#fff" stroke-linejoin="miter"/>
<path d="M1302.7 1859.2L1315.2 1881.2L1290.2 1881.2Z" stroke="#1414ff" stroke-width="3.2" fill="#fff" stroke-linejoin="miter"/>
<path d="M1353.5 2632.7L1366 2654.7L1341 2654.7Z" stroke="#1414ff" stroke-width="3.2" fill="#fff" stroke-linejoin="miter"/>
<path d="M1404.4 2695.8L1416.9 2717.8L1391.9 2717.8Z" stroke="#1414ff" stroke-width="3.2" fill="#fff" stroke-linejoin="miter"/>
<path d="M1455.3 2695.8L1467.8 2717.8L1442.8 2717.8Z" stroke="#1414ff" stroke-width="3.2" fill="#fff" stroke-linejoin="miter"/>
<path d="M1506.1 2695.8L1518.6 2717.8L1493.6 2717.8Z" stroke="#1414ff" stroke-width="3.2" fill="#fff" stroke-linejoin="miter"/>
<path d="M1557 2695.8L1569.5 2717.8L1544.5 2717.8Z" stroke="#1414ff" stroke-width="3.2" fill="#fff" stroke-linejoin="miter"/>
<path d="M1607.9 2695.8L1620.4 2717.8L1595.4 2717.8Z" stroke="#1414ff" stroke-width="3.2" fill="#fff" stroke-linejoin="miter"/>
<path d="M1658.7 2695.8L1671.2 2717.8L1646.2 2717.8Z" stroke="#1414ff" stroke-width="3.2" fill="#fff" stroke-linejoin="miter"/>
<path d="M1709.6 2695.8L1722.1 2717.8L1697.1 2717.8Z" stroke="#1414ff" stroke-width="3.2" fill="#fff" stroke-linejoin="miter"/>
<path d="M1760.5 2695.8L1773 2717.8L1748 2717.8Z" stroke="#1414ff" stroke-width="3.2" fill="#fff" stroke-linejoin="miter"/>
<path d="M1811.3 2695.8L1823.8 2717.8L1798.8 2717.8Z" stroke="#1414ff" stroke-width="3.2" fill="#fff" stroke-linejoin="miter"/>
<path d="M1862.2 2695.8L1874.7 2717.8L1849.7 2717.8Z" stroke="#1414ff" stroke-width="3.2" fill="#fff" stroke-linejoin="miter"/>
<path d="M1913.1 2695.8L1925.6 2717.8L1900.6 2717.8Z" stroke="#1414ff" stroke-width="3.2" fill="#fff" stroke-linejoin="miter"/>
<path d="M1963.9 2695.8L1976.4 2717.8L1951.4 2717.8Z" stroke="#1414ff" stroke-width="3.2" fill="#fff" stroke-linejoin="miter"/>
<path d="M2014.8 2695.8L2027.3 2717.8L2002.3 2717.8Z" stroke="#1414ff" stroke-width="3.2" fill="#fff" stroke-linejoin="miter"/>
<path d="M2065.7 2695.8L2078.2 2717.8L2053.2 2717.8Z" stroke="#1414ff" stroke-width="3.2" fill="#fff" stroke-linejoin="miter"/>
<path d="M2116.5 2695.8L2129 2717.8L2104 2717.8Z" stroke="#1414ff" stroke-width="3.2" fill="#fff" stroke-linejoin="miter"/>
<path d="M234.5 2710.5L260.7 2710.5L286.9 2710.5L313.2 2710.5L339.4 2710.5L365.6 2710.5L391.8 2710.5L392.3 2710.5L392.9 2710.5L393.4 2710.5L393.9 2710.5L394.4 2710.5L395 2710.5L395.5 2710.5L396 2710.5L396.5 2710.5L397.1 2710.5L397.6 2710.5L398.1 2710.5L398.6 2710.5L399.2 2710.5L399.7 2710.5L400.2 2710.5L400.7 2710.5L401.3 2710.5L401.8 2710.5L402.3 2710.5L402.8 2710.5L403.4 2710.5L403.9 2710.5L404.4 2710.5L404.9 2710.5L405.5 2710.5L406 2710.5L406.5 2710.5L407 2710.5L407.5 2710.5L408.1 2710.5L408.6 2710.5L409.1 2710.5L409.6 2710.5L410.2 2710.5L410.7 2710.5L411.2 2710.5L411.7 2710.5L412.3 2710.5L412.8 2710.5L413.3 2710.5L413.8 2710.5L414.4 2710.5L414.9 2710.5L415.4 2710.5L415.9 2710.5L416.5 2710.5L417 2710.5L417.5 2710.5L418 2710.5L418.6 2710.5L419.1 2710.5L419.6 2710.5L420.1 2710.5L420.7 2710.5L421.2 2710.5L421.7 2710.5L422.2 2710.5L422.8 2710.5L423.3 2710.5L423.8 2710.5L424.3 2710.5L424.9 2710.5L425.4 2710.5L425.9 2710.5L426.4 2710.5L427 2644.4L427.5 2580.2L428 2517.9L428.5 2457.3L429 2398.5L429.6 2341.4L430.1 2285.9L430.6 2232.2L431.1 2180L431.7 2129.4L432.2 2080.3L432.7 2032.7L433.2 1986.5L433.8 1941.7L434.3 1898.3L434.8 1856.3L435.3 1815.5L435.9 1776L436.4 1736.8L436.9 1699.2L437.4 1666.6L438 1642.2L438.5 1625.1L439 1613.7L439.5 1613.7L440.1 1613.7L440.6 1613.7L441.1 1613.7L441.6 1613.7L442.2 1613.7L442.7 1613.7L443.2 1613.7L443.7 1613.7L444.3 1613.7L444.8 1613.7L445.3 1613.7L445.8 1613.7L446.4 1613.7L446.9 1613.7L447.4 1613.7L447.9 1613.7L448.5 1613.7L449 1613.7L449.5 1613.7L450 1613.7L450.5 1613.7L451.1 1613.7L451.6 1613.7L452.1 1613.7L452.6 1613.7L453.2 1613.7L453.7 1613.7L454.2 1613.7L454.7 1613.7L455.3 1613.7L455.8 1613.7L456.3 1613.7L456.8 1613.7L457.4 1613.7L457.9 1613.7L458.4 1613.7L458.9 1613.7L459.5 1613.7L460 1613.7L460.5 1613.7L461 1613.7L461.6 1613.7L462.1 1613.7L462.6 1613.7L463.1 1613.7L463.7 1613.7L464.2 1613.7L464.7 1613.7L465.2 1613.7L465.8 1613.7L466.3 1613.7L466.8 1613.7L467.3 1613.7L467.9 1613.7L468.4 1613.7L468.9 1613.7L469.4 1613.7L470 1613.7L470.5 1613.7L471 1613.7L471.5 1613.7L472 1613.7L472.6 1613.7L473.1 1613.7L473.6 1613.7L474.1 1613.7L474.7 1613.7L475.2 1613.7L475.7 1613.7L501.9 1613.7L528.2 1613.7L554.4 1613.7L580.6 1613.7L606.8 1613.7L633 1613.7L659.3 1613.7L685.5 1613.7L711.7 1613.7L737.9 1613.7L764.1 1613.7L790.4 1613.7L816.6 1613.7L842.8 1613.7L869 1613.7L895.2 1613.7L921.4 1613.7L947.7 1613.7L973.9 1613.7L1000.1 1613.7L1026.3 1613.7L1052.5 1613.7L1073.5 1613.7L1074 1613.7L1074.6 1613.7L1075.1 1613.7L1075.6 1613.7L1076.1 1613.7L1076.7 1613.7L1077.2 1613.7L1077.7 1613.7L1078.2 1613.7L1078.8 1613.7L1079.3 1613.7L1079.8 1613.7L1080.3 1613.7L1080.9 1613.7L1081.4 1613.7L1081.9 1613.7L1082.4 1613.7L1083 1613.7L1083.5 1613.7L1084 1613.7L1084.5 1613.7L1085.1 1613.7L1085.6 1613.7L1086.1 1613.7L1086.6 1613.7L1087.2 1613.7L1087.7 1613.7L1088.2 1613.7L1088.7 1613.7L1089.3 1613.7L1089.8 1613.7L1090.3 1613.7L1090.8 1613.7L1091.4 1613.7L1091.9 1613.7L1092.4 1613.7L1092.9 1613.7L1093.4 1613.7L1094 1613.7L1094.5 1613.7L1095 1613.7L1095.5 1613.7L1096.1 1613.7L1096.6 1613.7L1097.1 1613.7L1097.6 1613.7L1098.2 1613.7L1098.7 1613.7L1099.2 1613.7L1099.7 1613.7L1100.3 1613.7L1100.8 1613.7L1101.3 1613.7L1101.8 1613.7L1102.4 1613.7L1102.9 1613.7L1103.4 1613.7L1103.9 1613.7L1104.5 1613.7L1105 1613.7L1105.5 1613.7L1106 1613.7L1106.6 1613.7L1107.1 1613.7L1107.6 1613.7L1108.1 1613.7L1108.7 1613.7L1109.2 1613.7L1109.7 1613.7L1110.2 1613.7L1110.8 1613.7L1111.3 1613.7L1111.8 1613.7L1112.3 1613.7L1112.9 1613.7L1113.4 1613.7L1113.9 1613.7L1114.4 1613.7L1114.9 1613.7L1115.5 1613.7L1116 1613.7L1116.5 1613.7L1117 1613.7L1117.6 1613.7L1118.1 1613.7L1118.6 1613.7L1119.1 1613.7L1119.7 1613.7L1120.2 1613.7L1120.7 1613.7L1121.2 1613.7L1121.8 1613.7L1122.3 1613.7L1122.8 1613.7L1123.3 1613.7L1123.9 1613.7L1124.4 1613.7L1124.9 1613.7L1125.4 1613.7L1126 1613.7L1126.5 1613.7L1127 1613.7L1127.5 1613.7L1128.1 1613.7L1128.6 1613.7L1129.1 1613.7L1129.6 1613.7L1130.2 1613.7L1130.7 1613.7L1131.2 1613.7L1131.7 1613.7L1132.3 1613.7L1132.8 1613.7L1133.3 1613.7L1133.8 1613.7L1134.4 1613.7L1134.9 1613.7L1135.4 1613.7L1135.9 1613.7L1136.4 1613.7L1137 1613.7L1137.5 1613.7L1138 1613.7L1138.5 1613.7L1139.1 1613.7L1139.6 1613.7L1140.1 1613.7L1140.6 1613.7L1141.2 1613.7L1141.7 1613.7L1142.2 1613.7L1142.7 1613.7L1143.3 1613.7L1143.8 1613.7L1144.3 1613.7L1144.8 1613.7L1145.4 1613.7L1145.9 1613.7L1146.4 1613.7L1146.9 1613.7L1147.5 1613.7L1148 1613.7L1148.5 1613.7L1149 1613.7L1149.6 1613.7L1150.1 1613.7L1150.6 1613.7L1151.1 1613.7L1151.7 1613.7L1152.2 1613.7L1152.7 1613.7L1153.2 1613.7L1153.8 1613.7L1154.3 1613.7L1154.8 1613.7L1155.3 1613.7L1155.9 1613.7L1156.4 1613.7L1156.9 1613.7L1157.4 1613.7L1157.9 1613.7L1158.5 1613.7L1159 1613.7L1159.5 1613.7L1160 1613.7L1160.6 1613.7L1161.1 1613.7L1161.6 1613.7L1162.1 1613.7L1162.7 1613.7L1163.2 1613.7L1163.7 1613.7L1164.2 1613.7L1164.8 1613.7L1165.3 1613.7L1165.8 1613.7L1166.3 1613.7L1166.9 1613.7L1167.4 1613.7L1167.9 1613.7L1168.4 1613.7L1169 1613.7L1169.5 1613.7L1170 1613.7L1170.5 1613.7L1171.1 1613.7L1171.6 1613.7L1172.1 1613.7L1172.6 1613.7L1173.2 1613.7L1173.7 1613.7L1174.2 1613.7L1174.7 1613.7L1175.3 1613.7L1175.8 1613.7L1176.3 1613.7L1176.8 1613.7L1177.4 1613.7L1177.9 1613.7L1178.4 1613.7L1178.9 1613.7L1179.4 1613.7L1180 1613.7L1180.5 1613.7L1181 1613.7L1181.5 1613.7L1182.1 1613.7L1182.6 1613.7L1183.1 1613.7L1183.6 1613.7L1184.2 1613.7L1184.7 1613.7L1185.2 1613.7L1185.7 1613.7L1186.3 1613.7L1186.8 1613.7L1187.3 1613.7L1187.8 1613.7L1188.4 1613.7L1188.9 1613.7L1189.4 1613.7L1189.9 1613.7L1190.5 1613.7L1191 1613.7L1191.5 1613.7L1192 1613.7L1192.6 1613.7L1193.1 1613.7L1193.6 1613.7L1194.1 1613.7L1194.7 1613.7L1195.2 1613.7L1195.7 1613.7L1196.2 1613.7L1196.8 1613.7L1197.3 1613.7L1197.8 1613.7L1198.3 1613.7L1198.9 1613.7L1199.4 1613.7L1199.9 1613.7L1200.4 1613.7L1200.9 1613.7L1201.5 1613.7L1202 1613.7L1202.5 1613.7L1203 1613.7L1203.6 1613.7L1204.1 1613.7L1204.6 1613.7L1205.1 1613.7L1205.7 1613.7L1206.2 1613.7L1206.7 1613.7L1207.2 1613.7L1207.8 1613.7L1208.3 1613.7L1208.8 1613.7L1209.3 1613.7L1209.9 1613.7L1210.4 1613.7L1210.9 1613.7L1211.4 1613.7L1212 1613.7L1212.5 1613.7L1213 1613.7L1213.5 1613.7L1214.1 1613.7L1214.6 1613.7L1215.1 1613.7L1215.6 1613.7L1216.2 1613.7L1216.7 1613.7L1217.2 1613.7L1217.7 1613.7L1218.3 1613.7L1218.8 1613.7L1219.3 1613.7L1219.8 1613.7L1220.4 1613.7L1220.9 1613.7L1221.4 1613.7L1221.9 1613.7L1222.4 1613.7L1223 1613.7L1223.5 1613.7L1224 1613.7L1224.5 1613.7L1225.1 1613.7L1225.6 1613.7L1226.1 1613.7L1226.6 1613.7L1227.2 1613.7L1227.7 1613.7L1228.2 1613.7L1228.7 1613.7L1229.3 1613.7L1229.8 1613.7L1230.3 1613.7L1230.8 1613.7L1231.4 1613.7L1231.9 1613.7L1232.4 1613.7L1232.9 1613.7L1233.5 1613.7L1234 1613.7L1234.5 1613.7L1235 1613.7L1235.6 1613.7L1236.1 1613.7L1236.6 1613.7L1237.1 1613.7L1237.7 1613.7L1238.2 1613.7L1238.7 1613.7L1239.2 1613.7L1239.8 1613.7L1240.3 1613.7L1240.8 1613.7L1241.3 1613.7L1241.9 1613.7L1242.4 1613.7L1242.9 1613.7L1243.4 1613.7L1243.9 1613.7L1244.5 1613.7L1245 1613.7L1245.5 1613.7L1246 1613.7L1246.6 1613.7L1247.1 1613.7L1247.6 1613.7L1248.1 1613.7L1248.7 1613.7L1249.2 1613.7L1249.7 1613.7L1250.2 1613.7L1250.8 1613.7L1251.3 1613.7L1251.8 1613.7L1252.3 1613.7L1252.9 1613.7L1253.4 1613.7L1253.9 1613.7L1254.4 1613.7L1255 1613.7L1255.5 1613.7L1256 1613.7L1256.5 1613.7L1257.1 1613.7L1257.6 1613.7L1258.1 1613.7L1258.6 1613.7L1259.2 1613.7L1259.7 1613.7L1260.2 1613.7L1260.7 1613.7L1261.3 1613.7L1261.8 1613.7L1262.3 1613.7L1262.8 1613.7L1263.4 1613.7L1263.9 1613.7L1264.4 1613.7L1264.9 1613.7L1265.4 1613.7L1266 1613.7L1266.5 1613.7L1267 1613.7L1267.5 1613.7L1268.1 1613.7L1268.6 1613.7L1269.1 1613.7L1269.6 1613.7L1270.2 1613.7L1270.7 1613.7L1271.2 1613.7L1271.7 1613.7L1272.3 1613.7L1272.8 1613.7L1273.3 1613.9L1273.8 1614.1L1274.4 1614.5L1274.9 1614.9L1275.4 1615.5L1275.9 1616.1L1276.5 1616.9L1277 1617.7L1277.5 1618.7L1278 1619.7L1278.6 1620.9L1279.1 1622.1L1279.6 1623.5L1280.1 1624.9L1280.7 1626.5L1281.2 1628.1L1281.7 1629.9L1282.2 1631.8L1282.8 1633.7L1283.3 1635.8L1283.8 1637.9L1284.3 1640.2L1284.9 1642.5L1285.4 1645L1285.9 1647.5L1286.4 1650.2L1286.9 1652.9L1287.5 1655.8L1288 1658.7L1288.5 1661.8L1289 1665L1289.6 1668.2L1290.1 1671.6L1290.6 1675L1291.1 1678.6L1291.7 1682.2L1292.2 1686L1292.7 1689.8L1293.2 1693.8L1293.8 1697.9L1294.3 1702L1294.8 1706.3L1295.3 1710.6L1295.9 1715.1L1296.4 1719.6L1296.9 1724.3L1297.4 1729.1L1298 1733.9L1298.5 1738.9L1299 1743.9L1299.5 1749.1L1300.1 1754.4L1300.6 1759.7L1301.1 1765.2L1301.6 1770.7L1302.2 1776.4L1302.7 1782.1L1303.2 1788L1303.7 1794L1304.3 1800L1304.8 1806.2L1305.3 1812.4L1305.8 1818.8L1306.4 1825.3L1306.9 1831.8L1307.4 1838.5L1307.9 1845.2L1308.4 1852.1L1309 1859.1L1309.5 1866.1L1310 1873.3L1310.5 1880.6L1311.1 1887.9L1311.6 1895.4L1312.1 1902.9L1312.6 1910.6L1313.2 1918.4L1313.7 1926.2L1314.2 1934.2L1314.7 1942.3L1315.3 1950.4L1315.8 1958.7L1316.3 1967L1316.8 1975.5L1317.4 1984.1L1317.9 1992.7L1318.4 2001.5L1318.9 2010.4L1319.5 2019.3L1320 2028.4L1320.5 2037.6L1321 2046.8L1321.6 2056.2L1322.1 2065.7L1322.6 2075.2L1323.1 2084.9L1323.7 2094.7L1324.2 2104.5L1324.7 2114.5L1325.2 2124.6L1325.8 2134.7L1326.3 2145L1326.8 2155.4L1327.3 2165.8L1327.9 2176.4L1328.4 2187.1L1328.9 2197.8L1329.4 2208.7L1329.9 2219.7L1330.5 2230.7L1331 2241.9L1331.5 2253.2L1332 2264.5L1332.6 2276L1333.1 2287.6L1333.6 2299.2L1334.1 2311L1334.7 2322.9L1335.2 2334.8L1335.7 2346.9L1336.2 2359.1L1336.8 2371.4L1337.3 2383.7L1337.8 2396.2L1338.3 2408.8L1338.9 2421.4L1339.4 2434.2L1339.9 2447.1L1340.4 2460L1341 2473.1L1341.5 2486.3L1342 2499.6L1342.5 2512.9L1343.1 2526.4L1343.6 2540L1344.1 2553.6L1344.6 2567.4L1345.2 2581.3L1345.7 2595.3L1346.2 2609.3L1346.7 2623.5L1347.3 2637.8L1347.8 2652.2L1348.3 2666.6L1348.8 2681.2L1349.4 2695.9L1349.9 2710.5L1350.4 2706.2L1350.9 2702.6L1351.4 2699.1L1352 2695.8L1352.5 2692.5L1353 2689.5L1353.5 2686.5L1354.1 2683.6L1354.6 2680.8L1355.1 2678.2L1355.6 2675.6L1356.2 2673.2L1356.7 2670.9L1357.2 2668.7L1357.7 2666.7L1358.3 2664.8L1358.8 2663L1359.3 2661.4L1359.8 2659.9L1360.4 2658.6L1360.9 2657.4L1361.4 2656.4L1361.9 2655.5L1362.5 2654.8L1363 2654.2L1363.5 2653.8L1364 2653.5L1364.6 2653.5L1365.1 2653.5L1365.6 2653.8L1366.1 2654.2L1366.7 2654.8L1367.2 2655.5L1367.7 2656.4L1368.2 2657.4L1368.8 2658.6L1369.3 2659.9L1369.8 2661.4L1370.3 2663L1370.9 2664.8L1371.4 2666.7L1371.9 2668.7L1372.4 2670.9L1372.9 2673.2L1373.5 2675.6L1374 2678.2L1374.5 2680.8L1375 2683.6L1375.6 2686.5L1376.1 2689.5L1376.6 2692.5L1377.1 2695.8L1377.7 2699.1L1378.2 2702.6L1378.7 2706.2L1379.2 2710.5L1379.8 2710.5L1380.3 2710.5L1380.8 2710.5L1381.3 2710.5L1381.9 2710.5L1382.4 2710.5L1382.9 2710.5L1383.4 2710.5L1384 2710.5L1384.5 2710.5L1385 2710.5L1385.5 2710.5L1386.1 2710.5L1386.6 2710.5L1387.1 2710.5L1387.6 2710.5L1388.2 2710.5L1388.7 2710.5L1389.2 2710.5L1389.7 2710.5L1390.3 2710.5L1390.8 2710.5L1391.3 2710.5L1391.8 2710.5L1392.4 2710.5L1392.9 2710.5L1393.4 2710.5L1393.9 2710.5L1394.4 2710.5L1395 2710.5L1395.5 2710.5L1396 2710.5L1396.5 2710.5L1397.1 2710.5L1397.6 2710.5L1398.1 2710.5L1398.6 2710.5L1399.2 2710.5L1399.7 2710.5L1400.2 2710.5L1400.7 2710.5L1401.3 2710.5L1401.8 2710.5L1402.3 2710.5L1402.8 2710.5L1403.4 2710.5L1403.9 2710.5L1404.4 2710.5L1404.9 2710.5L1405.5 2710.5L1406 2710.5L1406.5 2710.5L1407 2710.5L1407.6 2710.5L1408.1 2710.5L1408.6 2710.5L1409.1 2710.5L1409.7 2710.5L1410.2 2710.5L1410.7 2710.5L1411.2 2710.5L1411.8 2710.5L1412.3 2710.5L1412.8 2710.5L1413.3 2710.5L1413.9 2710.5L1414.4 2710.5L1440.6 2710.5L1466.8 2710.5L1493 2710.5L1519.3 2710.5L1545.5 2710.5L1571.7 2710.5L1597.9 2710.5L1624.1 2710.5L1650.4 2710.5L1676.6 2710.5L1702.8 2710.5L1729 2710.5L1755.2 2710.5L1781.4 2710.5L1807.7 2710.5L1833.9 2710.5L1860.1 2710.5L1886.3 2710.5L1912.5 2710.5L1938.8 2710.5L1965 2710.5L1991.2 2710.5L2017.4 2710.5L2043.6 2710.5L2069.9 2710.5L2096.1 2710.5L2122.3 2710.5" stroke="#e8553d" stroke-width="4.6" fill="none" stroke-linejoin="round"/>
<path d="M234.5 2725.2L247 2703.2L222 2703.2Z" stroke="#e8553d" stroke-width="3.2" fill="#fff" stroke-linejoin="miter"/>
<path d="M285.4 2725.2L297.9 2703.2L272.9 2703.2Z" stroke="#e8553d" stroke-width="3.2" fill="#fff" stroke-linejoin="miter"/>
<path d="M336.2 2725.2L348.7 2703.2L323.7 2703.2Z" stroke="#e8553d" stroke-width="3.2" fill="#fff" stroke-linejoin="miter"/>
<path d="M387.1 2725.2L399.6 2703.2L374.6 2703.2Z" stroke="#e8553d" stroke-width="3.2" fill="#fff" stroke-linejoin="miter"/>
<path d="M438 1656.9L450.5 1634.9L425.5 1634.9Z" stroke="#e8553d" stroke-width="3.2" fill="#fff" stroke-linejoin="miter"/>
<path d="M488.8 1628.3L501.3 1606.3L476.3 1606.3Z" stroke="#e8553d" stroke-width="3.2" fill="#fff" stroke-linejoin="miter"/>
<path d="M539.7 1628.3L552.2 1606.3L527.2 1606.3Z" stroke="#e8553d" stroke-width="3.2" fill="#fff" stroke-linejoin="miter"/>
<path d="M590.6 1628.3L603.1 1606.3L578.1 1606.3Z" stroke="#e8553d" stroke-width="3.2" fill="#fff" stroke-linejoin="miter"/>
<path d="M641.4 1628.3L653.9 1606.3L628.9 1606.3Z" stroke="#e8553d" stroke-width="3.2" fill="#fff" stroke-linejoin="miter"/>
<path d="M692.3 1628.3L704.8 1606.3L679.8 1606.3Z" stroke="#e8553d" stroke-width="3.2" fill="#fff" stroke-linejoin="miter"/>
<path d="M743.2 1628.3L755.7 1606.3L730.7 1606.3Z" stroke="#e8553d" stroke-width="3.2" fill="#fff" stroke-linejoin="miter"/>
<path d="M794 1628.3L806.5 1606.3L781.5 1606.3Z" stroke="#e8553d" stroke-width="3.2" fill="#fff" stroke-linejoin="miter"/>
<path d="M844.9 1628.3L857.4 1606.3L832.4 1606.3Z" stroke="#e8553d" stroke-width="3.2" fill="#fff" stroke-linejoin="miter"/>
<path d="M895.8 1628.3L908.3 1606.3L883.3 1606.3Z" stroke="#e8553d" stroke-width="3.2" fill="#fff" stroke-linejoin="miter"/>
<path d="M946.6 1628.3L959.1 1606.3L934.1 1606.3Z" stroke="#e8553d" stroke-width="3.2" fill="#fff" stroke-linejoin="miter"/>
<path d="M997.5 1628.3L1010 1606.3L985 1606.3Z" stroke="#e8553d" stroke-width="3.2" fill="#fff" stroke-linejoin="miter"/>
<path d="M1048.4 1628.3L1060.9 1606.3L1035.9 1606.3Z" stroke="#e8553d" stroke-width="3.2" fill="#fff" stroke-linejoin="miter"/>
<path d="M1099.2 1628.3L1111.7 1606.3L1086.7 1606.3Z" stroke="#e8553d" stroke-width="3.2" fill="#fff" stroke-linejoin="miter"/>
<path d="M1150.1 1628.3L1162.6 1606.3L1137.6 1606.3Z" stroke="#e8553d" stroke-width="3.2" fill="#fff" stroke-linejoin="miter"/>
<path d="M1200.9 1628.3L1213.4 1606.3L1188.4 1606.3Z" stroke="#e8553d" stroke-width="3.2" fill="#fff" stroke-linejoin="miter"/>
<path d="M1251.8 1628.3L1264.3 1606.3L1239.3 1606.3Z" stroke="#e8553d" stroke-width="3.2" fill="#fff" stroke-linejoin="miter"/>
<path d="M1302.7 1796.8L1315.2 1774.8L1290.2 1774.8Z" stroke="#e8553d" stroke-width="3.2" fill="#fff" stroke-linejoin="miter"/>
<path d="M1353.5 2701.1L1366 2679.1L1341 2679.1Z" stroke="#e8553d" stroke-width="3.2" fill="#fff" stroke-linejoin="miter"/>
<path d="M1404.4 2725.2L1416.9 2703.2L1391.9 2703.2Z" stroke="#e8553d" stroke-width="3.2" fill="#fff" stroke-linejoin="miter"/>
<path d="M1455.3 2725.2L1467.8 2703.2L1442.8 2703.2Z" stroke="#e8553d" stroke-width="3.2" fill="#fff" stroke-linejoin="miter"/>
<path d="M1506.1 2725.2L1518.6 2703.2L1493.6 2703.2Z" stroke="#e8553d" stroke-width="3.2" fill="#fff" stroke-linejoin="miter"/>
<path d="M1557 2725.2L1569.5 2703.2L1544.5 2703.2Z" stroke="#e8553d" stroke-width="3.2" fill="#fff" stroke-linejoin="miter"/>
<path d="M1607.9 2725.2L1620.4 2703.2L1595.4 2703.2Z" stroke="#e8553d" stroke-width="3.2" fill="#fff" stroke-linejoin="miter"/>
<path d="M1658.7 2725.2L1671.2 2703.2L1646.2 2703.2Z" stroke="#e8553d" stroke-width="3.2" fill="#fff" stroke-linejoin="miter"/>
<path d="M1709.6 2725.2L1722.1 2703.2L1697.1 2703.2Z" stroke="#e8553d" stroke-width="3.2" fill="#fff" stroke-linejoin="miter"/>
<path d="M1760.5 2725.2L1773 2703.2L1748 2703.2Z" stroke="#e8553d" stroke-width="3.2" fill="#fff" stroke-linejoin="miter"/>
<path d="M1811.3 2725.2L1823.8 2703.2L1798.8 2703.2Z" stroke="#e8553d" stroke-width="3.2" fill="#fff" stroke-linejoin="miter"/>
<path d="M1862.2 2725.2L1874.7 2703.2L1849.7 2703.2Z" stroke="#e8553d" stroke-width="3.2" fill="#fff" stroke-linejoin="miter"/>
<path d="M1913.1 2725.2L1925.6 2703.2L1900.6 2703.2Z" stroke="#e8553d" stroke-width="3.2" fill="#fff" stroke-linejoin="miter"/>
<path d="M1963.9 2725.2L1976.4 2703.2L1951.4 2703.2Z" stroke="#e8553d" stroke-width="3.2" fill="#fff" stroke-linejoin="miter"/>
<path d="M2014.8 2725.2L2027.3 2703.2L2002.3 2703.2Z" stroke="#e8553d" stroke-width="3.2" fill="#fff" stroke-linejoin="miter"/>
<path d="M2065.7 2725.2L2078.2 2703.2L2053.2 2703.2Z" stroke="#e8553d" stroke-width="3.2" fill="#fff" stroke-linejoin="miter"/>
<path d="M2116.5 2725.2L2129 2703.2L2104 2703.2Z" stroke="#e8553d" stroke-width="3.2" fill="#fff" stroke-linejoin="miter"/>
<path d="M234.5 2710.5L260.7 2710.5L286.9 2710.5L313.2 2710.5L339.4 2710.5L365.6 2710.5L391.8 2710.5L392.3 2710.5L392.9 2710.5L393.4 2710.5L393.9 2710.5L394.4 2710.5L395 2710.5L395.5 2710.5L396 2710.5L396.5 2710.5L397.1 2710.5L397.6 2710.5L398.1 2710.5L398.6 2710.5L399.2 2710.5L399.7 2710.5L400.2 2710.5L400.7 2710.5L401.3 2710.5L401.8 2710.5L402.3 2710.5L402.8 2710.5L403.4 2710.5L403.9 2710.5L404.4 2710.5L404.9 2710.5L405.5 2710.5L406 2710.5L406.5 2710.5L407 2710.5L407.5 2710.5L408.1 2710.5L408.6 2710.5L409.1 2710.5L409.6 2710.5L410.2 2710.5L410.7 2710.5L411.2 2710.5L411.7 2710.5L412.3 2710.5L412.8 2710.5L413.3 2710.5L413.8 2710.5L414.4 2710.5L414.9 2710.5L415.4 2710.5L415.9 2710.5L416.5 2710.5L417 2710.5L417.5 2710.5L418 2710.5L418.6 2710.5L419.1 2710.5L419.6 2710.5L420.1 2710.5L420.7 2710.5L421.2 2710.5L421.7 2710.5L422.2 2710.5L422.8 2710.5L423.3 2710.5L423.8 2710.5L424.3 2710.5L424.9 2710.5L425.4 2710.5L425.9 2710.5L426.4 2710.5L427 2710.5L427.5 2710.5L428 2710.5L428.5 2710.5L429 2710.5L429.6 2710.5L430.1 2710.5L430.6 2710.5L431.1 2710.5L431.7 2710.5L432.2 2692.7L432.7 2672.6L433.2 2650.4L433.8 2626.3L434.3 2600.2L434.8 2572.4L435.3 2543.1L435.9 2512.3L436.4 2480.1L436.9 2446.8L437.4 2412.4L438 2377.1L438.5 2336.4L439 2287.3L439.5 2231.8L440.1 2171.8L440.6 2109.4L441.1 2046.7L441.6 1985.6L442.2 1928.3L442.7 1876.6L443.2 1832.6L443.7 1798.4L444.3 1776L444.8 1761.2L445.3 1748.2L445.8 1736.8L446.4 1726.7L446.9 1717.7L447.4 1709.5L447.9 1701.8L448.5 1694.5L449 1687.1L449.5 1679.5L450 1671.8L450.5 1664.2L451.1 1656.9L451.6 1649.9L452.1 1643.1L452.6 1636.6L453.2 1630.4L453.7 1624.5L454.2 1618.9L454.7 1613.7L455.3 1613.7L455.8 1613.7L456.3 1613.7L456.8 1613.7L457.4 1613.7L457.9 1613.7L458.4 1613.7L458.9 1613.7L459.5 1613.7L460 1613.7L460.5 1613.7L461 1613.7L461.6 1613.7L462.1 1613.7L462.6 1613.7L463.1 1613.7L463.7 1613.7L464.2 1613.7L464.7 1613.7L465.2 1613.7L465.8 1613.7L466.3 1613.7L466.8 1613.7L467.3 1613.7L467.9 1613.7L468.4 1613.7L468.9 1613.7L469.4 1613.7L470 1613.7L470.5 1613.7L471 1613.7L471.5 1613.7L472 1613.7L472.6 1613.7L473.1 1613.7L473.6 1613.7L474.1 1613.7L474.7 1613.7L475.2 1613.7L475.7 1613.7L501.9 1613.7L528.2 1613.7L554.4 1613.7L580.6 1613.7L606.8 1613.7L633 1613.7L659.3 1613.7L685.5 1613.7L711.7 1613.7L737.9 1613.7L764.1 1613.7L790.4 1613.7L816.6 1613.7L842.8 1613.7L869 1613.7L895.2 1613.7L921.4 1613.7L947.7 1613.7L973.9 1613.7L1000.1 1613.7L1026.3 1613.7L1052.5 1613.7L1073.5 1613.7L1074 1613.7L1074.6 1613.7L1075.1 1613.7L1075.6 1613.7L1076.1 1613.7L1076.7 1613.7L1077.2 1613.7L1077.7 1613.7L1078.2 1613.7L1078.8 1613.7L1079.3 1613.7L1079.8 1613.7L1080.3 1613.7L1080.9 1613.7L1081.4 1613.7L1081.9 1613.7L1082.4 1613.7L1083 1613.7L1083.5 1613.7L1084 1613.7L1084.5 1613.7L1085.1 1613.7L1085.6 1613.7L1086.1 1613.7L1086.6 1613.7L1087.2 1613.7L1087.7 1613.7L1088.2 1613.7L1088.7 1613.7L1089.3 1613.7L1089.8 1613.7L1090.3 1613.7L1090.8 1613.7L1091.4 1613.7L1091.9 1613.7L1092.4 1613.7L1092.9 1613.7L1093.4 1613.7L1094 1613.7L1094.5 1613.7L1095 1613.7L1095.5 1613.7L1096.1 1613.7L1096.6 1613.7L1097.1 1613.7L1097.6 1613.7L1098.2 1613.7L1098.7 1613.7L1099.2 1613.7L1099.7 1613.7L1100.3 1613.7L1100.8 1613.7L1101.3 1613.7L1101.8 1613.7L1102.4 1613.7L1102.9 1613.7L1103.4 1613.7L1103.9 1613.7L1104.5 1613.7L1105 1613.7L1105.5 1613.7L1106 1613.7L1106.6 1613.7L1107.1 1613.7L1107.6 1613.7L1108.1 1613.7L1108.7 1613.7L1109.2 1613.7L1109.7 1613.7L1110.2 1613.7L1110.8 1613.7L1111.3 1613.7L1111.8 1613.7L1112.3 1613.7L1112.9 1613.7L1113.4 1613.7L1113.9 1613.7L1114.4 1613.7L1114.9 1613.7L1115.5 1613.7L1116 1613.7L1116.5 1613.7L1117 1613.7L1117.6 1613.7L1118.1 1613.7L1118.6 1613.7L1119.1 1613.7L1119.7 1613.7L1120.2 1613.7L1120.7 1613.7L1121.2 1613.7L1121.8 1613.7L1122.3 1613.7L1122.8 1613.7L1123.3 1613.7L1123.9 1613.7L1124.4 1613.7L1124.9 1613.7L1125.4 1613.7L1126 1613.7L1126.5 1613.7L1127 1613.7L1127.5 1613.7L1128.1 1613.7L1128.6 1613.7L1129.1 1613.7L1129.6 1613.7L1130.2 1613.7L1130.7 1613.7L1131.2 1613.7L1131.7 1613.7L1132.3 1613.7L1132.8 1613.7L1133.3 1613.7L1133.8 1613.7L1134.4 1613.7L1134.9 1613.7L1135.4 1613.7L1135.9 1613.7L1136.4 1613.7L1137 1613.7L1137.5 1613.7L1138 1613.7L1138.5 1613.7L1139.1 1613.7L1139.6 1613.7L1140.1 1613.7L1140.6 1613.7L1141.2 1613.7L1141.7 1613.7L1142.2 1613.7L1142.7 1613.7L1143.3 1613.7L1143.8 1613.7L1144.3 1613.7L1144.8 1613.7L1145.4 1613.7L1145.9 1613.7L1146.4 1613.7L1146.9 1613.7L1147.5 1613.7L1148 1613.7L1148.5 1613.7L1149 1613.7L1149.6 1613.8L1150.1 1614L1150.6 1614.3L1151.1 1614.6L1151.7 1615.1L1152.2 1615.6L1152.7 1616.3L1153.2 1617L1153.8 1617.8L1154.3 1618.7L1154.8 1619.7L1155.3 1620.8L1155.9 1621.9L1156.4 1623.2L1156.9 1624.6L1157.4 1626L1157.9 1627.5L1158.5 1629.1L1159 1630.8L1159.5 1632.6L1160 1634.5L1160.6 1636.5L1161.1 1638.6L1161.6 1640.7L1162.1 1643L1162.7 1645.3L1163.2 1647.7L1163.7 1650.2L1164.2 1652.8L1164.8 1655.5L1165.3 1658.3L1165.8 1661.2L1166.3 1664.1L1166.9 1667.2L1167.4 1670.3L1167.9 1673.6L1168.4 1676.9L1169 1680.3L1169.5 1683.8L1170 1687.4L1170.5 1691L1171.1 1694.8L1171.6 1698.7L1172.1 1702.6L1172.6 1706.6L1173.2 1710.8L1173.7 1715L1174.2 1719.3L1174.7 1723.7L1175.3 1728.1L1175.8 1732.7L1176.3 1737.4L1176.8 1742.1L1177.4 1747L1177.9 1751.9L1178.4 1756.9L1178.9 1762L1179.4 1767.2L1180 1772.5L1180.5 1777.9L1181 1783.3L1181.5 1788.9L1182.1 1794.5L1182.6 1800.2L1183.1 1806.1L1183.6 1812L1184.2 1818L1184.7 1824.1L1185.2 1830.2L1185.7 1836.5L1186.3 1842.9L1186.8 1849.3L1187.3 1855.8L1187.8 1862.5L1188.4 1869.2L1188.9 1876L1189.4 1882.9L1189.9 1889.9L1190.5 1896.9L1191 1904.1L1191.5 1911.4L1192 1918.7L1192.6 1926.1L1193.1 1933.6L1193.6 1941.3L1194.1 1949L1194.7 1956.7L1195.2 1964.6L1195.7 1972.6L1196.2 1980.6L1196.8 1988.8L1197.3 1997L1197.8 2005.3L1198.3 2013.8L1198.9 2022.3L1199.4 2030.9L1199.9 2039.5L1200.4 2048.3L1200.9 2057.2L1201.5 2066.1L1202 2075.2L1202.5 2084.3L1203 2093.5L1203.6 2102.8L1204.1 2112.2L1204.6 2121.7L1205.1 2131.3L1205.7 2140.9L1206.2 2150.7L1206.7 2160.5L1207.2 2170.5L1207.8 2180.5L1208.3 2190.6L1208.8 2200.8L1209.3 2211.1L1209.9 2221.5L1210.4 2232L1210.9 2242.5L1211.4 2253.2L1212 2263.9L1212.5 2274.7L1213 2285.6L1213.5 2296.7L1214.1 2307.8L1214.6 2318.9L1215.1 2330.2L1215.6 2341.6L1216.2 2353L1216.7 2364.6L1217.2 2376.2L1217.7 2387.9L1218.3 2399.7L1218.8 2411.6L1219.3 2423.6L1219.8 2435.7L1220.4 2447.9L1220.9 2460.1L1221.4 2472.5L1221.9 2484.9L1222.4 2497.5L1223 2510.1L1223.5 2522.8L1224 2535.6L1224.5 2548.5L1225.1 2561.4L1225.6 2574.5L1226.1 2587.6L1226.6 2600.9L1227.2 2614.2L1227.7 2627.6L1228.2 2641.1L1228.7 2654.7L1229.3 2668.4L1229.8 2682.2L1230.3 2696.1L1230.8 2710L1231.4 2706.2L1231.9 2702.4L1232.4 2698.9L1232.9 2695.5L1233.5 2692.2L1234 2688.9L1234.5 2685.8L1235 2682.8L1235.6 2679.8L1236.1 2676.9L1236.6 2674.1L1237.1 2671.3L1237.7 2668.7L1238.2 2666.1L1238.7 2663.6L1239.2 2661.1L1239.8 2658.8L1240.3 2656.5L1240.8 2654.4L1241.3 2652.3L1241.9 2650.3L1242.4 2648.4L1242.9 2646.7L1243.4 2645L1243.9 2643.4L1244.5 2641.9L1245 2640.5L1245.5 2639.2L1246 2638.1L1246.6 2637L1247.1 2636L1247.6 2635.2L1248.1 2634.5L1248.7 2633.8L1249.2 2633.3L1249.7 2632.9L1250.2 2632.6L1250.8 2632.5L1251.3 2632.4L1251.8 2632.5L1252.3 2632.6L1252.9 2632.9L1253.4 2633.3L1253.9 2633.8L1254.4 2634.5L1255 2635.2L1255.5 2636L1256 2637L1256.5 2638.1L1257.1 2639.2L1257.6 2640.5L1258.1 2641.9L1258.6 2643.4L1259.2 2645L1259.7 2646.7L1260.2 2648.4L1260.7 2650.3L1261.3 2652.3L1261.8 2654.4L1262.3 2656.5L1262.8 2658.8L1263.4 2661.1L1263.9 2663.6L1264.4 2666.1L1264.9 2668.7L1265.4 2671.3L1266 2674.1L1266.5 2676.9L1267 2679.8L1267.5 2682.8L1268.1 2685.8L1268.6 2688.9L1269.1 2692.2L1269.6 2695.5L1270.2 2698.9L1270.7 2702.4L1271.2 2706.2L1271.7 2710.5L1272.3 2710.5L1272.8 2710.5L1273.3 2710.5L1273.8 2710.5L1274.4 2710.5L1274.9 2710.5L1275.4 2710.5L1275.9 2710.5L1276.5 2710.5L1277 2710.5L1277.5 2710.5L1278 2710.5L1278.6 2710.5L1279.1 2710.5L1279.6 2710.5L1280.1 2710.5L1280.7 2710.5L1281.2 2710.5L1281.7 2710.5L1282.2 2710.5L1282.8 2710.5L1283.3 2710.5L1283.8 2710.5L1284.3 2710.5L1284.9 2710.5L1285.4 2710.5L1285.9 2710.5L1286.4 2710.5L1286.9 2710.5L1287.5 2710.5L1288 2710.5L1288.5 2710.5L1289 2710.5L1289.6 2710.5L1290.1 2710.5L1290.6 2710.5L1291.1 2710.5L1291.7 2710.5L1292.2 2710.5L1292.7 2710.5L1293.2 2710.5L1293.8 2710.5L1294.3 2710.5L1294.8 2710.5L1295.3 2710.5L1295.9 2710.5L1296.4 2710.5L1296.9 2710.5L1297.4 2710.5L1298 2710.5L1298.5 2710.5L1299 2710.5L1299.5 2710.5L1300.1 2710.5L1300.6 2710.5L1301.1 2710.5L1301.6 2710.5L1302.2 2710.5L1302.7 2710.5L1303.2 2710.5L1303.7 2710.5L1304.3 2710.5L1304.8 2710.5L1305.3 2710.5L1305.8 2710.5L1306.4 2710.5L1306.9 2710.5L1307.4 2710.5L1307.9 2710.5L1308.4 2710.5L1309 2710.5L1309.5 2710.5L1310 2710.5L1310.5 2710.5L1311.1 2710.5L1311.6 2710.5L1312.1 2710.5L1312.6 2710.5L1313.2 2710.5L1313.7 2710.5L1314.2 2710.5L1314.7 2710.5L1315.3 2710.5L1315.8 2710.5L1316.3 2710.5L1316.8 2710.5L1317.4 2710.5L1317.9 2710.5L1318.4 2710.5L1318.9 2710.5L1319.5 2710.5L1320 2710.5L1320.5 2710.5L1321 2710.5L1321.6 2710.5L1322.1 2710.5L1322.6 2710.5L1323.1 2710.5L1323.7 2710.5L1324.2 2710.5L1324.7 2710.5L1325.2 2710.5L1325.8 2710.5L1326.3 2710.5L1326.8 2710.5L1327.3 2710.5L1327.9 2710.5L1328.4 2710.5L1328.9 2710.5L1329.4 2710.5L1329.9 2710.5L1330.5 2710.5L1331 2710.5L1331.5 2710.5L1332 2710.5L1332.6 2710.5L1333.1 2710.5L1333.6 2710.5L1334.1 2710.5L1334.7 2710.5L1335.2 2710.5L1335.7 2710.5L1336.2 2710.5L1336.8 2710.5L1337.3 2710.5L1337.8 2710.5L1338.3 2710.5L1338.9 2710.5L1339.4 2710.5L1339.9 2710.5L1340.4 2710.5L1341 2710.5L1341.5 2710.5L1342 2710.5L1342.5 2710.5L1343.1 2710.5L1343.6 2710.5L1344.1 2710.5L1344.6 2710.5L1345.2 2710.5L1345.7 2710.5L1346.2 2710.5L1346.7 2710.5L1347.3 2710.5L1347.8 2710.5L1348.3 2710.5L1348.8 2710.5L1349.4 2710.5L1349.9 2710.5L1350.4 2710.5L1350.9 2710.5L1351.4 2710.5L1352 2710.5L1352.5 2710.5L1353 2710.5L1353.5 2710.5L1354.1 2710.5L1354.6 2710.5L1355.1 2710.5L1355.6 2710.5L1356.2 2710.5L1356.7 2710.5L1357.2 2710.5L1357.7 2710.5L1358.3 2710.5L1358.8 2710.5L1359.3 2710.5L1359.8 2710.5L1360.4 2710.5L1360.9 2710.5L1361.4 2710.5L1361.9 2710.5L1362.5 2710.5L1363 2710.5L1363.5 2710.5L1364 2710.5L1364.6 2710.5L1365.1 2710.5L1365.6 2710.5L1366.1 2710.5L1366.7 2710.5L1367.2 2710.5L1367.7 2710.5L1368.2 2710.5L1368.8 2710.5L1369.3 2710.5L1369.8 2710.5L1370.3 2710.5L1370.9 2710.5L1371.4 2710.5L1371.9 2710.5L1372.4 2710.5L1372.9 2710.5L1373.5 2710.5L1374 2710.5L1374.5 2710.5L1375 2710.5L1375.6 2710.5L1376.1 2710.5L1376.6 2710.5L1377.1 2710.5L1377.7 2710.5L1378.2 2710.5L1378.7 2710.5L1379.2 2710.5L1379.8 2710.5L1380.3 2710.5L1380.8 2710.5L1381.3 2710.5L1381.9 2710.5L1382.4 2710.5L1382.9 2710.5L1383.4 2710.5L1384 2710.5L1384.5 2710.5L1385 2710.5L1385.5 2710.5L1386.1 2710.5L1386.6 2710.5L1387.1 2710.5L1387.6 2710.5L1388.2 2710.5L1388.7 2710.5L1389.2 2710.5L1389.7 2710.5L1390.3 2710.5L1390.8 2710.5L1391.3 2710.5L1391.8 2710.5L1392.4 2710.5L1392.9 2710.5L1393.4 2710.5L1393.9 2710.5L1394.4 2710.5L1395 2710.5L1395.5 2710.5L1396 2710.5L1396.5 2710.5L1397.1 2710.5L1397.6 2710.5L1398.1 2710.5L1398.6 2710.5L1399.2 2710.5L1399.7 2710.5L1400.2 2710.5L1400.7 2710.5L1401.3 2710.5L1401.8 2710.5L1402.3 2710.5L1402.8 2710.5L1403.4 2710.5L1403.9 2710.5L1404.4 2710.5L1404.9 2710.5L1405.5 2710.5L1406 2710.5L1406.5 2710.5L1407 2710.5L1407.6 2710.5L1408.1 2710.5L1408.6 2710.5L1409.1 2710.5L1409.7 2710.5L1410.2 2710.5L1410.7 2710.5L1411.2 2710.5L1411.8 2710.5L1412.3 2710.5L1412.8 2710.5L1413.3 2710.5L1413.9 2710.5L1414.4 2710.5L1440.6 2710.5L1466.8 2710.5L1493 2710.5L1519.3 2710.5L1545.5 2710.5L1571.7 2710.5L1597.9 2710.5L1624.1 2710.5L1650.4 2710.5L1676.6 2710.5L1702.8 2710.5L1729 2710.5L1755.2 2710.5L1781.4 2710.5L1807.7 2710.5L1833.9 2710.5L1860.1 2710.5L1886.3 2710.5L1912.5 2710.5L1938.8 2710.5L1965 2710.5L1991.2 2710.5L2017.4 2710.5L2043.6 2710.5L2069.9 2710.5L2096.1 2710.5L2122.3 2710.5" stroke="#ff2cff" stroke-width="4.6" fill="none" stroke-linejoin="round" stroke-dasharray="21 20 7 20"/>
<rect x="225.2" y="2701.2" width="18.6" height="18.6" stroke="#ff2cff" stroke-width="3.2" fill="#fff"/>
<rect x="276.1" y="2701.2" width="18.6" height="18.6" stroke="#ff2cff" stroke-width="3.2" fill="#fff"/>
<rect x="326.9" y="2701.2" width="18.6" height="18.6" stroke="#ff2cff" stroke-width="3.2" fill="#fff"/>
<rect x="377.8" y="2701.2" width="18.6" height="18.6" stroke="#ff2cff" stroke-width="3.2" fill="#fff"/>
<rect x="428.7" y="2367.8" width="18.6" height="18.6" stroke="#ff2cff" stroke-width="3.2" fill="#fff"/>
<rect x="479.5" y="1604.4" width="18.6" height="18.6" stroke="#ff2cff" stroke-width="3.2" fill="#fff"/>
<rect x="530.4" y="1604.4" width="18.6" height="18.6" stroke="#ff2cff" stroke-width="3.2" fill="#fff"/>
<rect x="581.3" y="1604.4" width="18.6" height="18.6" stroke="#ff2cff" stroke-width="3.2" fill="#fff"/>
<rect x="632.1" y="1604.4" width="18.6" height="18.6" stroke="#ff2cff" stroke-width="3.2" fill="#fff"/>
<rect x="683" y="1604.4" width="18.6" height="18.6" stroke="#ff2cff" stroke-width="3.2" fill="#fff"/>
<rect x="733.9" y="1604.4" width="18.6" height="18.6" stroke="#ff2cff" stroke-width="3.2" fill="#fff"/>
<rect x="784.7" y="1604.4" width="18.6" height="18.6" stroke="#ff2cff" stroke-width="3.2" fill="#fff"/>
<rect x="835.6" y="1604.4" width="18.6" height="18.6" stroke="#ff2cff" stroke-width="3.2" fill="#fff"/>
<rect x="886.5" y="1604.4" width="18.6" height="18.6" stroke="#ff2cff" stroke-width="3.2" fill="#fff"/>
<rect x="937.3" y="1604.4" width="18.6" height="18.6" stroke="#ff2cff" stroke-width="3.2" fill="#fff"/>
<rect x="988.2" y="1604.4" width="18.6" height="18.6" stroke="#ff2cff" stroke-width="3.2" fill="#fff"/>
<rect x="1039.1" y="1604.4" width="18.6" height="18.6" stroke="#ff2cff" stroke-width="3.2" fill="#fff"/>
<rect x="1089.9" y="1604.4" width="18.6" height="18.6" stroke="#ff2cff" stroke-width="3.2" fill="#fff"/>
<rect x="1140.8" y="1604.7" width="18.6" height="18.6" stroke="#ff2cff" stroke-width="3.2" fill="#fff"/>
<rect x="1191.6" y="2047.9" width="18.6" height="18.6" stroke="#ff2cff" stroke-width="3.2" fill="#fff"/>
<rect x="1242.5" y="2623.2" width="18.6" height="18.6" stroke="#ff2cff" stroke-width="3.2" fill="#fff"/>
<rect x="1293.4" y="2701.2" width="18.6" height="18.6" stroke="#ff2cff" stroke-width="3.2" fill="#fff"/>
<rect x="1344.2" y="2701.2" width="18.6" height="18.6" stroke="#ff2cff" stroke-width="3.2" fill="#fff"/>
<rect x="1395.1" y="2701.2" width="18.6" height="18.6" stroke="#ff2cff" stroke-width="3.2" fill="#fff"/>
<rect x="1446" y="2701.2" width="18.6" height="18.6" stroke="#ff2cff" stroke-width="3.2" fill="#fff"/>
<rect x="1496.8" y="2701.2" width="18.6" height="18.6" stroke="#ff2cff" stroke-width="3.2" fill="#fff"/>
<rect x="1547.7" y="2701.2" width="18.6" height="18.6" stroke="#ff2cff" stroke-width="3.2" fill="#fff"/>
<rect x="1598.6" y="2701.2" width="18.6" height="18.6" stroke="#ff2cff" stroke-width="3.2" fill="#fff"/>
<rect x="1649.4" y="2701.2" width="18.6" height="18.6" stroke="#ff2cff" stroke-width="3.2" fill="#fff"/>
<rect x="1700.3" y="2701.2" width="18.6" height="18.6" stroke="#ff2cff" stroke-width="3.2" fill="#fff"/>
<rect x="1751.2" y="2701.2" width="18.6" height="18.6" stroke="#ff2cff" stroke-width="3.2" fill="#fff"/>
<rect x="1802" y="2701.2" width="18.6" height="18.6" stroke="#ff2cff" stroke-width="3.2" fill="#fff"/>
<rect x="1852.9" y="2701.2" width="18.6" height="18.6" stroke="#ff2cff" stroke-width="3.2" fill="#fff"/>
<rect x="1903.8" y="2701.2" width="18.6" height="18.6" stroke="#ff2cff" stroke-width="3.2" fill="#fff"/>
<rect x="1954.6" y="2701.2" width="18.6" height="18.6" stroke="#ff2cff" stroke-width="3.2" fill="#fff"/>
<rect x="2005.5" y="2701.2" width="18.6" height="18.6" stroke="#ff2cff" stroke-width="3.2" fill="#fff"/>
<rect x="2056.4" y="2701.2" width="18.6" height="18.6" stroke="#ff2cff" stroke-width="3.2" fill="#fff"/>
<rect x="2107.2" y="2701.2" width="18.6" height="18.6" stroke="#ff2cff" stroke-width="3.2" fill="#fff"/>
<path d="M234.5 2710.5L260.7 2710.5L286.9 2710.5L313.2 2710.5L339.4 2710.5L365.6 2710.5L391.8 2710.5L392.3 2710.5L392.9 2710.5L393.4 2710.5L393.9 2710.5L394.4 2710.5L395 2710.5L395.5 2710.5L396 2710.5L396.5 2710.5L397.1 2710.5L397.6 2710.5L398.1 2710.5L398.6 2710.5L399.2 2710.5L399.7 2710.5L400.2 2710.5L400.7 2710.5L401.3 2710.5L401.8 2710.5L402.3 2710.5L402.8 2710.5L403.4 2710.5L403.9 2710.5L404.4 2710.5L404.9 2710.5L405.5 2710.5L406 2710.5L406.5 2710.5L407 2710.5L407.5 2710.5L408.1 2710.5L408.6 2710.5L409.1 2710.5L409.6 2710.5L410.2 2710.5L410.7 2710.5L411.2 2710.5L411.7 2710.5L412.3 2710.5L412.8 2710.5L413.3 2710.5L413.8 2710.5L414.4 2710.5L414.9 2710.5L415.4 2710.5L415.9 2710.5L416.5 2710.5L417 2710.5L417.5 2710.5L418 2710.5L418.6 2710.5L419.1 2710.5L419.6 2710.5L420.1 2710.5L420.7 2710.5L421.2 2710.5L421.7 2710.5L422.2 2710.5L422.8 2710.5L423.3 2710.5L423.8 2710.5L424.3 2710.5L424.9 2710.5L425.4 2710.5L425.9 2710.5L426.4 2710.5L427 2710.5L427.5 2710.5L428 2710.5L428.5 2710.5L429 2680.1L429.6 2648.2L430.1 2614.8L430.6 2580.1L431.1 2544.1L431.7 2506.8L432.2 2468.4L432.7 2428.9L433.2 2388.4L433.8 2346.9L434.3 2304.4L434.8 2261.2L435.3 2217.2L435.9 2172.5L436.4 2127.1L436.9 2081.2L437.4 2034.8L438 1987.9L438.5 1932.3L439 1868.9L439.5 1812.1L440.1 1776L440.6 1757.2L441.1 1742.2L441.6 1730.1L442.2 1719.8L442.7 1710.6L443.2 1701.4L443.7 1692L444.3 1682.8L444.8 1673.9L445.3 1665.3L445.8 1657L446.4 1649.2L446.9 1641.8L447.4 1634.9L447.9 1628.6L448.5 1623L449 1618L449.5 1613.7L450 1613.7L450.5 1613.7L451.1 1613.7L451.6 1613.7L452.1 1613.7L452.6 1613.7L453.2 1613.7L453.7 1613.7L454.2 1613.7L454.7 1613.7L455.3 1613.7L455.8 1613.7L456.3 1613.7L456.8 1613.7L457.4 1613.7L457.9 1613.7L458.4 1613.7L458.9 1613.7L459.5 1613.7L460 1613.7L460.5 1613.7L461 1613.7L461.6 1613.7L462.1 1613.7L462.6 1613.7L463.1 1613.7L463.7 1613.7L464.2 1613.7L464.7 1613.7L465.2 1613.7L465.8 1613.7L466.3 1613.7L466.8 1613.7L467.3 1613.7L467.9 1613.7L468.4 1613.7L468.9 1613.7L469.4 1613.7L470 1613.7L470.5 1613.7L471 1613.7L471.5 1613.7L472 1613.7L472.6 1613.7L473.1 1613.7L473.6 1613.7L474.1 1613.7L474.7 1613.7L475.2 1613.7L475.7 1613.7L501.9 1613.7L528.2 1613.7L554.4 1613.7L580.6 1613.7L606.8 1613.7L633 1613.7L659.3 1613.7L685.5 1613.7L711.7 1613.7L737.9 1613.7L764.1 1613.7L790.4 1613.7L816.6 1613.7L842.8 1613.7L869 1613.7L895.2 1613.7L921.4 1613.7L947.7 1613.7L973.9 1613.7L1000.1 1613.7L1026.3 1613.7L1052.5 1613.7L1073.5 1613.7L1074 1613.7L1074.6 1613.7L1075.1 1613.7L1075.6 1613.7L1076.1 1613.7L1076.7 1613.7L1077.2 1613.7L1077.7 1613.7L1078.2 1613.7L1078.8 1613.7L1079.3 1613.7L1079.8 1613.7L1080.3 1613.7L1080.9 1613.7L1081.4 1613.7L1081.9 1613.7L1082.4 1613.7L1083 1613.7L1083.5 1613.7L1084 1613.7L1084.5 1613.7L1085.1 1613.7L1085.6 1613.7L1086.1 1613.7L1086.6 1613.7L1087.2 1613.7L1087.7 1613.7L1088.2 1613.7L1088.7 1613.7L1089.3 1613.7L1089.8 1613.7L1090.3 1613.7L1090.8 1613.7L1091.4 1613.7L1091.9 1613.7L1092.4 1613.7L1092.9 1613.7L1093.4 1613.7L1094 1613.7L1094.5 1613.7L1095 1613.7L1095.5 1613.7L1096.1 1613.7L1096.6 1613.7L1097.1 1613.7L1097.6 1613.7L1098.2 1613.7L1098.7 1613.7L1099.2 1613.7L1099.7 1613.7L1100.3 1613.7L1100.8 1613.7L1101.3 1613.7L1101.8 1613.7L1102.4 1613.7L1102.9 1613.7L1103.4 1613.7L1103.9 1613.7L1104.5 1613.7L1105 1613.7L1105.5 1613.7L1106 1613.7L1106.6 1613.7L1107.1 1613.7L1107.6 1613.7L1108.1 1613.7L1108.7 1613.7L1109.2 1613.7L1109.7 1613.7L1110.2 1613.7L1110.8 1613.7L1111.3 1613.7L1111.8 1613.7L1112.3 1613.7L1112.9 1613.7L1113.4 1613.7L1113.9 1613.7L1114.4 1613.7L1114.9 1613.7L1115.5 1613.7L1116 1613.7L1116.5 1613.7L1117 1613.7L1117.6 1613.7L1118.1 1613.7L1118.6 1613.7L1119.1 1613.7L1119.7 1613.7L1120.2 1613.7L1120.7 1613.7L1121.2 1613.7L1121.8 1613.7L1122.3 1613.7L1122.8 1613.7L1123.3 1613.7L1123.9 1613.7L1124.4 1613.7L1124.9 1613.7L1125.4 1613.7L1126 1613.7L1126.5 1613.7L1127 1613.7L1127.5 1613.7L1128.1 1613.7L1128.6 1613.7L1129.1 1613.7L1129.6 1613.7L1130.2 1613.7L1130.7 1613.7L1131.2 1613.7L1131.7 1613.7L1132.3 1613.7L1132.8 1613.7L1133.3 1613.7L1133.8 1613.7L1134.4 1613.7L1134.9 1613.7L1135.4 1613.7L1135.9 1613.7L1136.4 1613.7L1137 1613.7L1137.5 1613.7L1138 1613.7L1138.5 1613.7L1139.1 1613.7L1139.6 1613.7L1140.1 1613.7L1140.6 1613.7L1141.2 1613.7L1141.7 1613.7L1142.2 1613.7L1142.7 1613.7L1143.3 1613.7L1143.8 1613.7L1144.3 1613.7L1144.8 1613.7L1145.4 1613.7L1145.9 1613.7L1146.4 1613.7L1146.9 1613.7L1147.5 1613.7L1148 1613.7L1148.5 1613.7L1149 1613.7L1149.6 1613.7L1150.1 1613.7L1150.6 1613.7L1151.1 1613.7L1151.7 1613.7L1152.2 1613.7L1152.7 1613.7L1153.2 1613.7L1153.8 1613.7L1154.3 1613.7L1154.8 1613.8L1155.3 1614L1155.9 1614.4L1156.4 1614.8L1156.9 1615.3L1157.4 1615.9L1157.9 1616.6L1158.5 1617.4L1159 1618.3L1159.5 1619.4L1160 1620.5L1160.6 1621.7L1161.1 1623L1161.6 1624.4L1162.1 1625.9L1162.7 1627.5L1163.2 1629.2L1163.7 1631L1164.2 1632.9L1164.8 1634.9L1165.3 1637L1165.8 1639.2L1166.3 1641.5L1166.9 1643.9L1167.4 1646.4L1167.9 1649L1168.4 1651.7L1169 1654.5L1169.5 1657.4L1170 1660.4L1170.5 1663.5L1171.1 1666.7L1171.6 1670L1172.1 1673.4L1172.6 1676.9L1173.2 1680.5L1173.7 1684.2L1174.2 1688L1174.7 1691.9L1175.3 1695.9L1175.8 1700L1176.3 1704.1L1176.8 1708.4L1177.4 1712.8L1177.9 1717.3L1178.4 1721.9L1178.9 1726.6L1179.4 1731.4L1180 1736.2L1180.5 1741.2L1181 1746.3L1181.5 1751.5L1182.1 1756.8L1182.6 1762.1L1183.1 1767.6L1183.6 1773.2L1184.2 1778.9L1184.7 1784.6L1185.2 1790.5L1185.7 1796.5L1186.3 1802.6L1186.8 1808.7L1187.3 1815L1187.8 1821.4L1188.4 1827.9L1188.9 1834.4L1189.4 1841.1L1189.9 1847.9L1190.5 1854.7L1191 1861.7L1191.5 1868.8L1192 1875.9L1192.6 1883.2L1193.1 1890.6L1193.6 1898L1194.1 1905.6L1194.7 1913.2L1195.2 1921L1195.7 1928.9L1196.2 1936.8L1196.8 1944.9L1197.3 1953L1197.8 1961.3L1198.3 1969.7L1198.9 1978.1L1199.4 1986.7L1199.9 1995.3L1200.4 2004.1L1200.9 2012.9L1201.5 2021.9L1202 2030.9L1202.5 2040.1L1203 2049.3L1203.6 2058.7L1204.1 2068.1L1204.6 2077.7L1205.1 2087.3L1205.7 2097.1L1206.2 2106.9L1206.7 2116.8L1207.2 2126.9L1207.8 2137L1208.3 2147.3L1208.8 2157.6L1209.3 2168.1L1209.9 2178.6L1210.4 2189.2L1210.9 2200L1211.4 2210.8L1212 2221.7L1212.5 2232.8L1213 2243.9L1213.5 2255.2L1214.1 2266.5L1214.6 2277.9L1215.1 2289.4L1215.6 2301.1L1216.2 2312.8L1216.7 2324.6L1217.2 2336.6L1217.7 2348.6L1218.3 2360.7L1218.8 2372.9L1219.3 2385.3L1219.8 2397.7L1220.4 2410.2L1220.9 2422.8L1221.4 2435.6L1221.9 2448.4L1222.4 2461.3L1223 2474.3L1223.5 2487.5L1224 2500.7L1224.5 2514L1225.1 2527.4L1225.6 2540.9L1226.1 2554.5L1226.6 2568.3L1227.2 2582.1L1227.7 2596L1228.2 2610L1228.7 2624.1L1229.3 2638.3L1229.8 2652.6L1230.3 2667L1230.8 2681.5L1231.4 2696.2L1231.9 2710.5L1232.4 2705.7L1232.9 2701.5L1233.5 2697.6L1234 2693.8L1234.5 2690.1L1235 2686.5L1235.6 2683.1L1236.1 2679.7L1236.6 2676.5L1237.1 2673.3L1237.7 2670.2L1238.2 2667.2L1238.7 2664.3L1239.2 2661.5L1239.8 2658.9L1240.3 2656.3L1240.8 2653.8L1241.3 2651.5L1241.9 2649.2L1242.4 2647.1L1242.9 2645.1L1243.4 2643.2L1243.9 2641.5L1244.5 2639.8L1245 2638.3L1245.5 2636.9L1246 2635.7L1246.6 2634.6L1247.1 2633.6L1247.6 2632.8L1248.1 2632.1L1248.7 2631.5L1249.2 2631.1L1249.7 2630.8L1250.2 2630.7L1250.8 2630.7L1251.3 2630.8L1251.8 2631.1L1252.3 2631.5L1252.9 2632.1L1253.4 2632.8L1253.9 2633.6L1254.4 2634.6L1255 2635.7L1255.5 2636.9L1256 2638.3L1256.5 2639.8L1257.1 2641.5L1257.6 2643.2L1258.1 2645.1L1258.6 2647.1L1259.2 2649.2L1259.7 2651.5L1260.2 2653.8L1260.7 2656.3L1261.3 2658.9L1261.8 2661.5L1262.3 2664.3L1262.8 2667.2L1263.4 2670.2L1263.9 2673.3L1264.4 2676.5L1264.9 2679.7L1265.4 2683.1L1266 2686.5L1266.5 2690.1L1267 2693.8L1267.5 2697.6L1268.1 2701.5L1268.6 2705.7L1269.1 2710.5L1269.6 2710.5L1270.2 2710.5L1270.7 2710.5L1271.2 2710.5L1271.7 2710.5L1272.3 2710.5L1272.8 2710.5L1273.3 2710.5L1273.8 2710.5L1274.4 2710.5L1274.9 2710.5L1275.4 2710.5L1275.9 2710.5L1276.5 2710.5L1277 2710.5L1277.5 2710.5L1278 2710.5L1278.6 2710.5L1279.1 2710.5L1279.6 2710.5L1280.1 2710.5L1280.7 2710.5L1281.2 2710.5L1281.7 2710.5L1282.2 2710.5L1282.8 2710.5L1283.3 2710.5L1283.8 2710.5L1284.3 2710.5L1284.9 2710.5L1285.4 2710.5L1285.9 2710.5L1286.4 2710.5L1286.9 2710.5L1287.5 2710.5L1288 2710.5L1288.5 2710.5L1289 2710.5L1289.6 2710.5L1290.1 2710.5L1290.6 2710.5L1291.1 2710.5L1291.7 2710.5L1292.2 2710.5L1292.7 2710.5L1293.2 2710.5L1293.8 2710.5L1294.3 2710.5L1294.8 2710.5L1295.3 2710.5L1295.9 2710.5L1296.4 2710.5L1296.9 2710.5L1297.4 2710.5L1298 2710.5L1298.5 2710.5L1299 2710.5L1299.5 2710.5L1300.1 2710.5L1300.6 2710.5L1301.1 2710.5L1301.6 2710.5L1302.2 2710.5L1302.7 2710.5L1303.2 2710.5L1303.7 2710.5L1304.3 2710.5L1304.8 2710.5L1305.3 2710.5L1305.8 2710.5L1306.4 2710.5L1306.9 2710.5L1307.4 2710.5L1307.9 2710.5L1308.4 2710.5L1309 2710.5L1309.5 2710.5L1310 2710.5L1310.5 2710.5L1311.1 2710.5L1311.6 2710.5L1312.1 2710.5L1312.6 2710.5L1313.2 2710.5L1313.7 2710.5L1314.2 2710.5L1314.7 2710.5L1315.3 2710.5L1315.8 2710.5L1316.3 2710.5L1316.8 2710.5L1317.4 2710.5L1317.9 2710.5L1318.4 2710.5L1318.9 2710.5L1319.5 2710.5L1320 2710.5L1320.5 2710.5L1321 2710.5L1321.6 2710.5L1322.1 2710.5L1322.6 2710.5L1323.1 2710.5L1323.7 2710.5L1324.2 2710.5L1324.7 2710.5L1325.2 2710.5L1325.8 2710.5L1326.3 2710.5L1326.8 2710.5L1327.3 2710.5L1327.9 2710.5L1328.4 2710.5L1328.9 2710.5L1329.4 2710.5L1329.9 2710.5L1330.5 2710.5L1331 2710.5L1331.5 2710.5L1332 2710.5L1332.6 2710.5L1333.1 2710.5L1333.6 2710.5L1334.1 2710.5L1334.7 2710.5L1335.2 2710.5L1335.7 2710.5L1336.2 2710.5L1336.8 2710.5L1337.3 2710.5L1337.8 2710.5L1338.3 2710.5L1338.9 2710.5L1339.4 2710.5L1339.9 2710.5L1340.4 2710.5L1341 2710.5L1341.5 2710.5L1342 2710.5L1342.5 2710.5L1343.1 2710.5L1343.6 2710.5L1344.1 2710.5L1344.6 2710.5L1345.2 2710.5L1345.7 2710.5L1346.2 2710.5L1346.7 2710.5L1347.3 2710.5L1347.8 2710.5L1348.3 2710.5L1348.8 2710.5L1349.4 2710.5L1349.9 2710.5L1350.4 2710.5L1350.9 2710.5L1351.4 2710.5L1352 2710.5L1352.5 2710.5L1353 2710.5L1353.5 2710.5L1354.1 2710.5L1354.6 2710.5L1355.1 2710.5L1355.6 2710.5L1356.2 2710.5L1356.7 2710.5L1357.2 2710.5L1357.7 2710.5L1358.3 2710.5L1358.8 2710.5L1359.3 2710.5L1359.8 2710.5L1360.4 2710.5L1360.9 2710.5L1361.4 2710.5L1361.9 2710.5L1362.5 2710.5L1363 2710.5L1363.5 2710.5L1364 2710.5L1364.6 2710.5L1365.1 2710.5L1365.6 2710.5L1366.1 2710.5L1366.7 2710.5L1367.2 2710.5L1367.7 2710.5L1368.2 2710.5L1368.8 2710.5L1369.3 2710.5L1369.8 2710.5L1370.3 2710.5L1370.9 2710.5L1371.4 2710.5L1371.9 2710.5L1372.4 2710.5L1372.9 2710.5L1373.5 2710.5L1374 2710.5L1374.5 2710.5L1375 2710.5L1375.6 2710.5L1376.1 2710.5L1376.6 2710.5L1377.1 2710.5L1377.7 2710.5L1378.2 2710.5L1378.7 2710.5L1379.2 2710.5L1379.8 2710.5L1380.3 2710.5L1380.8 2710.5L1381.3 2710.5L1381.9 2710.5L1382.4 2710.5L1382.9 2710.5L1383.4 2710.5L1384 2710.5L1384.5 2710.5L1385 2710.5L1385.5 2710.5L1386.1 2710.5L1386.6 2710.5L1387.1 2710.5L1387.6 2710.5L1388.2 2710.5L1388.7 2710.5L1389.2 2710.5L1389.7 2710.5L1390.3 2710.5L1390.8 2710.5L1391.3 2710.5L1391.8 2710.5L1392.4 2710.5L1392.9 2710.5L1393.4 2710.5L1393.9 2710.5L1394.4 2710.5L1395 2710.5L1395.5 2710.5L1396 2710.5L1396.5 2710.5L1397.1 2710.5L1397.6 2710.5L1398.1 2710.5L1398.6 2710.5L1399.2 2710.5L1399.7 2710.5L1400.2 2710.5L1400.7 2710.5L1401.3 2710.5L1401.8 2710.5L1402.3 2710.5L1402.8 2710.5L1403.4 2710.5L1403.9 2710.5L1404.4 2710.5L1404.9 2710.5L1405.5 2710.5L1406 2710.5L1406.5 2710.5L1407 2710.5L1407.6 2710.5L1408.1 2710.5L1408.6 2710.5L1409.1 2710.5L1409.7 2710.5L1410.2 2710.5L1410.7 2710.5L1411.2 2710.5L1411.8 2710.5L1412.3 2710.5L1412.8 2710.5L1413.3 2710.5L1413.9 2710.5L1414.4 2710.5L1440.6 2710.5L1466.8 2710.5L1493 2710.5L1519.3 2710.5L1545.5 2710.5L1571.7 2710.5L1597.9 2710.5L1624.1 2710.5L1650.4 2710.5L1676.6 2710.5L1702.8 2710.5L1729 2710.5L1755.2 2710.5L1781.4 2710.5L1807.7 2710.5L1833.9 2710.5L1860.1 2710.5L1886.3 2710.5L1912.5 2710.5L1938.8 2710.5L1965 2710.5L1991.2 2710.5L2017.4 2710.5L2043.6 2710.5L2069.9 2710.5L2096.1 2710.5L2122.3 2710.5" stroke="#00ff00" stroke-width="4.6" fill="none" stroke-linejoin="round"/>
<path d="M234.5 2698.7L237.8 2707.2L246.9 2707.7L239.8 2713.4L242.1 2722.2L234.5 2717.3L226.9 2722.2L229.2 2713.4L222.1 2707.7L231.2 2707.2Z" stroke="#00ff00" stroke-width="2.5" fill="#fff" stroke-linejoin="miter"/>
<path d="M285.4 2698.7L288.7 2707.2L297.7 2707.7L290.7 2713.4L293 2722.2L285.4 2717.3L277.7 2722.2L280 2713.4L273 2707.7L282.1 2707.2Z" stroke="#00ff00" stroke-width="2.5" fill="#fff" stroke-linejoin="miter"/>
<path d="M336.2 2698.7L339.5 2707.2L348.6 2707.7L341.6 2713.4L343.9 2722.2L336.2 2717.3L328.6 2722.2L330.9 2713.4L323.9 2707.7L332.9 2707.2Z" stroke="#00ff00" stroke-width="2.5" fill="#fff" stroke-linejoin="miter"/>
<path d="M387.1 2698.7L390.4 2707.2L399.5 2707.7L392.4 2713.4L394.7 2722.2L387.1 2717.3L379.5 2722.2L381.8 2713.4L374.7 2707.7L383.8 2707.2Z" stroke="#00ff00" stroke-width="2.5" fill="#fff" stroke-linejoin="miter"/>
<path d="M438 1976.1L441.3 1984.6L450.3 1985.1L443.3 1990.8L445.6 1999.6L438 1994.7L430.3 1999.6L432.6 1990.8L425.6 1985.1L434.7 1984.6Z" stroke="#00ff00" stroke-width="2.5" fill="#fff" stroke-linejoin="miter"/>
<path d="M488.8 1601.9L492.1 1610.3L501.2 1610.9L494.2 1616.6L496.5 1625.4L488.8 1620.5L481.2 1625.4L483.5 1616.6L476.5 1610.9L485.5 1610.3Z" stroke="#00ff00" stroke-width="2.5" fill="#fff" stroke-linejoin="miter"/>
<path d="M539.7 1601.9L543 1610.3L552.1 1610.9L545 1616.6L547.3 1625.4L539.7 1620.5L532.1 1625.4L534.4 1616.6L527.3 1610.9L536.4 1610.3Z" stroke="#00ff00" stroke-width="2.5" fill="#fff" stroke-linejoin="miter"/>
<path d="M590.6 1601.9L593.9 1610.3L602.9 1610.9L595.9 1616.6L598.2 1625.4L590.6 1620.5L582.9 1625.4L585.2 1616.6L578.2 1610.9L587.3 1610.3Z" stroke="#00ff00" stroke-width="2.5" fill="#fff" stroke-linejoin="miter"/>
<path d="M641.4 1601.9L644.7 1610.3L653.8 1610.9L646.8 1616.6L649.1 1625.4L641.4 1620.5L633.8 1625.4L636.1 1616.6L629.1 1610.9L638.1 1610.3Z" stroke="#00ff00" stroke-width="2.5" fill="#fff" stroke-linejoin="miter"/>
<path d="M692.3 1601.9L695.6 1610.3L704.7 1610.9L697.6 1616.6L699.9 1625.4L692.3 1620.5L684.7 1625.4L687 1616.6L679.9 1610.9L689 1610.3Z" stroke="#00ff00" stroke-width="2.5" fill="#fff" stroke-linejoin="miter"/>
<path d="M743.2 1601.9L746.4 1610.3L755.5 1610.9L748.5 1616.6L750.8 1625.4L743.2 1620.5L735.5 1625.4L737.8 1616.6L730.8 1610.9L739.9 1610.3Z" stroke="#00ff00" stroke-width="2.5" fill="#fff" stroke-linejoin="miter"/>
<path d="M794 1601.9L797.3 1610.3L806.4 1610.9L799.3 1616.6L801.7 1625.4L794 1620.5L786.4 1625.4L788.7 1616.6L781.7 1610.9L790.7 1610.3Z" stroke="#00ff00" stroke-width="2.5" fill="#fff" stroke-linejoin="miter"/>
<path d="M844.9 1601.9L848.2 1610.3L857.3 1610.9L850.2 1616.6L852.5 1625.4L844.9 1620.5L837.2 1625.4L839.6 1616.6L832.5 1610.9L841.6 1610.3Z" stroke="#00ff00" stroke-width="2.5" fill="#fff" stroke-linejoin="miter"/>
<path d="M895.8 1601.9L899 1610.3L908.1 1610.9L901.1 1616.6L903.4 1625.4L895.8 1620.5L888.1 1625.4L890.4 1616.6L883.4 1610.9L892.5 1610.3Z" stroke="#00ff00" stroke-width="2.5" fill="#fff" stroke-linejoin="miter"/>
<path d="M946.6 1601.9L949.9 1610.3L959 1610.9L951.9 1616.6L954.3 1625.4L946.6 1620.5L939 1625.4L941.3 1616.6L934.3 1610.9L943.3 1610.3Z" stroke="#00ff00" stroke-width="2.5" fill="#fff" stroke-linejoin="miter"/>
<path d="M997.5 1601.9L1000.8 1610.3L1009.8 1610.9L1002.8 1616.6L1005.1 1625.4L997.5 1620.5L989.8 1625.4L992.2 1616.6L985.1 1610.9L994.2 1610.3Z" stroke="#00ff00" stroke-width="2.5" fill="#fff" stroke-linejoin="miter"/>
<path d="M1048.4 1601.9L1051.6 1610.3L1060.7 1610.9L1053.7 1616.6L1056 1625.4L1048.4 1620.5L1040.7 1625.4L1043 1616.6L1036 1610.9L1045.1 1610.3Z" stroke="#00ff00" stroke-width="2.5" fill="#fff" stroke-linejoin="miter"/>
<path d="M1099.2 1601.9L1102.5 1610.3L1111.6 1610.9L1104.5 1616.6L1106.9 1625.4L1099.2 1620.5L1091.6 1625.4L1093.9 1616.6L1086.9 1610.9L1095.9 1610.3Z" stroke="#00ff00" stroke-width="2.5" fill="#fff" stroke-linejoin="miter"/>
<path d="M1150.1 1601.9L1153.4 1610.3L1162.4 1610.9L1155.4 1616.6L1157.7 1625.4L1150.1 1620.5L1142.4 1625.4L1144.8 1616.6L1137.7 1610.9L1146.8 1610.3Z" stroke="#00ff00" stroke-width="2.5" fill="#fff" stroke-linejoin="miter"/>
<path d="M1200.9 2001.1L1204.2 2009.6L1213.3 2010.1L1206.3 2015.9L1208.6 2024.6L1200.9 2019.7L1193.3 2024.6L1195.6 2015.9L1188.6 2010.1L1197.7 2009.6Z" stroke="#00ff00" stroke-width="2.5" fill="#fff" stroke-linejoin="miter"/>
<path d="M1251.8 2619.3L1255.1 2627.8L1264.2 2628.3L1257.1 2634L1259.5 2642.8L1251.8 2637.9L1244.2 2642.8L1246.5 2634L1239.5 2628.3L1248.5 2627.8Z" stroke="#00ff00" stroke-width="2.5" fill="#fff" stroke-linejoin="miter"/>
<path d="M1302.7 2698.7L1306 2707.2L1315 2707.7L1308 2713.4L1310.3 2722.2L1302.7 2717.3L1295 2722.2L1297.4 2713.4L1290.3 2707.7L1299.4 2707.2Z" stroke="#00ff00" stroke-width="2.5" fill="#fff" stroke-linejoin="miter"/>
<path d="M1353.5 2698.7L1356.8 2707.2L1365.9 2707.7L1358.9 2713.4L1361.2 2722.2L1353.5 2717.3L1345.9 2722.2L1348.2 2713.4L1341.2 2707.7L1350.3 2707.2Z" stroke="#00ff00" stroke-width="2.5" fill="#fff" stroke-linejoin="miter"/>
<path d="M1404.4 2698.7L1407.7 2707.2L1416.8 2707.7L1409.7 2713.4L1412.1 2722.2L1404.4 2717.3L1396.8 2722.2L1399.1 2713.4L1392 2707.7L1401.1 2707.2Z" stroke="#00ff00" stroke-width="2.5" fill="#fff" stroke-linejoin="miter"/>
<path d="M1455.3 2698.7L1458.6 2707.2L1467.6 2707.7L1460.6 2713.4L1462.9 2722.2L1455.3 2717.3L1447.6 2722.2L1450 2713.4L1442.9 2707.7L1452 2707.2Z" stroke="#00ff00" stroke-width="2.5" fill="#fff" stroke-linejoin="miter"/>
<path d="M1506.1 2698.7L1509.4 2707.2L1518.5 2707.7L1511.5 2713.4L1513.8 2722.2L1506.1 2717.3L1498.5 2722.2L1500.8 2713.4L1493.8 2707.7L1502.9 2707.2Z" stroke="#00ff00" stroke-width="2.5" fill="#fff" stroke-linejoin="miter"/>
<path d="M1557 2698.7L1560.3 2707.2L1569.4 2707.7L1562.3 2713.4L1564.6 2722.2L1557 2717.3L1549.4 2722.2L1551.7 2713.4L1544.6 2707.7L1553.7 2707.2Z" stroke="#00ff00" stroke-width="2.5" fill="#fff" stroke-linejoin="miter"/>
<path d="M1607.9 2698.7L1611.2 2707.2L1620.2 2707.7L1613.2 2713.4L1615.5 2722.2L1607.9 2717.3L1600.2 2722.2L1602.5 2713.4L1595.5 2707.7L1604.6 2707.2Z" stroke="#00ff00" stroke-width="2.5" fill="#fff" stroke-linejoin="miter"/>
<path d="M1658.7 2698.7L1662 2707.2L1671.1 2707.7L1664.1 2713.4L1666.4 2722.2L1658.7 2717.3L1651.1 2722.2L1653.4 2713.4L1646.4 2707.7L1655.4 2707.2Z" stroke="#00ff00" stroke-width="2.5" fill="#fff" stroke-linejoin="miter"/>
<path d="M1709.6 2698.7L1712.9 2707.2L1722 2707.7L1714.9 2713.4L1717.2 2722.2L1709.6 2717.3L1702 2722.2L1704.3 2713.4L1697.2 2707.7L1706.3 2707.2Z" stroke="#00ff00" stroke-width="2.5" fill="#fff" stroke-linejoin="miter"/>
<path d="M1760.5 2698.7L1763.8 2707.2L1772.8 2707.7L1765.8 2713.4L1768.1 2722.2L1760.5 2717.3L1752.8 2722.2L1755.1 2713.4L1748.1 2707.7L1757.2 2707.2Z" stroke="#00ff00" stroke-width="2.5" fill="#fff" stroke-linejoin="miter"/>
<path d="M1811.3 2698.7L1814.6 2707.2L1823.7 2707.7L1816.7 2713.4L1819 2722.2L1811.3 2717.3L1803.7 2722.2L1806 2713.4L1799 2707.7L1808 2707.2Z" stroke="#00ff00" stroke-width="2.5" fill="#fff" stroke-linejoin="miter"/>
<path d="M1862.2 2698.7L1865.5 2707.2L1874.6 2707.7L1867.5 2713.4L1869.8 2722.2L1862.2 2717.3L1854.6 2722.2L1856.9 2713.4L1849.8 2707.7L1858.9 2707.2Z" stroke="#00ff00" stroke-width="2.5" fill="#fff" stroke-linejoin="miter"/>
<path d="M1913.1 2698.7L1916.4 2707.2L1925.4 2707.7L1918.4 2713.4L1920.7 2722.2L1913.1 2717.3L1905.4 2722.2L1907.7 2713.4L1900.7 2707.7L1909.8 2707.2Z" stroke="#00ff00" stroke-width="2.5" fill="#fff" stroke-linejoin="miter"/>
<path d="M1963.9 2698.7L1967.2 2707.2L1976.3 2707.7L1969.3 2713.4L1971.6 2722.2L1963.9 2717.3L1956.3 2722.2L1958.6 2713.4L1951.6 2707.7L1960.6 2707.2Z" stroke="#00ff00" stroke-width="2.5" fill="#fff" stroke-linejoin="miter"/>
<path d="M2014.8 2698.7L2018.1 2707.2L2027.2 2707.7L2020.1 2713.4L2022.4 2722.2L2014.8 2717.3L2007.2 2722.2L2009.5 2713.4L2002.4 2707.7L2011.5 2707.2Z" stroke="#00ff00" stroke-width="2.5" fill="#fff" stroke-linejoin="miter"/>
<path d="M2065.7 2698.7L2069 2707.2L2078 2707.7L2071 2713.4L2073.3 2722.2L2065.7 2717.3L2058 2722.2L2060.3 2713.4L2053.3 2707.7L2062.4 2707.2Z" stroke="#00ff00" stroke-width="2.5" fill="#fff" stroke-linejoin="miter"/>
<path d="M2116.5 2698.7L2119.8 2707.2L2128.9 2707.7L2121.9 2713.4L2124.2 2722.2L2116.5 2717.3L2108.9 2722.2L2111.2 2713.4L2104.2 2707.7L2113.2 2707.2Z" stroke="#00ff00" stroke-width="2.5" fill="#fff" stroke-linejoin="miter"/>
</g>
<text transform="translate(112.5 0) rotate(-90)" font-size="61" word-spacing="6.5" letter-spacing="0.27"><tspan x="-2637" y="0">Displacement of suction valve </tspan><tspan font-size="83" x="-1852.7" y="4.5">[</tspan><tspan x="-1827.3" y="0">m</tspan><tspan font-size="83" x="-1781.8" y="4.5">]</tspan></text>
<text x="232" y="1540.5" font-size="61">x10<tspan font-size="36" dy="-33" dx="0.5">-3</tspan></text>
<rect x="1415.5" y="1635.5" width="670" height="451" fill="#fff" stroke="#3a3a3a" stroke-width="2.6"/>
<line x1="1430.9" y1="1677.1" x2="1452.2" y2="1677.1" stroke="#3a3a3a" stroke-width="4.8"/>
<line x1="1472.1" y1="1677.1" x2="1533.6" y2="1677.1" stroke="#3a3a3a" stroke-width="4.8"/>
<line x1="1554" y1="1677.1" x2="1571.6" y2="1677.1" stroke="#3a3a3a" stroke-width="4.8"/>
<path d="M1488.3 1664.1L1514.3 1690.1M1488.3 1690.1L1514.3 1664.1" stroke="#3a3a3a" stroke-width="2.9" fill="none"/>
<text x="1583" y="1697.6" font-size="61" text-anchor="start">Lumped_ ideal gas</text>
<line x1="1430.9" y1="1752.4" x2="1571.6" y2="1752.4" stroke="#ff1a1a" stroke-width="4.8"/>
<circle cx="1501.3" cy="1752.4" r="9.8" stroke="#ff1a1a" stroke-width="3.2" fill="#fff"/>
<text x="1583" y="1772.9" font-size="61" text-anchor="start">Lumped_real gas</text>
<line x1="1430.9" y1="1827.8" x2="1452.2" y2="1827.8" stroke="#1414ff" stroke-width="4.8"/>
<line x1="1472.1" y1="1827.8" x2="1533.6" y2="1827.8" stroke="#1414ff" stroke-width="4.8"/>
<line x1="1554" y1="1827.8" x2="1571.6" y2="1827.8" stroke="#1414ff" stroke-width="4.8"/>
<path d="M1501.3 1813.1L1513.8 1835.1L1488.8 1835.1Z" stroke="#1414ff" stroke-width="3.2" fill="#fff" stroke-linejoin="miter"/>
<text x="1583" y="1848.3" font-size="61" text-anchor="start">Hybrid_ideal gas_R</text>
<line x1="1430.9" y1="1903.1" x2="1571.6" y2="1903.1" stroke="#e8553d" stroke-width="4.8"/>
<path d="M1501.3 1917.8L1513.8 1895.8L1488.8 1895.8Z" stroke="#e8553d" stroke-width="3.2" fill="#fff" stroke-linejoin="miter"/>
<text x="1583" y="1923.6" font-size="61" text-anchor="start">Hybrid_real gas_R</text>
<line x1="1430.9" y1="1978.5" x2="1452.2" y2="1978.5" stroke="#ff2cff" stroke-width="4.8"/>
<line x1="1472.1" y1="1978.5" x2="1478.9" y2="1978.5" stroke="#ff2cff" stroke-width="4.8"/>
<line x1="1523.6" y1="1978.5" x2="1544.9" y2="1978.5" stroke="#ff2cff" stroke-width="4.8"/>
<line x1="1564.8" y1="1978.5" x2="1571.6" y2="1978.5" stroke="#ff2cff" stroke-width="4.8"/>
<rect x="1492" y="1969.2" width="18.6" height="18.6" stroke="#ff2cff" stroke-width="3.2" fill="#fff"/>
<text x="1583" y="1999" font-size="61" text-anchor="start">Hybrid_ideal gas</text>
<line x1="1430.9" y1="2053.8" x2="1477.1" y2="2053.8" stroke="#00ff00" stroke-width="4.8"/>
<line x1="1523.6" y1="2053.8" x2="1571.6" y2="2053.8" stroke="#00ff00" stroke-width="4.8"/>
<path d="M1501.3 2042L1504.6 2050.5L1513.7 2051L1506.6 2056.8L1508.9 2065.6L1501.3 2060.6L1493.7 2065.6L1496 2056.8L1488.9 2051L1498 2050.5Z" stroke="#00ff00" stroke-width="2.5" fill="#fff" stroke-linejoin="miter"/>
<text x="1583" y="2074.3" font-size="61" text-anchor="start">Hybrid_real gas</text>
<text x="50" y="2858" font-size="65" text-anchor="start">(b)</text>
</g>
<g id="panel-c">
<line x1="234.5" y1="3986.5" x2="2122.3" y2="3986.5" stroke="#5c5c5c" stroke-width="2.7" stroke-dasharray="9 6.73"/>
<line x1="234.5" y1="3129.3" x2="2122.3" y2="3129.3" stroke="#5c5c5c" stroke-width="2.7" stroke-dasharray="9 6.73"/>
<line x1="1178.4" y1="2986.5" x2="1178.4" y2="4129.3" stroke="#222" stroke-width="2.4" stroke-dasharray="9.6 6.13"/>
<rect x="234.5" y="2986.5" width="1887.8" height="1142.8" fill="none" stroke="#000" stroke-width="3.5"/>
<line x1="391.8" y1="4129.3" x2="391.8" y2="4116.8" stroke="#000" stroke-width="3"/>
<line x1="549.1" y1="4129.3" x2="549.1" y2="4104.3" stroke="#000" stroke-width="3"/>
<line x1="706.5" y1="4129.3" x2="706.5" y2="4116.8" stroke="#000" stroke-width="3"/>
<line x1="863.8" y1="4129.3" x2="863.8" y2="4104.3" stroke="#000" stroke-width="3"/>
<line x1="1021.1" y1="4129.3" x2="1021.1" y2="4116.8" stroke="#000" stroke-width="3"/>
<line x1="1178.4" y1="4129.3" x2="1178.4" y2="4104.3" stroke="#000" stroke-width="3"/>
<line x1="1335.7" y1="4129.3" x2="1335.7" y2="4116.8" stroke="#000" stroke-width="3"/>
<line x1="1493" y1="4129.3" x2="1493" y2="4104.3" stroke="#000" stroke-width="3"/>
<line x1="1650.4" y1="4129.3" x2="1650.4" y2="4116.8" stroke="#000" stroke-width="3"/>
<line x1="1807.7" y1="4129.3" x2="1807.7" y2="4104.3" stroke="#000" stroke-width="3"/>
<line x1="1965" y1="4129.3" x2="1965" y2="4116.8" stroke="#000" stroke-width="3"/>
<text x="234.5" y="4202.3" font-size="61" text-anchor="middle">0</text>
<text x="549.1" y="4202.3" font-size="61" text-anchor="middle">60</text>
<text x="863.8" y="4202.3" font-size="61" text-anchor="middle">120</text>
<text x="1178.4" y="4202.3" font-size="61" text-anchor="middle">180</text>
<text x="1493" y="4202.3" font-size="61" text-anchor="middle">240</text>
<text x="1807.7" y="4202.3" font-size="61" text-anchor="middle">300</text>
<text x="2122.3" y="4202.3" font-size="61" text-anchor="middle">360</text>
<text x="1176.6" y="4262" font-size="61" text-anchor="middle">Crank angle [deg]</text>
<line x1="234.5" y1="3843.6" x2="259.5" y2="3843.6" stroke="#000" stroke-width="3"/>
<line x1="234.5" y1="3557.9" x2="259.5" y2="3557.9" stroke="#000" stroke-width="3"/>
<line x1="234.5" y1="3272.2" x2="259.5" y2="3272.2" stroke="#000" stroke-width="3"/>
<line x1="234.5" y1="3986.5" x2="247" y2="3986.5" stroke="#000" stroke-width="3"/>
<line x1="234.5" y1="3700.8" x2="247" y2="3700.8" stroke="#000" stroke-width="3"/>
<line x1="234.5" y1="3415.1" x2="247" y2="3415.1" stroke="#000" stroke-width="3"/>
<line x1="234.5" y1="3129.3" x2="247" y2="3129.3" stroke="#000" stroke-width="3"/>
<text x="208" y="4146.3" font-size="61" text-anchor="end">2</text>
<text x="208" y="3860.6" font-size="61" text-anchor="end">4</text>
<text x="208" y="3574.9" font-size="61" text-anchor="end">6</text>
<text x="208" y="3289.2" font-size="61" text-anchor="end">8</text>
<text x="208" y="3003.5" font-size="61" text-anchor="end">10</text>
<g clip-path="url(#clipc)">
<path d="M234.5 3129.3L235.8 3129.8L241.1 3134L246.3 3141.5L248.2 3144.7M250.2 3148.5L251.5 3151.1L256.8 3162.2L259.2 3167.6M265.3 3186.6L266 3189.1L270.9 3209.5M275.2 3229L276.5 3235.1L279.5 3249.6M281.7 3260.3L283 3266.7L285.8 3280.9M289.3 3300.6L289.6 3301.9L292.9 3321.3M296.1 3341.1L297.4 3349.5L300.6 3370.2M303.7 3390L304 3392.2L306.8 3410.8M309.7 3430.6L310.5 3436.2L312.8 3451.3M313.2 3453.8L314.5 3462.6L316.3 3474.6M319.3 3494.4L319.7 3497.3L322.5 3515.1M325.6 3534.9L326.3 3538.9L331.5 3570.1L332.4 3575.3M335.7 3595L336.8 3601.3L339.2 3615.8M342.5 3635.5L343.3 3640.3L348.1 3668.8M351.5 3688.5L352.5 3694.1L355.1 3709.2M358.6 3728.9L359 3731.2L364.2 3759.1M367.9 3778.7L368.2 3780.2L372 3799.3M376.1 3818.6L377.4 3824.7L380.4 3839.1M384.5 3858.7L385.3 3862.4L388.8 3879.3M391.8 3893.9L393.1 3900.1L396.2 3914.4M400.6 3934L401 3935.7L405.5 3954.4M407.5 3962.1L408.9 3966.9L413.5 3982.2M420.9 4000.8L422 4002.8L427.2 4011.1L432.5 4017.5L437.4 4019.3M439 4019.2L440.3 4019L445.6 4018L450.8 4016.6L456.1 4014.9L461.3 4013.4L466.5 4012.4L471.8 4012.2L477 4012.3L482.3 4012.5L487.5 4012.9L492.8 4013.3L498 4013.8L503.2 4014.3L508.5 4014.8L513.7 4015.3L519 4015.7L524.2 4016.1L529.5 4016.4L534.7 4016.8L540 4017.2L545.2 4017.6L550.4 4018L555.7 4018.3L560.9 4018.7L566.2 4019.1L571.4 4019.6L576.7 4020.1L581.9 4020.6L587.2 4021.1L592.4 4021.6L597.6 4022L602.9 4022.3L608.1 4022.5L613.4 4022.6L618.6 4022.6L623.9 4022.6L629.1 4022.6L634.3 4022.6L639.6 4022.6L644.8 4022.6L650.1 4022.6L655.3 4022.6L660.6 4022.6L665.8 4022.6L671.1 4022.5L676.3 4022.5L681.5 4022.4L686.8 4022.3L692 4022.2L697.3 4022.1L702.5 4022L707.8 4021.8L713 4021.7L718.2 4021.5L723.5 4021.3L728.7 4021.1L734 4020.9L739.2 4020.7L744.5 4020.4L749.7 4020.2L755 4020L760.2 4019.7L765.4 4019.5L770.7 4019.3L775.9 4019L781.2 4018.8L786.4 4018.5L791.7 4018.2L796.9 4017.9L802.2 4017.5L807.4 4017.1L812.6 4016.6L817.9 4016L823.1 4015.4L828.4 4014.8L833.6 4014.1L838.9 4013.5L844.1 4012.9L849.3 4012.3L854.6 4011.7L859.8 4011.2L865.1 4010.6L870.3 4010.1L875.6 4009.5L880.8 4009L886.1 4008.4L891.3 4007.9L896.5 4007.3L901.8 4006.7L907 4006.2L912.3 4005.6L917.5 4005L922.8 4004.5L928 4003.9L933.2 4003.4L938.5 4002.8L943.7 4002.3L949 4001.8L954.2 4001.3L959.5 4000.9L964.7 4000.4L970 3999.9L975.2 3999.5L980.4 3999L985.7 3998.5L990.9 3998L996.2 3997.5L1001.4 3997L1006.7 3996.5L1011.9 3996L1017.2 3995.4L1022.4 3994.9L1027.6 3994.4L1032.9 3993.9L1038.1 3993.5L1043.4 3993L1048.6 3992.6L1053.9 3992.2L1059.1 3991.8L1064.3 3991.4L1069.6 3991L1074.8 3990.7L1080.1 3990.3L1085.3 3989.9L1090.6 3989.6L1095.8 3989.2L1101.1 3988.8L1106.3 3988.4L1111.5 3988.1L1116.8 3987.8L1122 3987.5L1127.3 3987.3L1132.5 3987.1L1137.8 3987L1143 3986.9L1148.2 3986.9L1153.5 3986.8L1158.7 3986.7L1164 3986.7L1169.2 3986.6L1174.5 3986.5L1179.7 3986.4L1185 3986.3L1190.2 3986.2L1195.4 3986.1L1200.7 3986L1205.9 3985.8L1211.2 3985.6L1216.4 3985.4L1221.7 3985.2L1226.9 3984.9L1232.1 3984.6L1237.4 3984L1242.6 3983.3L1247.9 3982.5L1253.1 3981.6L1258.4 3980.7L1263.6 3979.7L1268.9 3978.6L1274.1 3977.6L1279.3 3976.5L1284.6 3975.3L1289.8 3974L1295.1 3972.6L1300.3 3971.1L1305.6 3969.6L1310.8 3968L1316.1 3966.3L1321.3 3964.6L1326.5 3962.7L1331.8 3960.8L1337 3958.7L1342.3 3956.5L1347.5 3954.2L1352.8 3951.9L1358 3949.4L1363.2 3946.9L1368.5 3944.4L1373.7 3941.7L1379 3939L1384.2 3936.2L1389.5 3933.2L1394.7 3930.2L1400 3927.1L1405.2 3923.8L1410.4 3920.5L1415.7 3917L1420.9 3913.4L1426.2 3909.6L1431.4 3905.6L1436.7 3901.6L1441.9 3897.3L1447.1 3893L1452.4 3888.6L1457.6 3884.1L1462.9 3879.6L1468.1 3875L1473.4 3870.4L1478.6 3865.6L1483.9 3860.7L1489.1 3855.7L1492.5 3852.3M1493 3851.8L1494.3 3850.5L1499.6 3845.1L1504.8 3839.4L1507.4 3836.5M1508.8 3835L1510.1 3833.5L1515.3 3827.2L1520.6 3820.5L1521.9 3818.7M1524.5 3815.2L1525.8 3813.4L1531.1 3806.1L1536.3 3798.6L1536.6 3798.1M1540.2 3792.8L1541.5 3790.8L1546.8 3783L1551.9 3775.3M1556 3769.3L1557.3 3767.4L1562.5 3759.6L1567.8 3752M1571.7 3746.2L1573 3744.2L1578.2 3736.3L1583.2 3728.6M1587.4 3721.8L1588.7 3719.7L1594 3710.7L1597.9 3703.6M1603.2 3693.6L1604.5 3691L1609.7 3679.9L1612.1 3674.6M1618.9 3658.4L1620.2 3655.2L1625.4 3641.7L1626.5 3638.9M1633.5 3620.1L1634.6 3617L1639.9 3602.3L1641.7 3597.2M1648.2 3578.3L1649 3576L1654.3 3560.8L1657.2 3552.3M1663.5 3533.4L1664.8 3529.6L1670 3513.4L1672.5 3505.6M1678.3 3486.5L1679.2 3483.6L1684.4 3465.6L1687.5 3454.5M1692.7 3435.2L1693.6 3431.9L1698.9 3411.1L1702.2 3396M1706.2 3376.4L1706.7 3374L1710.5 3355.9M1713.3 3343.1L1714.6 3337L1717.7 3322.6M1721.9 3303.1L1722.5 3300.4L1726.3 3282.5M1729 3269.8L1730.3 3263.7L1733.4 3249.3M1737.7 3229.8L1738.2 3227.7L1742.2 3209.2M1744.7 3196.5L1746.1 3189.5L1748.4 3175.8M1751.8 3156.1L1752.6 3151.6L1755.4 3135.4M1758.9 3115.7L1759.2 3114.1L1764.1 3086M1767.2 3066.2L1768.3 3057.9L1770.5 3045.5M1776.2 3037.9L1777.5 3037.2L1782.8 3035.1L1788 3034L1793.2 3033.6L1798.5 3033.4L1803.7 3033.3L1809 3033.2L1814.2 3033.1L1819.5 3033L1824.7 3033L1830 3032.9L1835.2 3032.9L1840.4 3032.9L1845.7 3033.5L1850.9 3034.6L1856.2 3036.2L1861.4 3038.1L1866.7 3040.4L1871.9 3042.8L1877.1 3045.3L1882.4 3047.7L1887.6 3049.9L1892.9 3052.3L1898.1 3054.8L1903.4 3057.5L1908.6 3060.4L1913.9 3063.2L1919.1 3066.1L1924.3 3068.9L1929.6 3071.7L1934.8 3074.3L1940.1 3076.8L1945.3 3079.3L1950.6 3081.8L1955.8 3084.3L1961.1 3086.7L1966.3 3089.1L1971.5 3091.5L1976.8 3093.8L1982 3096.1L1987.3 3098.3L1992.5 3100.6L1997.8 3102.8L2003 3105.1L2008.2 3107.2L2013.5 3109.3L2018.7 3111.2L2024 3113.1L2029.2 3114.8L2034.5 3116.4L2039.7 3118.1L2045 3119.7L2050.2 3121.3L2055.4 3122.8L2060.7 3124.1L2065.9 3125.2L2071.2 3126L2076.4 3126.6L2081.7 3127.1L2086.9 3127.6L2092.1 3128L2097.4 3128.4L2102.6 3128.7L2107.9 3129L2113.1 3129.2L2118.4 3129.3L2122.3 3129.4" stroke="#3a3a3a" stroke-width="4.6" fill="none" stroke-linejoin="round"/>
<path d="M221.5 3116.3L247.5 3142.3M221.5 3142.3L247.5 3116.3" stroke="#3a3a3a" stroke-width="2.9" fill="none"/>
<path d="M268.7 3247.3L294.7 3273.3M268.7 3273.3L294.7 3247.3" stroke="#3a3a3a" stroke-width="2.9" fill="none"/>
<path d="M315.9 3541.6L341.9 3567.6M315.9 3567.6L341.9 3541.6" stroke="#3a3a3a" stroke-width="2.9" fill="none"/>
<path d="M363.1 3805.6L389.1 3831.6M363.1 3831.6L389.1 3805.6" stroke="#3a3a3a" stroke-width="2.9" fill="none"/>
<path d="M410.3 3992L436.3 4018M410.3 4018L436.3 3992" stroke="#3a3a3a" stroke-width="2.9" fill="none"/>
<path d="M457.5 3999.2L483.5 4025.2M457.5 4025.2L483.5 3999.2" stroke="#3a3a3a" stroke-width="2.9" fill="none"/>
<path d="M504.7 4002.6L530.7 4028.6M504.7 4028.6L530.7 4002.6" stroke="#3a3a3a" stroke-width="2.9" fill="none"/>
<path d="M551.9 4006L577.9 4032M551.9 4032L577.9 4006" stroke="#3a3a3a" stroke-width="2.9" fill="none"/>
<path d="M599.1 4009.6L625.1 4035.6M599.1 4035.6L625.1 4009.6" stroke="#3a3a3a" stroke-width="2.9" fill="none"/>
<path d="M646.3 4009.6L672.3 4035.6M646.3 4035.6L672.3 4009.6" stroke="#3a3a3a" stroke-width="2.9" fill="none"/>
<path d="M693.5 4008.9L719.5 4034.9M693.5 4034.9L719.5 4008.9" stroke="#3a3a3a" stroke-width="2.9" fill="none"/>
<path d="M740.6 4007L766.6 4033M740.6 4033L766.6 4007" stroke="#3a3a3a" stroke-width="2.9" fill="none"/>
<path d="M787.8 4004.6L813.8 4030.6M787.8 4030.6L813.8 4004.6" stroke="#3a3a3a" stroke-width="2.9" fill="none"/>
<path d="M835 3999.4L861 4025.4M835 4025.4L861 3999.4" stroke="#3a3a3a" stroke-width="2.9" fill="none"/>
<path d="M882.2 3994.4L908.2 4020.4M882.2 4020.4L908.2 3994.4" stroke="#3a3a3a" stroke-width="2.9" fill="none"/>
<path d="M929.4 3989.4L955.4 4015.4M929.4 4015.4L955.4 3989.4" stroke="#3a3a3a" stroke-width="2.9" fill="none"/>
<path d="M976.6 3985.2L1002.6 4011.2M976.6 4011.2L1002.6 3985.2" stroke="#3a3a3a" stroke-width="2.9" fill="none"/>
<path d="M1023.8 3980.6L1049.8 4006.6M1023.8 4006.6L1049.8 3980.6" stroke="#3a3a3a" stroke-width="2.9" fill="none"/>
<path d="M1071 3977L1097 4003M1071 4003L1097 3977" stroke="#3a3a3a" stroke-width="2.9" fill="none"/>
<path d="M1118.2 3974.2L1144.2 4000.2M1118.2 4000.2L1144.2 3974.2" stroke="#3a3a3a" stroke-width="2.9" fill="none"/>
<path d="M1165.4 3973.5L1191.4 3999.5M1165.4 3999.5L1191.4 3973.5" stroke="#3a3a3a" stroke-width="2.9" fill="none"/>
<path d="M1212.6 3972L1238.6 3998M1212.6 3998L1238.6 3972" stroke="#3a3a3a" stroke-width="2.9" fill="none"/>
<path d="M1259.8 3964.9L1285.8 3990.9M1259.8 3990.9L1285.8 3964.9" stroke="#3a3a3a" stroke-width="2.9" fill="none"/>
<path d="M1307 3952L1333 3978M1307 3978L1333 3952" stroke="#3a3a3a" stroke-width="2.9" fill="none"/>
<path d="M1354.2 3932L1380.2 3958M1354.2 3958L1380.2 3932" stroke="#3a3a3a" stroke-width="2.9" fill="none"/>
<path d="M1401.4 3904.9L1427.4 3930.9M1401.4 3930.9L1427.4 3904.9" stroke="#3a3a3a" stroke-width="2.9" fill="none"/>
<path d="M1448.6 3867.7L1474.6 3893.7M1448.6 3893.7L1474.6 3867.7" stroke="#3a3a3a" stroke-width="2.9" fill="none"/>
<path d="M1495.8 3822L1521.8 3848M1495.8 3848L1521.8 3822" stroke="#3a3a3a" stroke-width="2.9" fill="none"/>
<path d="M1543 3756.3L1569 3782.3M1543 3782.3L1569 3756.3" stroke="#3a3a3a" stroke-width="2.9" fill="none"/>
<path d="M1590.2 3680.6L1616.2 3706.6M1590.2 3706.6L1616.2 3680.6" stroke="#3a3a3a" stroke-width="2.9" fill="none"/>
<path d="M1637.4 3559.2L1663.4 3585.2M1637.4 3585.2L1663.4 3559.2" stroke="#3a3a3a" stroke-width="2.9" fill="none"/>
<path d="M1684.5 3403.5L1710.5 3429.5M1684.5 3429.5L1710.5 3403.5" stroke="#3a3a3a" stroke-width="2.9" fill="none"/>
<path d="M1731.7 3183.5L1757.7 3209.5M1731.7 3209.5L1757.7 3183.5" stroke="#3a3a3a" stroke-width="2.9" fill="none"/>
<path d="M1778.9 3020.6L1804.9 3046.6M1778.9 3046.6L1804.9 3020.6" stroke="#3a3a3a" stroke-width="2.9" fill="none"/>
<path d="M1826.1 3019.9L1852.1 3045.9M1826.1 3045.9L1852.1 3019.9" stroke="#3a3a3a" stroke-width="2.9" fill="none"/>
<path d="M1873.3 3036.4L1899.3 3062.4M1873.3 3062.4L1899.3 3036.4" stroke="#3a3a3a" stroke-width="2.9" fill="none"/>
<path d="M1920.5 3060.6L1946.5 3086.6M1920.5 3086.6L1946.5 3060.6" stroke="#3a3a3a" stroke-width="2.9" fill="none"/>
<path d="M1967.7 3082.5L1993.7 3108.5M1967.7 3108.5L1993.7 3082.5" stroke="#3a3a3a" stroke-width="2.9" fill="none"/>
<path d="M2014.9 3101.4L2040.9 3127.4M2014.9 3127.4L2040.9 3101.4" stroke="#3a3a3a" stroke-width="2.9" fill="none"/>
<path d="M2062.1 3113.5L2088.1 3139.5M2062.1 3139.5L2088.1 3113.5" stroke="#3a3a3a" stroke-width="2.9" fill="none"/>
<path d="M2109.3 3116.4L2135.3 3142.4M2109.3 3142.4L2135.3 3116.4" stroke="#3a3a3a" stroke-width="2.9" fill="none"/>
<path d="M234.5 3129.3L237.1 3130.5L239.7 3132.8L242.4 3135.9L245 3139.8L247.6 3144.4L250.2 3149.6L252.9 3155.2L255.5 3161.1L258.1 3167.2L260.7 3174.3L263.3 3183L266 3193.1L268.6 3204.4L271.2 3216.6L273.8 3229.5L276.5 3242.7L279.1 3256.2L281.7 3269.6L284.3 3283.4L286.9 3297.9L289.6 3313.3L292.2 3329.3L294.8 3345.8L297.4 3362.9L300 3380.3L302.7 3398L305.3 3416L307.9 3434L310.5 3452.1L313.2 3470.2L315.8 3488.1L318.4 3505.7L321 3523.1L323.6 3540L326.3 3556.4L328.9 3572.2L331.5 3587.7L334.1 3603.1L336.8 3618.5L339.4 3633.8L342 3649L344.6 3664.1L347.2 3679.1L349.9 3693.9L352.5 3708.6L355.1 3723.1L357.7 3737.4L360.4 3751.4L363 3765.3L365.6 3778.9L368.2 3792.2L370.8 3805.2L373.5 3817.9L376.1 3830.3L378.7 3842.9L381.3 3856L384 3869.6L386.6 3883.4L389.2 3897.4L391.8 3911.4L394.4 3925.1L397.1 3938.6L399.7 3951.6L402.3 3963.9L404.9 3975.5L407.5 3986.1L410.2 3995.7L412.8 4004L415.4 4010.9L418 4016.3L420.7 4020L423.3 4021.9L425.9 4022.7L428.5 4023.3L431.1 4023.6L433.8 4023.5L436.4 4023.1L439 4022.6L441.6 4021.8L444.3 4021L446.9 4020.1L449.5 4019.1L452.1 4018.1L454.7 4017.1L457.4 4016.2L460 4015.3L462.6 4014.6L465.2 4014.1L467.9 4013.7L470.5 4013.6L473.1 4013.6L475.7 4013.7L478.3 4013.8L481 4013.9L483.6 4014L486.2 4014.2L488.8 4014.4L491.5 4014.6L494.1 4014.9L496.7 4015.1L499.3 4015.4L501.9 4015.6L504.6 4015.9L507.2 4016.1L509.8 4016.4L512.4 4016.6L515 4016.8L517.7 4017L520.3 4017.2L522.9 4017.4L525.5 4017.6L528.2 4017.8L530.8 4018L533.4 4018.2L536 4018.3L538.6 4018.5L541.3 4018.7L543.9 4018.9L546.5 4019.1L549.1 4019.3L551.8 4019.5L554.4 4019.7L557 4019.9L559.6 4020.1L562.2 4020.3L564.9 4020.4L567.5 4020.7L570.1 4020.9L572.7 4021.1L575.4 4021.4L578 4021.6L580.6 4021.9L583.2 4022.2L585.8 4022.4L588.5 4022.7L591.1 4022.9L593.7 4023.1L596.3 4023.4L599 4023.5L601.6 4023.7L604.2 4023.8L606.8 4023.9L609.4 4024L612.1 4024L614.7 4024L617.3 4024L619.9 4024L622.5 4024L625.2 4024L627.8 4024L630.4 4024L633 4024L635.7 4024L638.3 4024L640.9 4024L643.5 4024L646.1 4024L648.8 4024L651.4 4024L654 4024L656.6 4024L659.3 4024L661.9 4024L664.5 4024L667.1 4024L669.7 4024L672.4 4023.9L675 4023.9L677.6 4023.9L680.2 4023.8L682.9 4023.8L685.5 4023.7L688.1 4023.7L690.7 4023.6L693.3 4023.6L696 4023.5L698.6 4023.5L701.2 4023.4L703.8 4023.4L706.5 4023.3L709.1 4023.2L711.7 4023.2L714.3 4023.1L716.9 4023L719.6 4022.9L722.2 4022.8L724.8 4022.7L727.4 4022.6L730 4022.5L732.7 4022.4L735.3 4022.3L737.9 4022.2L740.5 4022L743.2 4021.9L745.8 4021.8L748.4 4021.7L751 4021.6L753.6 4021.4L756.3 4021.3L758.9 4021.2L761.5 4021.1L764.1 4021L766.8 4020.9L769.4 4020.8L772 4020.6L774.6 4020.5L777.2 4020.4L779.9 4020.3L782.5 4020.1L785.1 4020L787.7 4019.8L790.4 4019.7L793 4019.5L795.6 4019.4L798.2 4019.2L800.8 4019L803.5 4018.8L806.1 4018.6L808.7 4018.4L811.3 4018.1L813.9 4017.9L816.6 4017.6L819.2 4017.3L821.8 4017L824.4 4016.7L827.1 4016.4L829.7 4016L832.3 4015.7L834.9 4015.4L837.5 4015.1L840.2 4014.8L842.8 4014.5L845.4 4014.2L848 4013.9L850.7 4013.6L853.3 4013.3L855.9 4013L858.5 4012.8L861.1 4012.5L863.8 4012.2L866.4 4011.9L869 4011.6L871.6 4011.4L874.3 4011.1L876.9 4010.8L879.5 4010.5L882.1 4010.3L884.7 4010L887.4 4009.7L890 4009.4L892.6 4009.2L895.2 4008.9L897.9 4008.6L900.5 4008.3L903.1 4008L905.7 4007.8L908.3 4007.5L911 4007.2L913.6 4006.9L916.2 4006.6L918.8 4006.3L921.4 4006L924.1 4005.8L926.7 4005.5L929.3 4005.2L931.9 4004.9L934.6 4004.7L937.2 4004.4L939.8 4004.1L942.4 4003.9L945 4003.6L947.7 4003.4L950.3 4003.1L952.9 4002.9L955.5 4002.6L958.2 4002.4L960.8 4002.2L963.4 4001.9L966 4001.7L968.6 4001.5L971.3 4001.2L973.9 4001L976.5 4000.8L979.1 4000.6L981.8 4000.3L984.4 4000.1L987 3999.8L989.6 3999.6L992.2 3999.3L994.9 3999.1L997.5 3998.8L1000.1 3998.6L1002.7 3998.3L1005.4 3998.1L1008 3997.8L1010.6 3997.5L1013.2 3997.3L1015.8 3997L1018.5 3996.8L1021.1 3996.5L1023.7 3996.2L1026.3 3996L1028.9 3995.7L1031.6 3995.5L1034.2 3995.3L1036.8 3995L1039.4 3994.8L1042.1 3994.6L1044.7 3994.3L1047.3 3994.1L1049.9 3993.9L1052.5 3993.7L1055.2 3993.4L1057.8 3993.2L1060.4 3993L1063 3992.8L1065.7 3992.6L1068.3 3992.4L1070.9 3992.2L1073.5 3992L1076.1 3991.8L1078.8 3991.6L1081.4 3991.4L1084 3991.2L1086.6 3991L1089.3 3990.8L1091.9 3990.6L1094.5 3990.3L1097.1 3990.1L1099.7 3989.9L1102.4 3989.7L1105 3989.5L1107.6 3989.3L1110.2 3989.1L1112.9 3988.9L1115.5 3988.8L1118.1 3988.6L1120.7 3988.4L1123.3 3988.3L1126 3988.1L1128.6 3988L1131.2 3987.9L1133.8 3987.8L1136.4 3987.7L1139.1 3987.6L1141.7 3987.5L1144.3 3987.4L1146.9 3987.3L1149.6 3987.3L1152.2 3987.2L1154.8 3987.1L1157.4 3987.1L1160 3987L1162.7 3986.9L1165.3 3986.8L1167.9 3986.8L1170.5 3986.7L1173.2 3986.6L1175.8 3986.5L1178.4 3986.5L1181 3986.4L1183.6 3986.3L1186.3 3986.2L1188.9 3986.1L1191.5 3986L1194.1 3985.9L1196.8 3985.8L1199.4 3985.7L1202 3985.7L1204.6 3985.6L1207.2 3985.4L1209.9 3985.3L1212.5 3985.2L1215.1 3985.1L1217.7 3984.9L1220.4 3984.8L1223 3984.6L1225.6 3984.5L1228.2 3984.2L1230.8 3984L1233.5 3983.6L1236.1 3983.3L1238.7 3982.9L1241.3 3982.4L1243.9 3981.9L1246.6 3981.4L1249.2 3980.8L1251.8 3980.2L1254.4 3979.6L1257.1 3979L1259.7 3978.4L1262.3 3977.7L1264.9 3977.1L1267.5 3976.4L1270.2 3975.8L1272.8 3975.2L1275.4 3974.5L1278 3973.9L1280.7 3973.2L1283.3 3972.4L1285.9 3971.7L1288.5 3970.9L1291.1 3970.2L1293.8 3969.4L1296.4 3968.6L1299 3967.7L1301.6 3966.9L1304.3 3966L1306.9 3965.1L1309.5 3964.2L1312.1 3963.3L1314.7 3962.4L1317.4 3961.4L1320 3960.5L1322.6 3959.5L1325.2 3958.5L1327.9 3957.4L1330.5 3956.4L1333.1 3955.3L1335.7 3954.2L1338.3 3953.1L1341 3951.9L1343.6 3950.7L1346.2 3949.6L1348.8 3948.3L1351.4 3947.1L1354.1 3945.9L1356.7 3944.6L1359.3 3943.3L1361.9 3942L1364.6 3940.7L1367.2 3939.3L1369.8 3937.9L1372.4 3936.5L1375 3935.1L1377.7 3933.7L1380.3 3932.2L1382.9 3930.7L1385.5 3929.1L1388.2 3927.6L1390.8 3926L1393.4 3924.4L1396 3922.7L1398.6 3921.1L1401.3 3919.4L1403.9 3917.7L1406.5 3916L1409.1 3914.3L1411.8 3912.5L1414.4 3910.7L1417 3908.9L1419.6 3907.1L1422.2 3905.3L1424.9 3903.4L1427.5 3901.5L1430.1 3899.6L1432.7 3897.7L1435.4 3895.7L1438 3893.7L1440.6 3891.7L1443.2 3889.6L1445.8 3887.5L1448.5 3885.4L1451.1 3883.2L1453.7 3881.1L1456.3 3878.8L1458.9 3876.6L1461.6 3874.3L1464.2 3872L1466.8 3869.7L1469.4 3867.3L1472.1 3864.9L1474.7 3862.4L1477.3 3859.9L1479.9 3857.4L1482.5 3854.9L1485.2 3852.2L1487.8 3849.6L1490.4 3846.9L1493 3844.1L1495.7 3841.3L1498.3 3838.5L1500.9 3835.6L1503.5 3832.6L1506.1 3829.6L1508.8 3826.5L1511.4 3823.3L1514 3820L1516.6 3816.7L1519.3 3813.2L1521.9 3809.7L1524.5 3806.1L1527.1 3802.4L1529.7 3798.6L1532.4 3794.8L1535 3790.9L1537.6 3787L1540.2 3783L1542.9 3779L1545.5 3774.9L1548.1 3770.8L1550.7 3766.7L1553.3 3762.5L1556 3758.3L1558.6 3754.1L1561.2 3749.9L1563.8 3745.6L1566.4 3741.3L1569.1 3737L1571.7 3732.6L1574.3 3728.1L1576.9 3723.6L1579.6 3719L1582.2 3714.3L1584.8 3709.6L1587.4 3704.8L1590 3699.8L1592.7 3694.8L1595.3 3689.7L1597.9 3684.4L1600.5 3679.1L1603.2 3673.6L1605.8 3668L1608.4 3662.2L1611 3656.3L1613.6 3650.2L1616.3 3644L1618.9 3637.7L1621.5 3631.2L1624.1 3624.6L1626.8 3617.9L1629.4 3611L1632 3604L1634.6 3597L1637.2 3589.8L1639.9 3582.4L1642.5 3575L1645.1 3567.5L1647.7 3559.9L1650.4 3552.2L1653 3544.4L1655.6 3536.5L1658.2 3528.6L1660.8 3520.5L1663.5 3512.3L1666.1 3504L1668.7 3495.5L1671.3 3486.8L1673.9 3478L1676.6 3469L1679.2 3459.7L1681.8 3450.3L1684.4 3440.6L1687.1 3430.6L1689.7 3420.4L1692.3 3409.9L1694.9 3399L1697.5 3387.9L1700.2 3375.8L1702.8 3362.4L1705.4 3348.4L1708 3334.4L1710.7 3320.8L1713.3 3307.4L1715.9 3294L1718.5 3280.6L1721.1 3267.2L1723.8 3253.8L1726.4 3240.4L1729 3227L1731.6 3213.6L1734.3 3200.2L1736.9 3186.8L1739.5 3173.5L1742.1 3160.1L1744.7 3146.5L1747.4 3132.6L1750 3118.7L1752.6 3104.8L1755.2 3090.9L1757.8 3076.9L1760.5 3062.6L1763.1 3045.9L1765.7 3039.8L1768.3 3037.6L1771 3035.6L1773.6 3034L1776.2 3032.7L1778.8 3031.6L1781.4 3030.7L1784.1 3030.1L1786.7 3029.7L1789.3 3029.4L1791.9 3029.4L1794.6 3029.4L1797.2 3029.4L1799.8 3029.5L1802.4 3029.6L1805 3029.7L1807.7 3029.8L1810.3 3030L1812.9 3030.2L1815.5 3030.4L1818.2 3030.6L1820.8 3030.9L1823.4 3031.1L1826 3031.4L1828.6 3031.7L1831.3 3032L1833.9 3032.3L1836.5 3032.6L1839.1 3032.9L1841.8 3033.3L1844.4 3033.8L1847 3034.4L1849.6 3035L1852.2 3035.8L1854.9 3036.6L1857.5 3037.5L1860.1 3038.4L1862.7 3039.4L1865.3 3040.5L1868 3041.5L1870.6 3042.6L1873.2 3043.7L1875.8 3044.9L1878.5 3046L1881.1 3047.1L1883.7 3048.3L1886.3 3049.4L1888.9 3050.5L1891.6 3051.7L1894.2 3052.9L1896.8 3054.2L1899.4 3055.5L1902.1 3056.8L1904.7 3058.2L1907.3 3059.6L1909.9 3061.1L1912.5 3062.5L1915.2 3063.9L1917.8 3065.4L1920.4 3066.8L1923 3068.2L1925.7 3069.6L1928.3 3071L1930.9 3072.3L1933.5 3073.6L1936.1 3074.9L1938.8 3076.2L1941.4 3077.5L1944 3078.7L1946.6 3080L1949.3 3081.2L1951.9 3082.5L1954.5 3083.7L1957.1 3084.9L1959.7 3086.1L1962.4 3087.3L1965 3088.5L1967.6 3089.7L1970.2 3090.9L1972.8 3092.1L1975.5 3093.2L1978.1 3094.4L1980.7 3095.5L1983.3 3096.6L1986 3097.8L1988.6 3098.9L1991.2 3100L1993.8 3101.2L1996.4 3102.3L1999.1 3103.4L2001.7 3104.5L2004.3 3105.6L2006.9 3106.7L2009.6 3107.7L2012.2 3108.8L2014.8 3109.8L2017.4 3110.8L2020 3111.7L2022.7 3112.6L2025.3 3113.5L2027.9 3114.4L2030.5 3115.2L2033.2 3116L2035.8 3116.9L2038.4 3117.7L2041 3118.5L2043.6 3119.3L2046.3 3120.1L2048.9 3120.9L2051.5 3121.7L2054.1 3122.4L2056.8 3123.1L2059.4 3123.8L2062 3124.4L2064.6 3124.9L2067.2 3125.4L2069.9 3125.8L2072.5 3126.2L2075.1 3126.5L2077.7 3126.7L2080.3 3127L2083 3127.2L2085.6 3127.5L2088.2 3127.7L2090.8 3127.9L2093.5 3128.1L2096.1 3128.3L2098.7 3128.5L2101.3 3128.7L2103.9 3128.8L2106.6 3129L2109.2 3129.1L2111.8 3129.2L2114.4 3129.2L2117.1 3129.3L2119.7 3129.3L2122.3 3129.4" stroke="#ff1a1a" stroke-width="4.6" fill="none" stroke-linejoin="round"/>
<circle cx="234.5" cy="3129.3" r="9.8" stroke="#ff1a1a" stroke-width="3.2" fill="#fff"/>
<circle cx="281.7" cy="3269.6" r="9.8" stroke="#ff1a1a" stroke-width="3.2" fill="#fff"/>
<circle cx="328.9" cy="3572.2" r="9.8" stroke="#ff1a1a" stroke-width="3.2" fill="#fff"/>
<circle cx="376.1" cy="3830.3" r="9.8" stroke="#ff1a1a" stroke-width="3.2" fill="#fff"/>
<circle cx="423.3" cy="4021.9" r="9.8" stroke="#ff1a1a" stroke-width="3.2" fill="#fff"/>
<circle cx="470.5" cy="4013.6" r="9.8" stroke="#ff1a1a" stroke-width="3.2" fill="#fff"/>
<circle cx="517.7" cy="4017" r="9.8" stroke="#ff1a1a" stroke-width="3.2" fill="#fff"/>
<circle cx="564.9" cy="4020.4" r="9.8" stroke="#ff1a1a" stroke-width="3.2" fill="#fff"/>
<circle cx="612.1" cy="4024" r="9.8" stroke="#ff1a1a" stroke-width="3.2" fill="#fff"/>
<circle cx="659.3" cy="4024" r="9.8" stroke="#ff1a1a" stroke-width="3.2" fill="#fff"/>
<circle cx="706.5" cy="4023.3" r="9.8" stroke="#ff1a1a" stroke-width="3.2" fill="#fff"/>
<circle cx="753.6" cy="4021.4" r="9.8" stroke="#ff1a1a" stroke-width="3.2" fill="#fff"/>
<circle cx="800.8" cy="4019" r="9.8" stroke="#ff1a1a" stroke-width="3.2" fill="#fff"/>
<circle cx="848" cy="4013.9" r="9.8" stroke="#ff1a1a" stroke-width="3.2" fill="#fff"/>
<circle cx="895.2" cy="4008.9" r="9.8" stroke="#ff1a1a" stroke-width="3.2" fill="#fff"/>
<circle cx="942.4" cy="4003.9" r="9.8" stroke="#ff1a1a" stroke-width="3.2" fill="#fff"/>
<circle cx="989.6" cy="3999.6" r="9.8" stroke="#ff1a1a" stroke-width="3.2" fill="#fff"/>
<circle cx="1036.8" cy="3995" r="9.8" stroke="#ff1a1a" stroke-width="3.2" fill="#fff"/>
<circle cx="1084" cy="3991.2" r="9.8" stroke="#ff1a1a" stroke-width="3.2" fill="#fff"/>
<circle cx="1131.2" cy="3987.9" r="9.8" stroke="#ff1a1a" stroke-width="3.2" fill="#fff"/>
<circle cx="1178.4" cy="3986.5" r="9.8" stroke="#ff1a1a" stroke-width="3.2" fill="#fff"/>
<circle cx="1225.6" cy="3984.5" r="9.8" stroke="#ff1a1a" stroke-width="3.2" fill="#fff"/>
<circle cx="1272.8" cy="3975.2" r="9.8" stroke="#ff1a1a" stroke-width="3.2" fill="#fff"/>
<circle cx="1320" cy="3960.5" r="9.8" stroke="#ff1a1a" stroke-width="3.2" fill="#fff"/>
<circle cx="1367.2" cy="3939.3" r="9.8" stroke="#ff1a1a" stroke-width="3.2" fill="#fff"/>
<circle cx="1414.4" cy="3910.7" r="9.8" stroke="#ff1a1a" stroke-width="3.2" fill="#fff"/>
<circle cx="1461.6" cy="3874.3" r="9.8" stroke="#ff1a1a" stroke-width="3.2" fill="#fff"/>
<circle cx="1508.8" cy="3826.5" r="9.8" stroke="#ff1a1a" stroke-width="3.2" fill="#fff"/>
<circle cx="1556" cy="3758.3" r="9.8" stroke="#ff1a1a" stroke-width="3.2" fill="#fff"/>
<circle cx="1603.2" cy="3673.6" r="9.8" stroke="#ff1a1a" stroke-width="3.2" fill="#fff"/>
<circle cx="1650.4" cy="3552.2" r="9.8" stroke="#ff1a1a" stroke-width="3.2" fill="#fff"/>
<circle cx="1697.5" cy="3387.9" r="9.8" stroke="#ff1a1a" stroke-width="3.2" fill="#fff"/>
<circle cx="1744.7" cy="3146.5" r="9.8" stroke="#ff1a1a" stroke-width="3.2" fill="#fff"/>
<circle cx="1791.9" cy="3029.4" r="9.8" stroke="#ff1a1a" stroke-width="3.2" fill="#fff"/>
<circle cx="1839.1" cy="3032.9" r="9.8" stroke="#ff1a1a" stroke-width="3.2" fill="#fff"/>
<circle cx="1886.3" cy="3049.4" r="9.8" stroke="#ff1a1a" stroke-width="3.2" fill="#fff"/>
<circle cx="1933.5" cy="3073.6" r="9.8" stroke="#ff1a1a" stroke-width="3.2" fill="#fff"/>
<circle cx="1980.7" cy="3095.5" r="9.8" stroke="#ff1a1a" stroke-width="3.2" fill="#fff"/>
<circle cx="2027.9" cy="3114.4" r="9.8" stroke="#ff1a1a" stroke-width="3.2" fill="#fff"/>
<circle cx="2075.1" cy="3126.5" r="9.8" stroke="#ff1a1a" stroke-width="3.2" fill="#fff"/>
<circle cx="2122.3" cy="3129.4" r="9.8" stroke="#ff1a1a" stroke-width="3.2" fill="#fff"/>
<path d="M234.5 3129.3L235.8 3130.1L241.1 3135.2L246.3 3143.5L247.4 3145.5M251.5 3153.9L252.9 3157L258.1 3169.3L259.6 3173.3M265.3 3192.4L266 3195L271.2 3217.8L272.9 3225.7M276.8 3245.3L277.8 3250.2L280.8 3265.9M284.6 3285.6L285.6 3290.7L289.3 3310M292.7 3329.7L293.5 3334L296.2 3350.4M299.4 3370.1L300 3374L305.3 3407.8L305.5 3409.3M308.5 3429L309.2 3433.8L311.6 3449.8M314.6 3469.6L315.8 3477.7L317.7 3490.4M319.3 3501L319.7 3503.9L322.4 3521.8M325.4 3541.6L326.3 3546.9L328.7 3562.3M331.9 3582L332.8 3587.8L335.3 3602.8M336.2 3607.9L336.8 3610.9L339.8 3628.6M343.2 3648.3L343.3 3648.9L346.8 3669M350.2 3688.7L351.2 3694.6L356.4 3724.6L356.8 3726.8M360.3 3746.5L361.7 3754L364.1 3767.2M367.7 3786.8L368.2 3789.5L373.5 3816.5L374.2 3820.1M378.2 3839.7L378.7 3842.1L382.7 3860.2M387.1 3879.3L387.9 3882.6L391.9 3899.8M396.3 3919.3L397.1 3922.8L400.8 3939.8M404.1 3954.2L404.9 3958L408.8 3974.6M413.5 3994L414.1 3996.2L419.1 4014.3M421 4020.4L422 4023.4L427.2 4037.1L428.6 4040M438 4050.7L439 4050.9L444.3 4051.8L449.5 4052.4L454.7 4052.9L460 4053.3L465.2 4053.6L470.5 4054L475.7 4054.3L481 4054.8L486.2 4055.4L491.5 4056.2L496.7 4057.2L501.9 4058.6L507.2 4060.1L512.4 4061.7L517.7 4063.5L522.9 4065.3L528.2 4067.1L533.4 4068.8L538.6 4070.4L543.9 4071.9L549.1 4073.5L554.4 4075.1L559.6 4076.6L564.9 4078.2L570.1 4079.7L575.4 4081.1L580.6 4082.5L585.8 4083.9L591.1 4085.1L596.3 4086.3L601.6 4087.5L606.8 4088.7L612.1 4089.8L617.3 4090.8L622.5 4091.9L627.8 4092.8L633 4093.7L638.3 4094.6L643.5 4095.3L648.8 4096L654 4096.7L659.3 4097.3L664.5 4097.9L669.7 4098.5L675 4099L680.2 4099.6L685.5 4100.1L690.7 4100.6L696 4101.1L701.2 4101.6L706.5 4102.1L711.7 4102.6L716.9 4103.1L722.2 4103.6L727.4 4104L732.7 4104.4L737.9 4104.8L743.2 4105L748.4 4105.2L753.6 4105.5L758.9 4105.7L764.1 4105.8L769.4 4106L774.6 4106.2L779.9 4106.3L785.1 4106.4L790.4 4106.4L795.6 4106.4L800.8 4106.4L806.1 4106.3L811.3 4106.1L816.6 4105.9L821.8 4105.7L827.1 4105.4L832.3 4105.1L837.5 4104.8L842.8 4104.4L848 4104L853.3 4103.4L858.5 4102.5L863.8 4101.5L869 4100.4L874.3 4099.2L879.5 4098.1L884.7 4096.9L890 4095.9L895.2 4095.1L900.5 4094.4L905.7 4093.8L911 4093.2L916.2 4092.7L921.4 4092.2L926.7 4091.6L931.9 4091.1L937.2 4090.5L942.4 4089.9L947.7 4089.2L952.9 4088.3L958.2 4087.5L963.4 4086.5L968.6 4085.5L973.9 4084.4L979.1 4083.3L984.4 4082.2L989.6 4081L994.9 4079.9L1000.1 4078.7L1005.4 4077.5L1010.6 4076.3L1015.8 4075L1021.1 4073.7L1026.3 4072.3L1031.6 4071L1036.8 4069.6L1042.1 4068.2L1047.3 4066.7L1052.5 4065.3L1057.8 4063.8L1063 4062.3L1068.3 4060.8L1073.5 4059.3L1078.8 4057.7L1084 4056.1L1089.3 4054.5L1094.5 4052.9L1099.7 4051.3L1105 4049.7L1110.2 4048.1L1115.5 4046.5L1120.7 4044.8L1126 4043.2L1131.2 4041.5L1136.4 4039.8L1141.7 4038L1146.9 4036.2L1152.2 4034.2L1157.4 4032.2L1162.7 4030.1L1167.9 4028L1173.2 4025.8L1178.4 4023.5L1183.6 4021.2L1188.9 4018.9L1194.1 4016.6L1199.4 4014.3L1204.6 4012L1209.9 4009.7L1215.1 4007.4L1220.4 4005L1225.6 4002.7L1230.8 4000.3L1236.1 3997.9L1241.3 3995.5L1246.6 3993.1L1251.8 3990.7L1257.1 3988.3L1262.3 3985.9L1267.5 3983.4L1272.8 3980.9L1278 3978.4L1283.3 3976L1288.5 3973.5L1293.8 3971.1L1299 3968.8L1304.3 3966.5L1309.5 3964.3L1314.7 3962.1L1320 3960L1325.2 3958L1330.5 3955.9L1335.7 3953.8L1341 3951.7L1346.2 3949.6L1351.4 3947.4L1356.7 3945.1L1361.9 3942.8L1367.2 3940.5L1372.4 3938.2L1377.7 3935.8L1382.9 3933.4L1388.2 3930.9L1393.4 3928.2L1398.6 3925.4L1403.9 3922.5L1409.1 3919.3L1414.4 3915.9L1419.6 3912.2L1424.9 3908.4L1430.1 3904.4L1435.4 3900.2L1438 3898.1M1438.3 3897.8L1439.3 3897.1L1444.5 3892.7L1449.8 3888.3L1454.4 3884.3M1455.3 3883.6L1456.3 3882.7L1461.6 3878.1L1466.8 3873.4L1470.9 3869.6M1472.2 3868.4L1473.4 3867.3L1478.6 3862.3L1483.9 3857.1L1487.3 3853.7M1489.2 3851.7L1490.4 3850.5L1495.7 3845L1500.9 3839.4L1503.6 3836.5M1506.1 3833.6L1507.5 3832.1L1512.7 3826.2L1517.9 3820L1519.9 3817.7M1523.1 3813.8L1524.5 3812.1L1529.7 3805.5L1535 3798.8L1536.1 3797.3M1540.1 3792L1541.5 3790L1546.8 3782.8L1552.2 3774.9M1557 3767.9L1558.6 3765.5L1563.8 3757.3L1568.2 3750.1M1574 3740.5L1574.3 3739.9L1579.6 3730.7L1584.3 3722.2M1590.9 3709.8L1591.4 3709L1596.6 3698.9L1600.6 3691.1M1607.9 3676.5L1608.4 3675.4L1613.6 3664.7L1617.1 3657.6M1624.8 3641.1L1625.4 3639.8L1630.7 3628.2L1633.4 3621.9M1641.3 3603.5L1642.5 3600.6L1647.7 3587.5L1649.6 3582.8M1656.5 3564L1656.9 3563L1662.1 3548.1L1665.5 3538M1671.7 3519L1672.6 3515.8L1677.9 3498.5L1681.6 3485.6M1687 3466.4L1688.4 3461.2L1692.4 3446.1M1692.7 3445L1693.6 3441.3L1697.8 3424.7M1702.6 3405.2L1702.8 3404.3L1707.4 3384.8M1709.6 3375L1710.7 3370.3L1713.8 3354.5M1717.5 3334.8L1718.5 3329.4L1721.3 3314.1M1725.1 3294.5L1726.4 3287.9L1730.5 3266.3M1734.3 3246.7L1735.6 3240.2L1738.3 3226.1M1742.1 3206.4L1743.4 3199.3L1747.5 3178.2M1751.4 3158.6L1752.6 3152.5L1755.5 3138M1759.2 3118.4L1760.5 3110.8L1763.7 3090M1766.7 3070.3L1767 3068.3L1769.7 3049.5M1777.4 3036.9L1778.8 3036.4L1784.1 3034.8L1789.3 3033.7L1794.6 3033L1799.8 3032.5L1805 3032.3L1810.3 3032.2L1815.5 3032.3L1820.8 3032.7L1826 3033.3L1831.3 3034.1L1836.5 3035.1L1841.8 3036.2L1847 3037.4L1852.2 3038.7L1857.5 3040L1862.7 3041.3L1868 3042.8L1873.2 3044.6L1878.5 3046.7L1883.7 3048.9L1888.9 3051.3L1894.2 3053.8L1899.4 3056.3L1904.7 3058.8L1909.9 3061.3L1915.2 3063.7L1920.4 3066.2L1925.7 3068.8L1930.9 3071.5L1936.1 3074.2L1941.4 3076.8L1946.6 3079.5L1951.9 3082.2L1957.1 3084.7L1962.4 3087.2L1967.6 3089.6L1972.8 3092L1978.1 3094.4L1983.3 3096.7L1988.6 3099L1993.8 3101.3L1999.1 3103.5L2004.3 3105.5L2009.6 3107.5L2014.8 3109.4L2020 3111.1L2025.3 3112.9L2030.5 3114.5L2035.8 3116.2L2041 3117.8L2046.3 3119.2L2051.5 3120.6L2056.8 3121.9L2062 3123L2067.2 3123.9L2072.5 3124.7L2077.7 3125.5L2083 3126.2L2088.2 3126.8L2093.5 3127.4L2098.7 3128L2103.9 3128.6L2109.2 3129.2L2114.4 3129.8L2119.7 3130.5L2122.3 3130.8" stroke="#1414ff" stroke-width="4.6" fill="none" stroke-linejoin="round"/>
<path d="M234.5 3114.7L247 3136.7L222 3136.7Z" stroke="#1414ff" stroke-width="3.2" fill="#fff" stroke-linejoin="miter"/>
<path d="M285.4 3274.7L297.9 3296.7L272.9 3296.7Z" stroke="#1414ff" stroke-width="3.2" fill="#fff" stroke-linejoin="miter"/>
<path d="M336.2 3593.2L348.7 3615.2L323.7 3615.2Z" stroke="#1414ff" stroke-width="3.2" fill="#fff" stroke-linejoin="miter"/>
<path d="M387.1 3864.6L399.6 3886.6L374.6 3886.6Z" stroke="#1414ff" stroke-width="3.2" fill="#fff" stroke-linejoin="miter"/>
<path d="M438 4036.1L450.5 4058.1L425.5 4058.1Z" stroke="#1414ff" stroke-width="3.2" fill="#fff" stroke-linejoin="miter"/>
<path d="M488.8 4041.1L501.3 4063.1L476.3 4063.1Z" stroke="#1414ff" stroke-width="3.2" fill="#fff" stroke-linejoin="miter"/>
<path d="M539.7 4056.1L552.2 4078.1L527.2 4078.1Z" stroke="#1414ff" stroke-width="3.2" fill="#fff" stroke-linejoin="miter"/>
<path d="M590.6 4070.3L603.1 4092.3L578.1 4092.3Z" stroke="#1414ff" stroke-width="3.2" fill="#fff" stroke-linejoin="miter"/>
<path d="M641.4 4080.3L653.9 4102.3L628.9 4102.3Z" stroke="#1414ff" stroke-width="3.2" fill="#fff" stroke-linejoin="miter"/>
<path d="M692.3 4086.1L704.8 4108.1L679.8 4108.1Z" stroke="#1414ff" stroke-width="3.2" fill="#fff" stroke-linejoin="miter"/>
<path d="M743.2 4090.3L755.7 4112.3L730.7 4112.3Z" stroke="#1414ff" stroke-width="3.2" fill="#fff" stroke-linejoin="miter"/>
<path d="M794 4091.8L806.5 4113.8L781.5 4113.8Z" stroke="#1414ff" stroke-width="3.2" fill="#fff" stroke-linejoin="miter"/>
<path d="M844.9 4089.6L857.4 4111.6L832.4 4111.6Z" stroke="#1414ff" stroke-width="3.2" fill="#fff" stroke-linejoin="miter"/>
<path d="M895.8 4080.3L908.3 4102.3L883.3 4102.3Z" stroke="#1414ff" stroke-width="3.2" fill="#fff" stroke-linejoin="miter"/>
<path d="M946.6 4074.6L959.1 4096.6L934.1 4096.6Z" stroke="#1414ff" stroke-width="3.2" fill="#fff" stroke-linejoin="miter"/>
<path d="M997.5 4064.6L1010 4086.6L985 4086.6Z" stroke="#1414ff" stroke-width="3.2" fill="#fff" stroke-linejoin="miter"/>
<path d="M1048.4 4051.8L1060.9 4073.8L1035.9 4073.8Z" stroke="#1414ff" stroke-width="3.2" fill="#fff" stroke-linejoin="miter"/>
<path d="M1099.2 4036.8L1111.7 4058.8L1086.7 4058.8Z" stroke="#1414ff" stroke-width="3.2" fill="#fff" stroke-linejoin="miter"/>
<path d="M1150.1 4020.4L1162.6 4042.4L1137.6 4042.4Z" stroke="#1414ff" stroke-width="3.2" fill="#fff" stroke-linejoin="miter"/>
<path d="M1200.9 3998.9L1213.4 4020.9L1188.4 4020.9Z" stroke="#1414ff" stroke-width="3.2" fill="#fff" stroke-linejoin="miter"/>
<path d="M1251.8 3976.1L1264.3 3998.1L1239.3 3998.1Z" stroke="#1414ff" stroke-width="3.2" fill="#fff" stroke-linejoin="miter"/>
<path d="M1302.7 3952.5L1315.2 3974.5L1290.2 3974.5Z" stroke="#1414ff" stroke-width="3.2" fill="#fff" stroke-linejoin="miter"/>
<path d="M1353.5 3931.8L1366 3953.8L1341 3953.8Z" stroke="#1414ff" stroke-width="3.2" fill="#fff" stroke-linejoin="miter"/>
<path d="M1404.4 3907.5L1416.9 3929.5L1391.9 3929.5Z" stroke="#1414ff" stroke-width="3.2" fill="#fff" stroke-linejoin="miter"/>
<path d="M1455.3 3868.9L1467.8 3890.9L1442.8 3890.9Z" stroke="#1414ff" stroke-width="3.2" fill="#fff" stroke-linejoin="miter"/>
<path d="M1506.1 3818.9L1518.6 3840.9L1493.6 3840.9Z" stroke="#1414ff" stroke-width="3.2" fill="#fff" stroke-linejoin="miter"/>
<path d="M1557 3753.2L1569.5 3775.2L1544.5 3775.2Z" stroke="#1414ff" stroke-width="3.2" fill="#fff" stroke-linejoin="miter"/>
<path d="M1607.9 3661.8L1620.4 3683.8L1595.4 3683.8Z" stroke="#1414ff" stroke-width="3.2" fill="#fff" stroke-linejoin="miter"/>
<path d="M1658.7 3543.2L1671.2 3565.2L1646.2 3565.2Z" stroke="#1414ff" stroke-width="3.2" fill="#fff" stroke-linejoin="miter"/>
<path d="M1709.6 3360.4L1722.1 3382.4L1697.1 3382.4Z" stroke="#1414ff" stroke-width="3.2" fill="#fff" stroke-linejoin="miter"/>
<path d="M1760.5 3096.1L1773 3118.1L1748 3118.1Z" stroke="#1414ff" stroke-width="3.2" fill="#fff" stroke-linejoin="miter"/>
<path d="M1811.3 3017.5L1823.8 3039.5L1798.8 3039.5Z" stroke="#1414ff" stroke-width="3.2" fill="#fff" stroke-linejoin="miter"/>
<path d="M1862.2 3026.5L1874.7 3048.5L1849.7 3048.5Z" stroke="#1414ff" stroke-width="3.2" fill="#fff" stroke-linejoin="miter"/>
<path d="M1913.1 3048.1L1925.6 3070.1L1900.6 3070.1Z" stroke="#1414ff" stroke-width="3.2" fill="#fff" stroke-linejoin="miter"/>
<path d="M1963.9 3073.3L1976.4 3095.3L1951.4 3095.3Z" stroke="#1414ff" stroke-width="3.2" fill="#fff" stroke-linejoin="miter"/>
<path d="M2014.8 3094.7L2027.3 3116.7L2002.3 3116.7Z" stroke="#1414ff" stroke-width="3.2" fill="#fff" stroke-linejoin="miter"/>
<path d="M2065.7 3109L2078.2 3131L2053.2 3131Z" stroke="#1414ff" stroke-width="3.2" fill="#fff" stroke-linejoin="miter"/>
<path d="M2116.5 3115.4L2129 3137.4L2104 3137.4Z" stroke="#1414ff" stroke-width="3.2" fill="#fff" stroke-linejoin="miter"/>
<path d="M234.5 3129.3L237.1 3130.8L239.7 3133.3L242.4 3136.7L245 3140.9L247.6 3145.7L250.2 3151.1L252.9 3156.9L255.5 3163L258.1 3169.3L260.7 3176.6L263.3 3185.5L266 3195.7L268.6 3207L271.2 3219.4L273.8 3232.4L276.5 3246L279.1 3260L281.7 3274.1L284.3 3288.1L286.9 3302L289.6 3316.7L292.2 3332L294.8 3347.9L297.4 3364.4L300 3381.4L302.7 3398.7L305.3 3416.4L307.9 3434.3L310.5 3452.3L313.2 3470.5L315.8 3488.7L318.4 3506.7L321 3524.7L323.6 3542.4L326.3 3559.9L328.9 3577L331.5 3593.6L334.1 3609.7L336.8 3625.2L339.4 3640.7L342 3656.2L344.6 3671.7L347.2 3687.2L349.9 3702.8L352.5 3718.2L355.1 3733.5L357.7 3748.6L360.4 3763.5L363 3778.2L365.6 3792.6L368.2 3806.6L370.8 3820.2L373.5 3833.4L376.1 3846.2L378.7 3858.4L381.3 3870.1L384 3881.2L386.6 3891.6L389.2 3901.7L391.8 3912L394.4 3922.5L397.1 3933.1L399.7 3943.7L402.3 3954.2L404.9 3964.5L407.5 3974.6L410.2 3984.4L412.8 3993.7L415.4 4002.4L418 4010.6L420.7 4018.1L423.3 4024.8L425.9 4030.6L428.5 4035.4L431.1 4039.2L433.8 4041.9L436.4 4043.3L439 4043.6L441.6 4043.6L444.3 4043.5L446.9 4043.5L449.5 4043.4L452.1 4043.3L454.7 4043.2L457.4 4043.1L460 4043L462.6 4042.9L465.2 4042.8L467.9 4042.7L470.5 4042.6L473.1 4042.5L475.7 4042.4L478.3 4042.3L481 4042.3L483.6 4042.2L486.2 4042.2L488.8 4042.2L491.5 4042.3L494.1 4042.6L496.7 4043L499.3 4043.7L501.9 4044.5L504.6 4045.4L507.2 4046.4L509.8 4047.5L512.4 4048.6L515 4049.9L517.7 4051.1L520.3 4052.4L522.9 4053.7L525.5 4054.9L528.2 4056.2L530.8 4057.4L533.4 4058.5L536 4059.5L538.6 4060.4L541.3 4061.2L543.9 4062L546.5 4062.8L549.1 4063.6L551.8 4064.3L554.4 4065.1L557 4065.8L559.6 4066.5L562.2 4067.2L564.9 4067.9L567.5 4068.6L570.1 4069.3L572.7 4070L575.4 4070.6L578 4071.3L580.6 4071.9L583.2 4072.6L585.8 4073.2L588.5 4073.8L591.1 4074.4L593.7 4075L596.3 4075.7L599 4076.3L601.6 4076.9L604.2 4077.5L606.8 4078.1L609.4 4078.6L612.1 4079.2L614.7 4079.8L617.3 4080.4L619.9 4080.9L622.5 4081.5L625.2 4082L627.8 4082.5L630.4 4083L633 4083.5L635.7 4084L638.3 4084.5L640.9 4084.9L643.5 4085.4L646.1 4085.8L648.8 4086.2L651.4 4086.6L654 4087L656.6 4087.4L659.3 4087.8L661.9 4088.1L664.5 4088.5L667.1 4088.8L669.7 4089.2L672.4 4089.5L675 4089.9L677.6 4090.2L680.2 4090.6L682.9 4090.9L685.5 4091.3L688.1 4091.6L690.7 4092L693.3 4092.3L696 4092.7L698.6 4093L701.2 4093.4L703.8 4093.8L706.5 4094.1L709.1 4094.5L711.7 4094.9L714.3 4095.3L716.9 4095.6L719.6 4096L722.2 4096.3L724.8 4096.7L727.4 4097L730 4097.3L732.7 4097.6L735.3 4097.9L737.9 4098.1L740.5 4098.4L743.2 4098.6L745.8 4098.8L748.4 4099L751 4099.2L753.6 4099.4L756.3 4099.6L758.9 4099.7L761.5 4099.9L764.1 4100.1L766.8 4100.3L769.4 4100.4L772 4100.6L774.6 4100.7L777.2 4100.8L779.9 4101L782.5 4101.1L785.1 4101.2L787.7 4101.3L790.4 4101.3L793 4101.4L795.6 4101.5L798.2 4101.5L800.8 4101.6L803.5 4101.6L806.1 4101.7L808.7 4101.8L811.3 4101.8L813.9 4101.9L816.6 4101.9L819.2 4101.9L821.8 4102L824.4 4102L827.1 4102L829.7 4102.1L832.3 4102.1L834.9 4102.1L837.5 4102.1L840.2 4102.2L842.8 4102.2L845.4 4102.2L848 4102.1L850.7 4102.1L853.3 4102.1L855.9 4102L858.5 4101.9L861.1 4101.8L863.8 4101.7L866.4 4101.6L869 4101.5L871.6 4101.4L874.3 4101.2L876.9 4101.1L879.5 4101L882.1 4100.8L884.7 4100.7L887.4 4100.5L890 4100.3L892.6 4100.2L895.2 4100L897.9 4099.9L900.5 4099.7L903.1 4099.6L905.7 4099.4L908.3 4099.2L911 4099L913.6 4098.9L916.2 4098.7L918.8 4098.4L921.4 4098.2L924.1 4098L926.7 4097.8L929.3 4097.5L931.9 4097.3L934.6 4097L937.2 4096.8L939.8 4096.5L942.4 4096.2L945 4095.9L947.7 4095.6L950.3 4095.3L952.9 4094.9L955.5 4094.5L958.2 4094.1L960.8 4093.7L963.4 4093.2L966 4092.7L968.6 4092.3L971.3 4091.8L973.9 4091.2L976.5 4090.7L979.1 4090.2L981.8 4089.6L984.4 4089.1L987 4088.6L989.6 4088L992.2 4087.5L994.9 4087L997.5 4086.4L1000.1 4085.9L1002.7 4085.4L1005.4 4084.9L1008 4084.4L1010.6 4083.9L1013.2 4083.3L1015.8 4082.8L1018.5 4082.3L1021.1 4081.7L1023.7 4081.2L1026.3 4080.6L1028.9 4080.1L1031.6 4079.5L1034.2 4078.9L1036.8 4078.4L1039.4 4077.8L1042.1 4077.2L1044.7 4076.6L1047.3 4076L1049.9 4075.4L1052.5 4074.7L1055.2 4074.1L1057.8 4073.4L1060.4 4072.8L1063 4072.1L1065.7 4071.4L1068.3 4070.7L1070.9 4070L1073.5 4069.3L1076.1 4068.6L1078.8 4067.9L1081.4 4067.2L1084 4066.5L1086.6 4065.7L1089.3 4065L1091.9 4064.3L1094.5 4063.5L1097.1 4062.8L1099.7 4062L1102.4 4061.3L1105 4060.5L1107.6 4059.8L1110.2 4059L1112.9 4058.2L1115.5 4057.5L1118.1 4056.7L1120.7 4055.9L1123.3 4055.1L1126 4054.4L1128.6 4053.5L1131.2 4052.7L1133.8 4051.9L1136.4 4051.1L1139.1 4050.2L1141.7 4049.3L1144.3 4048.5L1146.9 4047.6L1149.6 4046.6L1152.2 4045.7L1154.8 4044.7L1157.4 4043.7L1160 4042.7L1162.7 4041.7L1165.3 4040.6L1167.9 4039.5L1170.5 4038.4L1173.2 4037.3L1175.8 4036.2L1178.4 4035L1181 4033.9L1183.6 4032.7L1186.3 4031.5L1188.9 4030.4L1191.5 4029.2L1194.1 4028L1196.8 4026.9L1199.4 4025.7L1202 4024.6L1204.6 4023.4L1207.2 4022.2L1209.9 4021L1212.5 4019.8L1215.1 4018.6L1217.7 4017.4L1220.4 4016.2L1223 4014.9L1225.6 4013.7L1228.2 4012.5L1230.8 4011.2L1233.5 4010L1236.1 4008.8L1238.7 4007.5L1241.3 4006.3L1243.9 4005.1L1246.6 4003.9L1249.2 4002.7L1251.8 4001.4L1254.4 4000.3L1257.1 3999.1L1259.7 3997.9L1262.3 3996.7L1264.9 3995.5L1267.5 3994.3L1270.2 3993.1L1272.8 3991.9L1275.4 3990.8L1278 3989.6L1280.7 3988.4L1283.3 3987.2L1285.9 3986.1L1288.5 3984.9L1291.1 3983.7L1293.8 3982.5L1296.4 3981.4L1299 3980.2L1301.6 3979.1L1304.3 3977.9L1306.9 3976.7L1309.5 3975.6L1312.1 3974.4L1314.7 3973.2L1317.4 3972.1L1320 3970.9L1322.6 3969.8L1325.2 3968.6L1327.9 3967.5L1330.5 3966.3L1333.1 3965.2L1335.7 3964L1338.3 3962.9L1341 3961.8L1343.6 3960.6L1346.2 3959.5L1348.8 3958.4L1351.4 3957.3L1354.1 3956.2L1356.7 3955.2L1359.3 3954.2L1361.9 3953.2L1364.6 3952.2L1367.2 3951.2L1369.8 3950.3L1372.4 3949.4L1375 3948.4L1377.7 3947.5L1380.3 3946.6L1382.9 3945.6L1385.5 3944.6L1388.2 3943.6L1390.8 3942.6L1393.4 3941.5L1396 3940.4L1398.6 3939.2L1401.3 3938L1403.9 3936.7L1406.5 3935.4L1409.1 3934L1411.8 3932.5L1414.4 3930.9L1417 3929.3L1419.6 3927.6L1422.2 3925.9L1424.9 3924.1L1427.5 3922.3L1430.1 3920.4L1432.7 3918.5L1435.4 3916.5L1438 3914.5L1440.6 3912.5L1443.2 3910.5L1445.8 3908.4L1448.5 3906.3L1451.1 3904.2L1453.7 3902L1456.3 3899.9L1458.9 3897.7L1461.6 3895.5L1464.2 3893.2L1466.8 3890.9L1469.4 3888.5L1472.1 3886.1L1474.7 3883.6L1477.3 3881.1L1479.9 3878.6L1482.5 3876L1485.2 3873.4L1487.8 3870.7L1490.4 3868L1493 3865.2L1495.7 3862.4L1498.3 3859.6L1500.9 3856.7L1503.5 3853.7L1506.1 3850.7L1508.8 3847.7L1511.4 3844.6L1514 3841.4L1516.6 3838.2L1519.3 3834.9L1521.9 3831.5L1524.5 3828.1L1527.1 3824.6L1529.7 3821.1L1532.4 3817.5L1535 3813.8L1537.6 3810.1L1540.2 3806.3L1542.9 3802.5L1545.5 3798.6L1548.1 3794.6L1550.7 3790.6L1553.3 3786.5L1556 3782.4L1558.6 3778.2L1561.2 3774L1563.8 3769.7L1566.4 3765.2L1569.1 3760.8L1571.7 3756.2L1574.3 3751.6L1576.9 3746.9L1579.6 3742.1L1582.2 3737.2L1584.8 3732.2L1587.4 3727.2L1590 3722.1L1592.7 3716.9L1595.3 3711.6L1597.9 3706.2L1600.5 3700.8L1603.2 3695.2L1605.8 3689.6L1608.4 3683.9L1611 3678.1L1613.6 3672.2L1616.3 3666.1L1618.9 3660L1621.5 3653.8L1624.1 3647.4L1626.8 3640.9L1629.4 3634.3L1632 3627.6L1634.6 3620.8L1637.2 3613.9L1639.9 3606.8L1642.5 3599.6L1645.1 3592.3L1647.7 3584.9L1650.4 3577.3L1653 3569.6L1655.6 3561.8L1658.2 3553.8L1660.8 3545.7L1663.5 3537.5L1666.1 3529.1L1668.7 3520.6L1671.3 3512L1673.9 3503.2L1676.6 3494.2L1679.2 3485.1L1681.8 3475.7L1684.4 3466.2L1687.1 3456.4L1689.7 3446.4L1692.3 3436.2L1694.9 3425.8L1697.5 3415L1700.2 3404.1L1702.8 3392.8L1705.4 3381.3L1708 3369.4L1710.7 3357.2L1713.3 3343.5L1715.9 3328.8L1718.5 3313.6L1721.1 3298.5L1723.8 3283.9L1726.4 3269.4L1729 3254.9L1731.6 3240.3L1734.3 3225.8L1736.9 3211.3L1739.5 3196.8L1742.1 3182.3L1744.7 3167.8L1747.4 3153.3L1750 3138.9L1752.6 3124.7L1755.2 3110.4L1757.8 3095.8L1760.5 3080.8L1763.1 3064.8L1765.7 3048.9L1768.3 3038.8L1771 3037.5L1773.6 3036.4L1776.2 3035.4L1778.8 3034.6L1781.4 3033.8L1784.1 3033.2L1786.7 3032.6L1789.3 3032.1L1791.9 3031.8L1794.6 3031.5L1797.2 3031.2L1799.8 3031.1L1802.4 3030.9L1805 3030.8L1807.7 3030.8L1810.3 3030.8L1812.9 3030.8L1815.5 3030.9L1818.2 3031.1L1820.8 3031.3L1823.4 3031.7L1826 3032.1L1828.6 3032.5L1831.3 3033L1833.9 3033.6L1836.5 3034.2L1839.1 3034.8L1841.8 3035.5L1844.4 3036.2L1847 3036.9L1849.6 3037.6L1852.2 3038.4L1854.9 3039.1L1857.5 3039.9L1860.1 3040.6L1862.7 3041.4L1865.3 3042.1L1868 3043L1870.6 3043.9L1873.2 3044.8L1875.8 3045.8L1878.5 3046.9L1881.1 3048L1883.7 3049.1L1886.3 3050.3L1888.9 3051.4L1891.6 3052.7L1894.2 3053.9L1896.8 3055.1L1899.4 3056.4L1902.1 3057.6L1904.7 3058.9L1907.3 3060.1L1909.9 3061.3L1912.5 3062.5L1915.2 3063.7L1917.8 3065L1920.4 3066.2L1923 3067.5L1925.7 3068.8L1928.3 3070.1L1930.9 3071.5L1933.5 3072.8L1936.1 3074.2L1938.8 3075.5L1941.4 3076.8L1944 3078.2L1946.6 3079.5L1949.3 3080.8L1951.9 3082.2L1954.5 3083.5L1957.1 3084.7L1959.7 3086L1962.4 3087.2L1965 3088.4L1967.6 3089.6L1970.2 3090.8L1972.8 3092L1975.5 3093.2L1978.1 3094.4L1980.7 3095.6L1983.3 3096.7L1986 3097.9L1988.6 3099L1991.2 3100.2L1993.8 3101.3L1996.4 3102.4L1999.1 3103.5L2001.7 3104.5L2004.3 3105.5L2006.9 3106.5L2009.6 3107.5L2012.2 3108.4L2014.8 3109.4L2017.4 3110.2L2020 3111.1L2022.7 3112L2025.3 3112.9L2027.9 3113.7L2030.5 3114.5L2033.2 3115.4L2035.8 3116.2L2038.4 3117L2041 3117.8L2043.6 3118.5L2046.3 3119.2L2048.9 3119.9L2051.5 3120.6L2054.1 3121.2L2056.8 3121.9L2059.4 3122.4L2062 3123L2064.6 3123.4L2067.2 3123.9L2069.9 3124.3L2072.5 3124.7L2075.1 3125.1L2077.7 3125.5L2080.3 3125.8L2083 3126.2L2085.6 3126.5L2088.2 3126.8L2090.8 3127.1L2093.5 3127.4L2096.1 3127.7L2098.7 3128L2101.3 3128.3L2103.9 3128.6L2106.6 3128.9L2109.2 3129.2L2111.8 3129.5L2114.4 3129.8L2117.1 3130.1L2119.7 3130.5L2122.3 3130.8" stroke="#e8553d" stroke-width="4.6" fill="none" stroke-linejoin="round"/>
<path d="M234.5 3144L247 3122L222 3122Z" stroke="#e8553d" stroke-width="3.2" fill="#fff" stroke-linejoin="miter"/>
<path d="M285.4 3308.3L297.9 3286.3L272.9 3286.3Z" stroke="#e8553d" stroke-width="3.2" fill="#fff" stroke-linejoin="miter"/>
<path d="M336.2 3636.8L348.7 3614.8L323.7 3614.8Z" stroke="#e8553d" stroke-width="3.2" fill="#fff" stroke-linejoin="miter"/>
<path d="M387.1 3908.3L399.6 3886.3L374.6 3886.3Z" stroke="#e8553d" stroke-width="3.2" fill="#fff" stroke-linejoin="miter"/>
<path d="M438 4058.3L450.5 4036.3L425.5 4036.3Z" stroke="#e8553d" stroke-width="3.2" fill="#fff" stroke-linejoin="miter"/>
<path d="M488.8 4056.8L501.3 4034.8L476.3 4034.8Z" stroke="#e8553d" stroke-width="3.2" fill="#fff" stroke-linejoin="miter"/>
<path d="M539.7 4075.4L552.2 4053.4L527.2 4053.4Z" stroke="#e8553d" stroke-width="3.2" fill="#fff" stroke-linejoin="miter"/>
<path d="M590.6 4089L603.1 4067L578.1 4067Z" stroke="#e8553d" stroke-width="3.2" fill="#fff" stroke-linejoin="miter"/>
<path d="M641.4 4099.7L653.9 4077.7L628.9 4077.7Z" stroke="#e8553d" stroke-width="3.2" fill="#fff" stroke-linejoin="miter"/>
<path d="M692.3 4106.8L704.8 4084.8L679.8 4084.8Z" stroke="#e8553d" stroke-width="3.2" fill="#fff" stroke-linejoin="miter"/>
<path d="M743.2 4113.3L755.7 4091.3L730.7 4091.3Z" stroke="#e8553d" stroke-width="3.2" fill="#fff" stroke-linejoin="miter"/>
<path d="M794 4116.1L806.5 4094.1L781.5 4094.1Z" stroke="#e8553d" stroke-width="3.2" fill="#fff" stroke-linejoin="miter"/>
<path d="M844.9 4116.8L857.4 4094.8L832.4 4094.8Z" stroke="#e8553d" stroke-width="3.2" fill="#fff" stroke-linejoin="miter"/>
<path d="M895.8 4114.7L908.3 4092.7L883.3 4092.7Z" stroke="#e8553d" stroke-width="3.2" fill="#fff" stroke-linejoin="miter"/>
<path d="M946.6 4110.4L959.1 4088.4L934.1 4088.4Z" stroke="#e8553d" stroke-width="3.2" fill="#fff" stroke-linejoin="miter"/>
<path d="M997.5 4101.1L1010 4079.1L985 4079.1Z" stroke="#e8553d" stroke-width="3.2" fill="#fff" stroke-linejoin="miter"/>
<path d="M1048.4 4090.4L1060.9 4068.4L1035.9 4068.4Z" stroke="#e8553d" stroke-width="3.2" fill="#fff" stroke-linejoin="miter"/>
<path d="M1099.2 4076.8L1111.7 4054.8L1086.7 4054.8Z" stroke="#e8553d" stroke-width="3.2" fill="#fff" stroke-linejoin="miter"/>
<path d="M1150.1 4061.1L1162.6 4039.1L1137.6 4039.1Z" stroke="#e8553d" stroke-width="3.2" fill="#fff" stroke-linejoin="miter"/>
<path d="M1200.9 4039.7L1213.4 4017.7L1188.4 4017.7Z" stroke="#e8553d" stroke-width="3.2" fill="#fff" stroke-linejoin="miter"/>
<path d="M1251.8 4016.1L1264.3 3994.1L1239.3 3994.1Z" stroke="#e8553d" stroke-width="3.2" fill="#fff" stroke-linejoin="miter"/>
<path d="M1302.7 3993.3L1315.2 3971.3L1290.2 3971.3Z" stroke="#e8553d" stroke-width="3.2" fill="#fff" stroke-linejoin="miter"/>
<path d="M1353.5 3971.1L1366 3949.1L1341 3949.1Z" stroke="#e8553d" stroke-width="3.2" fill="#fff" stroke-linejoin="miter"/>
<path d="M1404.4 3951.1L1416.9 3929.1L1391.9 3929.1Z" stroke="#e8553d" stroke-width="3.2" fill="#fff" stroke-linejoin="miter"/>
<path d="M1455.3 3915.4L1467.8 3893.4L1442.8 3893.4Z" stroke="#e8553d" stroke-width="3.2" fill="#fff" stroke-linejoin="miter"/>
<path d="M1506.1 3865.4L1518.6 3843.4L1493.6 3843.4Z" stroke="#e8553d" stroke-width="3.2" fill="#fff" stroke-linejoin="miter"/>
<path d="M1557 3795.4L1569.5 3773.4L1544.5 3773.4Z" stroke="#e8553d" stroke-width="3.2" fill="#fff" stroke-linejoin="miter"/>
<path d="M1607.9 3699.7L1620.4 3677.7L1595.4 3677.7Z" stroke="#e8553d" stroke-width="3.2" fill="#fff" stroke-linejoin="miter"/>
<path d="M1658.7 3566.9L1671.2 3544.9L1646.2 3544.9Z" stroke="#e8553d" stroke-width="3.2" fill="#fff" stroke-linejoin="miter"/>
<path d="M1709.6 3376.9L1722.1 3354.9L1697.1 3354.9Z" stroke="#e8553d" stroke-width="3.2" fill="#fff" stroke-linejoin="miter"/>
<path d="M1760.5 3095.4L1773 3073.4L1748 3073.4Z" stroke="#e8553d" stroke-width="3.2" fill="#fff" stroke-linejoin="miter"/>
<path d="M1811.3 3045.5L1823.8 3023.5L1798.8 3023.5Z" stroke="#e8553d" stroke-width="3.2" fill="#fff" stroke-linejoin="miter"/>
<path d="M1862.2 3055.9L1874.7 3033.9L1849.7 3033.9Z" stroke="#e8553d" stroke-width="3.2" fill="#fff" stroke-linejoin="miter"/>
<path d="M1913.1 3077.4L1925.6 3055.4L1900.6 3055.4Z" stroke="#e8553d" stroke-width="3.2" fill="#fff" stroke-linejoin="miter"/>
<path d="M1963.9 3102.6L1976.4 3080.6L1951.4 3080.6Z" stroke="#e8553d" stroke-width="3.2" fill="#fff" stroke-linejoin="miter"/>
<path d="M2014.8 3124L2027.3 3102L2002.3 3102Z" stroke="#e8553d" stroke-width="3.2" fill="#fff" stroke-linejoin="miter"/>
<path d="M2065.7 3138.3L2078.2 3116.3L2053.2 3116.3Z" stroke="#e8553d" stroke-width="3.2" fill="#fff" stroke-linejoin="miter"/>
<path d="M2116.5 3144.7L2129 3122.7L2104 3122.7Z" stroke="#e8553d" stroke-width="3.2" fill="#fff" stroke-linejoin="miter"/>
<path d="M234.5 3129.3L235.8 3130.1L241.1 3135.4L246.3 3143.7L247.3 3145.6M251.5 3154L252.9 3157.1L258.1 3169.3L259.6 3173.4M265.4 3192.5L266 3194.5L267.2 3199.3M268.4 3204.5L268.6 3205.2L273 3225M277 3244.6L277.8 3248.2L278.4 3251.4M282.3 3271L283 3274.7L288.2 3301.3L289.3 3307.1M292.9 3326.8L293.5 3330.3L294.1 3333.7M297.4 3353.4L298.7 3361.5L300.8 3374.1M302.3 3383.9L302.7 3386.1L305.6 3404.6M308.6 3424.4L309.2 3428.5L309.7 3431.3M312.7 3451.1L313.2 3454.4L315.8 3471.8M318.8 3491.6L319.7 3497.7L322.4 3515.6M325.5 3535.3L326.3 3540.2L326.6 3542.2M329.7 3562L330.2 3564.8L333.2 3582.7M336.2 3600.7L336.8 3603.8L339.8 3621.4M343.2 3641.2L343.3 3641.8L344.4 3648.1M347.7 3667.8L348.6 3672.5L351.3 3688.5M353.2 3699.5L353.8 3703.1L356.8 3720.2M360.2 3739.9L360.4 3740.6L361.5 3746.8M365 3766.5L365.6 3769.7L368.8 3787.1M370.1 3793.9L370.8 3797.6L374.2 3814.6M378.2 3834.1L378.7 3836.5L379.7 3841M384.1 3860.5L385.3 3865.5L390.5 3887L392 3893.4M396.6 3912.9L397.1 3915L398.2 3919.7M402.7 3939.2L403.6 3943.3L409 3965.5M414 3984.9L415.4 3990L415.9 3991.6M421 4008L422 4010.8L427.2 4023.5L429.3 4027.3M438 4035L439 4035L444.3 4034.8L449.5 4034.5L454.7 4034L460 4033.4L465.2 4032.7L470.5 4032.1L475.7 4031.6L481 4031.1L486.2 4030.9L491.5 4030.9L496.7 4031L501.9 4031.3L507.2 4031.7L512.4 4032.1L517.7 4032.6L522.9 4033.1L528.2 4033.6L533.4 4034L538.6 4034.4L543.9 4034.7L549.1 4035.1L554.4 4035.4L559.6 4035.8L564.9 4036.2L570.1 4036.5L575.4 4036.8L580.6 4037L585.8 4037.1L591.1 4037.2L596.3 4037.2L601.6 4037.2L606.8 4037.2L612.1 4037.2L617.3 4037.2L622.5 4037.2L627.8 4037.2L633 4037.2L638.3 4037.2L643.5 4037.2L648.8 4037.1L654 4037L659.3 4036.9L664.5 4036.7L669.7 4036.5L675 4036.3L680.2 4036L685.5 4035.8L690.7 4035.5L696 4035.3L701.2 4035L706.5 4034.7L711.7 4034.3L716.9 4033.9L722.2 4033.5L727.4 4033.1L732.7 4032.7L737.9 4032.3L743.2 4031.9L748.4 4031.5L753.6 4031L758.9 4030.6L764.1 4030.2L769.4 4029.7L774.6 4029.3L779.9 4028.8L785.1 4028.3L790.4 4027.8L795.6 4027.3L800.8 4026.7L806.1 4026.1L811.3 4025.5L816.6 4024.9L821.8 4024.2L827.1 4023.5L832.3 4022.9L837.5 4022.3L842.8 4021.7L848 4021.1L853.3 4020.6L858.5 4020.1L863.8 4019.6L869 4019.1L874.3 4018.6L879.5 4018.1L884.7 4017.6L890 4017.1L895.2 4016.5L900.5 4015.9L905.7 4015.3L911 4014.7L916.2 4014.1L921.4 4013.5L926.7 4012.8L931.9 4012.1L937.2 4011.4L942.4 4010.7L947.7 4009.9L952.9 4009L958.2 4008L963.4 4007L968.6 4005.9L973.9 4004.8L979.1 4003.6L984.4 4002.4L989.6 4001.3L994.9 4000.1L1000.1 3999L1005.4 3997.9L1010.6 3996.8L1015.8 3995.7L1021.1 3994.6L1026.3 3993.4L1031.6 3992.3L1036.8 3991.1L1042.1 3990L1047.3 3988.8L1052.5 3987.7L1057.8 3986.5L1063 3985.3L1068.3 3984.1L1073.5 3982.9L1078.8 3981.7L1084 3980.5L1089.3 3979.4L1094.5 3978.2L1099.7 3977.1L1105 3975.9L1110.2 3974.8L1115.5 3973.6L1120.7 3972.5L1126 3971.4L1131.2 3970.3L1136.4 3969.2L1141.7 3968.1L1146.9 3967.1L1152.2 3966L1157.4 3965L1162.7 3964L1167.9 3962.9L1173.2 3961.9L1178.4 3960.9L1183.6 3959.9L1188.9 3959L1194.1 3958.2L1199.4 3957.4L1204.6 3956.7L1209.9 3956.1L1215.1 3955.5L1220.4 3955L1225.6 3954.5L1230.8 3954L1236.1 3953.5L1241.3 3952.9L1246.6 3952.2L1251.8 3951.5L1257.1 3950.5L1262.3 3949.4L1267.5 3948.2L1272.8 3946.9L1278 3945.4L1283.3 3943.9L1288.5 3942.3L1293.8 3940.7L1299 3939L1304.3 3937.4L1309.5 3935.7L1314.7 3934L1320 3932.3L1325.2 3930.4L1330.5 3928.5L1335.7 3926.6L1341 3924.5L1346.2 3922.4L1351.4 3920.2L1356.7 3917.9L1361.9 3915.5L1367.2 3913L1372.4 3910.4L1377.7 3907.7L1382.9 3904.8L1388.2 3901.9L1393.4 3898.9L1398.6 3895.7L1403.9 3892.5L1409.1 3889.2L1414.4 3885.7L1419.6 3882L1424.9 3878.3L1430.1 3874.3L1435.4 3870.3L1438.1 3868.1M1438.3 3867.9L1439.3 3867.1L1444.5 3862.8L1449.8 3858.4L1454.4 3854.4M1455.3 3853.6L1456.3 3852.7L1461.6 3847.9L1466.8 3842.9L1470.5 3839.2M1472.2 3837.5L1473.4 3836.3L1478.6 3830.9L1483.9 3825.3L1486.6 3822.2M1489.2 3819.3L1490.4 3818L1495.7 3811.9L1500.9 3805.7L1502.8 3803.4M1506.1 3799.3L1507.5 3797.7L1512.7 3791L1517.9 3784.1L1519 3782.7M1523.1 3777.1L1524.5 3775.1L1529.7 3767.6L1535.1 3759.8M1540.1 3752.3L1541.5 3750L1546.8 3741.7L1551.3 3734.5M1557 3725L1557.3 3724.6L1562.5 3715.7L1567.5 3706.9M1574 3695.2L1574.3 3694.5L1579.6 3684.6L1583.7 3676.6M1590.9 3662.1L1591.4 3661.2L1596.6 3650.2L1599.9 3643.1M1607.9 3625.5L1608.4 3624.3L1613.6 3612.1L1616.1 3606.2M1623.6 3587.6L1624.1 3586.3L1629.4 3572.8L1632.3 3564.9M1639.2 3546.1L1639.9 3544.2L1641.5 3539.6M1641.8 3538.8L1642.5 3536.8L1647.7 3521.5L1648.6 3518.9M1654.9 3499.9L1655.6 3497.7L1657 3493.2M1658.7 3487.9L1659.5 3485.4L1664.8 3468.8L1665.1 3467.9M1671 3448.8L1671.3 3447.6L1673 3442.1M1675.7 3433L1676.6 3430.1L1681.5 3412.8M1686.8 3393.6L1687.1 3392.7L1688.6 3386.8M1692.7 3371.1L1693.6 3367.2L1697.6 3350.7M1702.1 3331.2L1702.8 3328.1L1703.6 3324.4M1707.8 3304.8L1708 3303.6L1713.3 3275.2M1716.3 3255.4L1717.2 3249.6L1717.4 3248.5M1720.5 3228.7L1721.1 3224.8L1723.9 3208M1726.6 3191.3L1727.7 3184.3L1729.9 3170.6M1733.1 3150.9L1734.2 3144M1737.4 3124.2L1738.2 3119.6L1740.8 3103.5M1743.4 3083.7L1744.7 3072.8L1746.2 3061.8M1751.6 3043.4L1752.6 3043.2L1757.8 3042.6L1758.6 3042.5M1760.5 3042.2L1761.8 3042L1767 3040.9L1772.3 3039.5L1777.5 3038L1782.8 3036.4L1788 3034.8L1793.2 3033.4L1798.5 3032.2L1803.7 3031.3L1809 3030.8L1814.2 3030.8L1819.5 3031.2L1824.7 3031.9L1830 3032.8L1835.2 3033.9L1840.4 3035.1L1845.7 3036.5L1850.9 3038L1856.2 3039.5L1861.4 3041L1866.7 3042.5L1871.9 3044.3L1877.1 3046.3L1882.4 3048.5L1887.6 3050.9L1892.9 3053.3L1898.1 3055.7L1903.4 3058.2L1908.6 3060.7L1913.9 3063.1L1919.1 3065.6L1924.3 3068.2L1929.6 3070.8L1934.8 3073.5L1940.1 3076.2L1945.3 3078.9L1950.6 3081.5L1955.8 3084.1L1961.1 3086.6L1966.3 3089L1971.5 3091.4L1976.8 3093.8L1982 3096.1L1987.3 3098.5L1992.5 3100.7L1997.8 3102.9L2003 3105L2008.2 3107L2013.5 3108.9L2018.7 3110.7L2024 3112.4L2029.2 3114.1L2034.5 3115.8L2039.7 3117.4L2045 3118.9L2050.2 3120.3L2055.4 3121.6L2060.7 3122.7L2065.9 3123.7L2071.2 3124.5L2076.4 3125.3L2081.7 3126L2086.9 3126.7L2092.1 3127.3L2097.4 3127.9L2102.6 3128.4L2107.9 3129L2113.1 3129.6L2118.4 3130.3L2122.3 3130.8" stroke="#ff2cff" stroke-width="4.6" fill="none" stroke-linejoin="round"/>
<rect x="225.2" y="3120" width="18.6" height="18.6" stroke="#ff2cff" stroke-width="3.2" fill="#fff"/>
<rect x="276.1" y="3277.2" width="18.6" height="18.6" stroke="#ff2cff" stroke-width="3.2" fill="#fff"/>
<rect x="326.9" y="3591.5" width="18.6" height="18.6" stroke="#ff2cff" stroke-width="3.2" fill="#fff"/>
<rect x="377.8" y="3863.7" width="18.6" height="18.6" stroke="#ff2cff" stroke-width="3.2" fill="#fff"/>
<rect x="428.7" y="4025.7" width="18.6" height="18.6" stroke="#ff2cff" stroke-width="3.2" fill="#fff"/>
<rect x="479.5" y="4021.6" width="18.6" height="18.6" stroke="#ff2cff" stroke-width="3.2" fill="#fff"/>
<rect x="530.4" y="4025.1" width="18.6" height="18.6" stroke="#ff2cff" stroke-width="3.2" fill="#fff"/>
<rect x="581.3" y="4027.9" width="18.6" height="18.6" stroke="#ff2cff" stroke-width="3.2" fill="#fff"/>
<rect x="632.1" y="4027.9" width="18.6" height="18.6" stroke="#ff2cff" stroke-width="3.2" fill="#fff"/>
<rect x="683" y="4026.1" width="18.6" height="18.6" stroke="#ff2cff" stroke-width="3.2" fill="#fff"/>
<rect x="733.9" y="4022.6" width="18.6" height="18.6" stroke="#ff2cff" stroke-width="3.2" fill="#fff"/>
<rect x="784.7" y="4018.1" width="18.6" height="18.6" stroke="#ff2cff" stroke-width="3.2" fill="#fff"/>
<rect x="835.6" y="4012.1" width="18.6" height="18.6" stroke="#ff2cff" stroke-width="3.2" fill="#fff"/>
<rect x="886.5" y="4007.1" width="18.6" height="18.6" stroke="#ff2cff" stroke-width="3.2" fill="#fff"/>
<rect x="937.3" y="4000.7" width="18.6" height="18.6" stroke="#ff2cff" stroke-width="3.2" fill="#fff"/>
<rect x="988.2" y="3990.3" width="18.6" height="18.6" stroke="#ff2cff" stroke-width="3.2" fill="#fff"/>
<rect x="1039.1" y="3979.3" width="18.6" height="18.6" stroke="#ff2cff" stroke-width="3.2" fill="#fff"/>
<rect x="1089.9" y="3967.9" width="18.6" height="18.6" stroke="#ff2cff" stroke-width="3.2" fill="#fff"/>
<rect x="1140.8" y="3957.2" width="18.6" height="18.6" stroke="#ff2cff" stroke-width="3.2" fill="#fff"/>
<rect x="1191.6" y="3947.9" width="18.6" height="18.6" stroke="#ff2cff" stroke-width="3.2" fill="#fff"/>
<rect x="1242.5" y="3942.2" width="18.6" height="18.6" stroke="#ff2cff" stroke-width="3.2" fill="#fff"/>
<rect x="1293.4" y="3928.6" width="18.6" height="18.6" stroke="#ff2cff" stroke-width="3.2" fill="#fff"/>
<rect x="1344.2" y="3910" width="18.6" height="18.6" stroke="#ff2cff" stroke-width="3.2" fill="#fff"/>
<rect x="1395.1" y="3882.9" width="18.6" height="18.6" stroke="#ff2cff" stroke-width="3.2" fill="#fff"/>
<rect x="1446" y="3844.3" width="18.6" height="18.6" stroke="#ff2cff" stroke-width="3.2" fill="#fff"/>
<rect x="1496.8" y="3790" width="18.6" height="18.6" stroke="#ff2cff" stroke-width="3.2" fill="#fff"/>
<rect x="1547.7" y="3715.7" width="18.6" height="18.6" stroke="#ff2cff" stroke-width="3.2" fill="#fff"/>
<rect x="1598.6" y="3616.2" width="18.6" height="18.6" stroke="#ff2cff" stroke-width="3.2" fill="#fff"/>
<rect x="1649.4" y="3478.6" width="18.6" height="18.6" stroke="#ff2cff" stroke-width="3.2" fill="#fff"/>
<rect x="1700.3" y="3286.6" width="18.6" height="18.6" stroke="#ff2cff" stroke-width="3.2" fill="#fff"/>
<rect x="1751.2" y="3032.9" width="18.6" height="18.6" stroke="#ff2cff" stroke-width="3.2" fill="#fff"/>
<rect x="1802" y="3021.5" width="18.6" height="18.6" stroke="#ff2cff" stroke-width="3.2" fill="#fff"/>
<rect x="1852.9" y="3031.9" width="18.6" height="18.6" stroke="#ff2cff" stroke-width="3.2" fill="#fff"/>
<rect x="1903.8" y="3053.5" width="18.6" height="18.6" stroke="#ff2cff" stroke-width="3.2" fill="#fff"/>
<rect x="1954.6" y="3078.6" width="18.6" height="18.6" stroke="#ff2cff" stroke-width="3.2" fill="#fff"/>
<rect x="2005.5" y="3100.1" width="18.6" height="18.6" stroke="#ff2cff" stroke-width="3.2" fill="#fff"/>
<rect x="2056.4" y="3114.3" width="18.6" height="18.6" stroke="#ff2cff" stroke-width="3.2" fill="#fff"/>
<rect x="2107.2" y="3120.8" width="18.6" height="18.6" stroke="#ff2cff" stroke-width="3.2" fill="#fff"/>
<path d="M234.5 3129.3L237.1 3130.9L239.7 3133.4L242.4 3136.8L245 3141L247.6 3145.8L250.2 3151.1L252.9 3156.9L255.5 3163L258.1 3169.3L260.7 3176.6L263.3 3185.3L266 3195.4L268.6 3206.6L271.2 3218.8L273.8 3231.7L276.5 3245.1L279.1 3258.9L281.7 3272.8L284.3 3286.7L286.9 3300.6L289.6 3315.1L292.2 3330.4L294.8 3346.4L297.4 3362.9L300 3379.9L302.7 3397.3L305.3 3415L307.9 3433L310.5 3451.1L313.2 3469.4L315.8 3487.6L318.4 3505.8L321 3523.9L323.6 3541.7L326.3 3559.2L328.9 3576.3L331.5 3593L334.1 3609.1L336.8 3624.7L339.4 3640L342 3655.4L344.6 3670.9L347.2 3686.3L349.9 3701.6L352.5 3716.8L355.1 3731.9L357.7 3746.8L360.4 3761.6L363 3776.1L365.6 3790.3L368.2 3804.2L370.8 3817.8L373.5 3831L376.1 3843.8L378.7 3856.1L381.3 3868L384 3879.3L386.6 3890.1L389.2 3900.6L391.8 3911.4L394.4 3922.5L397.1 3933.7L399.7 3945L402.3 3956.2L404.9 3967.3L407.5 3978.1L410.2 3988.5L412.8 3998.5L415.4 4008L418 4016.8L420.7 4024.9L423.3 4032.1L425.9 4038.4L428.5 4043.7L431.1 4047.9L433.8 4050.8L436.4 4052.3L439 4052.6L441.6 4052.4L444.3 4052L446.9 4051.5L449.5 4050.8L452.1 4050L454.7 4049.1L457.4 4048.1L460 4047L462.6 4046L465.2 4044.9L467.9 4043.9L470.5 4042.8L473.1 4041.9L475.7 4041L478.3 4040.3L481 4039.6L483.6 4039.1L486.2 4038.8L488.8 4038.7L491.5 4038.7L494.1 4038.8L496.7 4038.8L499.3 4038.9L501.9 4038.9L504.6 4039L507.2 4039.1L509.8 4039.2L512.4 4039.3L515 4039.4L517.7 4039.5L520.3 4039.7L522.9 4039.8L525.5 4039.9L528.2 4040L530.8 4040.2L533.4 4040.3L536 4040.4L538.6 4040.5L541.3 4040.7L543.9 4040.8L546.5 4041L549.1 4041.1L551.8 4041.3L554.4 4041.5L557 4041.7L559.6 4041.9L562.2 4042.1L564.9 4042.3L567.5 4042.5L570.1 4042.7L572.7 4042.8L575.4 4043L578 4043.1L580.6 4043.2L583.2 4043.3L585.8 4043.4L588.5 4043.4L591.1 4043.4L593.7 4043.4L596.3 4043.4L599 4043.4L601.6 4043.4L604.2 4043.4L606.8 4043.4L609.4 4043.4L612.1 4043.4L614.7 4043.4L617.3 4043.4L619.9 4043.4L622.5 4043.4L625.2 4043.4L627.8 4043.4L630.4 4043.4L633 4043.4L635.7 4043.4L638.3 4043.4L640.9 4043.4L643.5 4043.4L646.1 4043.4L648.8 4043.4L651.4 4043.3L654 4043.2L656.6 4043.2L659.3 4043.1L661.9 4042.9L664.5 4042.8L667.1 4042.7L669.7 4042.6L672.4 4042.4L675 4042.3L677.6 4042.1L680.2 4042L682.9 4041.8L685.5 4041.7L688.1 4041.5L690.7 4041.4L693.3 4041.2L696 4041.1L698.6 4041L701.2 4040.8L703.8 4040.7L706.5 4040.5L709.1 4040.3L711.7 4040.2L714.3 4040L716.9 4039.8L719.6 4039.6L722.2 4039.5L724.8 4039.3L727.4 4039.1L730 4038.9L732.7 4038.7L735.3 4038.5L737.9 4038.3L740.5 4038.1L743.2 4037.9L745.8 4037.7L748.4 4037.5L751 4037.2L753.6 4037L756.3 4036.8L758.9 4036.6L761.5 4036.3L764.1 4036.1L766.8 4035.8L769.4 4035.6L772 4035.3L774.6 4035.1L777.2 4034.8L779.9 4034.6L782.5 4034.3L785.1 4034L787.7 4033.7L790.4 4033.4L793 4033.1L795.6 4032.8L798.2 4032.5L800.8 4032.2L803.5 4031.9L806.1 4031.5L808.7 4031.1L811.3 4030.8L813.9 4030.4L816.6 4030L819.2 4029.6L821.8 4029.2L824.4 4028.8L827.1 4028.4L829.7 4028L832.3 4027.7L834.9 4027.3L837.5 4026.9L840.2 4026.5L842.8 4026.2L845.4 4025.8L848 4025.5L850.7 4025.1L853.3 4024.8L855.9 4024.5L858.5 4024.2L861.1 4023.8L863.8 4023.5L866.4 4023.2L869 4022.9L871.6 4022.6L874.3 4022.3L876.9 4021.9L879.5 4021.6L882.1 4021.3L884.7 4020.9L887.4 4020.6L890 4020.3L892.6 4019.9L895.2 4019.5L897.9 4019.1L900.5 4018.8L903.1 4018.4L905.7 4018L908.3 4017.6L911 4017.2L913.6 4016.8L916.2 4016.3L918.8 4015.9L921.4 4015.5L924.1 4015.1L926.7 4014.6L929.3 4014.2L931.9 4013.7L934.6 4013.2L937.2 4012.8L939.8 4012.3L942.4 4011.8L945 4011.3L947.7 4010.8L950.3 4010.3L952.9 4009.8L955.5 4009.2L958.2 4008.7L960.8 4008.1L963.4 4007.5L966 4006.9L968.6 4006.3L971.3 4005.7L973.9 4005.1L976.5 4004.5L979.1 4003.9L981.8 4003.3L984.4 4002.6L987 4002L989.6 4001.4L992.2 4000.8L994.9 4000.2L997.5 3999.6L1000.1 3999L1002.7 3998.4L1005.4 3997.8L1008 3997.2L1010.6 3996.6L1013.2 3996L1015.8 3995.4L1018.5 3994.8L1021.1 3994.2L1023.7 3993.6L1026.3 3993L1028.9 3992.4L1031.6 3991.8L1034.2 3991.2L1036.8 3990.6L1039.4 3989.9L1042.1 3989.3L1044.7 3988.7L1047.3 3988.1L1049.9 3987.5L1052.5 3986.9L1055.2 3986.3L1057.8 3985.7L1060.4 3985.1L1063 3984.5L1065.7 3983.8L1068.3 3983.2L1070.9 3982.6L1073.5 3982L1076.1 3981.4L1078.8 3980.8L1081.4 3980.2L1084 3979.5L1086.6 3978.9L1089.3 3978.3L1091.9 3977.7L1094.5 3977.1L1097.1 3976.5L1099.7 3975.9L1102.4 3975.3L1105 3974.7L1107.6 3974.1L1110.2 3973.5L1112.9 3972.9L1115.5 3972.3L1118.1 3971.7L1120.7 3971.1L1123.3 3970.5L1126 3969.9L1128.6 3969.3L1131.2 3968.7L1133.8 3968.1L1136.4 3967.5L1139.1 3966.9L1141.7 3966.4L1144.3 3965.8L1146.9 3965.2L1149.6 3964.7L1152.2 3964.2L1154.8 3963.6L1157.4 3963.1L1160 3962.5L1162.7 3962L1165.3 3961.4L1167.9 3960.9L1170.5 3960.3L1173.2 3959.8L1175.8 3959.3L1178.4 3958.8L1181 3958.3L1183.6 3957.8L1186.3 3957.3L1188.9 3956.8L1191.5 3956.4L1194.1 3955.9L1196.8 3955.5L1199.4 3955.1L1202 3954.7L1204.6 3954.4L1207.2 3954L1209.9 3953.7L1212.5 3953.5L1215.1 3953.2L1217.7 3952.9L1220.4 3952.7L1223 3952.4L1225.6 3952.1L1228.2 3951.9L1230.8 3951.6L1233.5 3951.4L1236.1 3951.1L1238.7 3950.8L1241.3 3950.5L1243.9 3950.2L1246.6 3949.8L1249.2 3949.4L1251.8 3949L1254.4 3948.6L1257.1 3948.1L1259.7 3947.5L1262.3 3947L1264.9 3946.3L1267.5 3945.7L1270.2 3945L1272.8 3944.3L1275.4 3943.5L1278 3942.8L1280.7 3942L1283.3 3941.2L1285.9 3940.4L1288.5 3939.5L1291.1 3938.7L1293.8 3937.9L1296.4 3937L1299 3936.2L1301.6 3935.4L1304.3 3934.5L1306.9 3933.7L1309.5 3932.8L1312.1 3932L1314.7 3931.1L1317.4 3930.2L1320 3929.3L1322.6 3928.3L1325.2 3927.4L1327.9 3926.4L1330.5 3925.5L1333.1 3924.5L1335.7 3923.5L1338.3 3922.4L1341 3921.4L1343.6 3920.3L1346.2 3919.2L1348.8 3918.1L1351.4 3917L1354.1 3915.8L1356.7 3914.6L1359.3 3913.4L1361.9 3912.1L1364.6 3910.9L1367.2 3909.5L1369.8 3908.2L1372.4 3906.8L1375 3905.5L1377.7 3904L1380.3 3902.6L1382.9 3901.1L1385.5 3899.6L1388.2 3898.1L1390.8 3896.5L1393.4 3894.9L1396 3893.3L1398.6 3891.6L1401.3 3889.9L1403.9 3888.2L1406.5 3886.5L1409.1 3884.7L1411.8 3882.9L1414.4 3881L1417 3879L1419.6 3877.1L1422.2 3875L1424.9 3873L1427.5 3870.9L1430.1 3868.8L1432.7 3866.6L1435.4 3864.4L1438 3862.1L1440.6 3859.8L1443.2 3857.5L1445.8 3855.2L1448.5 3852.8L1451.1 3850.4L1453.7 3847.9L1456.3 3845.5L1458.9 3843L1461.6 3840.4L1464.2 3837.8L1466.8 3835.1L1469.4 3832.4L1472.1 3829.6L1474.7 3826.8L1477.3 3824L1479.9 3821.1L1482.5 3818.1L1485.2 3815.1L1487.8 3812.1L1490.4 3809L1493 3805.9L1495.7 3802.7L1498.3 3799.6L1500.9 3796.3L1503.5 3793.1L1506.1 3789.7L1508.8 3786.4L1511.4 3783L1514 3779.6L1516.6 3776.1L1519.3 3772.6L1521.9 3769L1524.5 3765.4L1527.1 3761.7L1529.7 3757.9L1532.4 3754.1L1535 3750.3L1537.6 3746.3L1540.2 3742.4L1542.9 3738.3L1545.5 3734.1L1548.1 3729.9L1550.7 3725.6L1553.3 3721.3L1556 3716.8L1558.6 3712.3L1561.2 3707.7L1563.8 3702.9L1566.4 3698.1L1569.1 3693.1L1571.7 3688.1L1574.3 3682.9L1576.9 3677.7L1579.6 3672.4L1582.2 3666.9L1584.8 3661.4L1587.4 3655.8L1590 3650.1L1592.7 3644.3L1595.3 3638.4L1597.9 3632.4L1600.5 3626.3L1603.2 3620.2L1605.8 3613.9L1608.4 3607.6L1611 3601.2L1613.6 3594.7L1616.3 3588.1L1618.9 3581.3L1621.5 3574.4L1624.1 3567.4L1626.8 3560.3L1629.4 3553.1L1632 3545.7L1634.6 3538.2L1637.2 3530.6L1639.9 3522.8L1642.5 3514.9L1645.1 3506.9L1647.7 3498.8L1650.4 3490.4L1653 3482L1655.6 3473.4L1658.2 3464.7L1660.8 3455.8L1663.5 3446.7L1666.1 3437.5L1668.7 3428.1L1671.3 3418.6L1673.9 3408.8L1676.6 3398.9L1679.2 3388.7L1681.8 3378.4L1684.4 3367.9L1687.1 3357.1L1689.7 3346.2L1692.3 3335L1694.9 3323.5L1697.5 3311.9L1700.2 3300L1702.8 3287.8L1705.4 3275.4L1708 3262.8L1710.7 3249.7L1713.3 3235.2L1715.9 3219.8L1718.5 3204.4L1721.1 3189.5L1723.8 3174.7L1726.4 3159.8L1729 3144.9L1731.6 3130L1734.3 3115.1L1736.9 3100.2L1739.5 3083.9L1742.1 3065.4L1744.7 3050L1747.4 3043L1750 3040.1L1752.6 3037.9L1755.2 3036.2L1757.8 3035.1L1760.5 3034.4L1763.1 3033.9L1765.7 3033.4L1768.3 3033L1771 3032.6L1773.6 3032.2L1776.2 3031.8L1778.8 3031.5L1781.4 3031.2L1784.1 3031L1786.7 3030.7L1789.3 3030.5L1791.9 3030.3L1794.6 3030.1L1797.2 3030L1799.8 3029.9L1802.4 3029.8L1805 3029.7L1807.7 3029.7L1810.3 3029.6L1812.9 3029.7L1815.5 3029.8L1818.2 3030L1820.8 3030.3L1823.4 3030.6L1826 3031.1L1828.6 3031.6L1831.3 3032.2L1833.9 3032.8L1836.5 3033.5L1839.1 3034.2L1841.8 3034.9L1844.4 3035.7L1847 3036.5L1849.6 3037.3L1852.2 3038.1L1854.9 3039L1857.5 3039.8L1860.1 3040.6L1862.7 3041.4L1865.3 3042.2L1868 3043.1L1870.6 3044L1873.2 3045L1875.8 3046L1878.5 3047L1881.1 3048.1L1883.7 3049.2L1886.3 3050.4L1888.9 3051.6L1891.6 3052.8L1894.2 3054L1896.8 3055.2L1899.4 3056.4L1902.1 3057.7L1904.7 3058.9L1907.3 3060.1L1909.9 3061.3L1912.5 3062.5L1915.2 3063.7L1917.8 3065L1920.4 3066.2L1923 3067.5L1925.7 3068.8L1928.3 3070.1L1930.9 3071.5L1933.5 3072.8L1936.1 3074.2L1938.8 3075.5L1941.4 3076.8L1944 3078.2L1946.6 3079.5L1949.3 3080.8L1951.9 3082.2L1954.5 3083.5L1957.1 3084.7L1959.7 3086L1962.4 3087.2L1965 3088.4L1967.6 3089.6L1970.2 3090.8L1972.8 3092L1975.5 3093.2L1978.1 3094.4L1980.7 3095.6L1983.3 3096.7L1986 3097.9L1988.6 3099L1991.2 3100.2L1993.8 3101.3L1996.4 3102.4L1999.1 3103.5L2001.7 3104.5L2004.3 3105.5L2006.9 3106.5L2009.6 3107.5L2012.2 3108.4L2014.8 3109.4L2017.4 3110.2L2020 3111.1L2022.7 3112L2025.3 3112.9L2027.9 3113.7L2030.5 3114.5L2033.2 3115.4L2035.8 3116.2L2038.4 3117L2041 3117.8L2043.6 3118.5L2046.3 3119.2L2048.9 3119.9L2051.5 3120.6L2054.1 3121.2L2056.8 3121.9L2059.4 3122.4L2062 3123L2064.6 3123.4L2067.2 3123.9L2069.9 3124.3L2072.5 3124.7L2075.1 3125.1L2077.7 3125.5L2080.3 3125.8L2083 3126.2L2085.6 3126.5L2088.2 3126.8L2090.8 3127.1L2093.5 3127.4L2096.1 3127.7L2098.7 3128L2101.3 3128.3L2103.9 3128.6L2106.6 3128.9L2109.2 3129.2L2111.8 3129.5L2114.4 3129.8L2117.1 3130.1L2119.7 3130.5L2122.3 3130.8" stroke="#00ff00" stroke-width="4.6" fill="none" stroke-linejoin="round"/>
<path d="M234.5 3117.5L237.8 3126L246.9 3126.5L239.8 3132.3L242.1 3141.1L234.5 3136.1L226.9 3141.1L229.2 3132.3L222.1 3126.5L231.2 3126Z" stroke="#00ff00" stroke-width="2.5" fill="#fff" stroke-linejoin="miter"/>
<path d="M285.4 3280.4L288.7 3288.9L297.7 3289.4L290.7 3295.1L293 3303.9L285.4 3299L277.7 3303.9L280 3295.1L273 3289.4L282.1 3288.9Z" stroke="#00ff00" stroke-width="2.5" fill="#fff" stroke-linejoin="miter"/>
<path d="M336.2 3609.8L339.5 3618.3L348.6 3618.8L341.6 3624.5L343.9 3633.3L336.2 3628.4L328.6 3633.3L330.9 3624.5L323.9 3618.8L332.9 3618.3Z" stroke="#00ff00" stroke-width="2.5" fill="#fff" stroke-linejoin="miter"/>
<path d="M387.1 3880.4L390.4 3888.8L399.5 3889.4L392.4 3895.1L394.7 3903.9L387.1 3899L379.5 3903.9L381.8 3895.1L374.7 3889.4L383.8 3888.8Z" stroke="#00ff00" stroke-width="2.5" fill="#fff" stroke-linejoin="miter"/>
<path d="M438 4040.8L441.3 4049.3L450.3 4049.8L443.3 4055.5L445.6 4064.3L438 4059.4L430.3 4064.3L432.6 4055.5L425.6 4049.8L434.7 4049.3Z" stroke="#00ff00" stroke-width="2.5" fill="#fff" stroke-linejoin="miter"/>
<path d="M488.8 4026.9L492.1 4035.4L501.2 4035.9L494.2 4041.7L496.5 4050.5L488.8 4045.5L481.2 4050.5L483.5 4041.7L476.5 4035.9L485.5 4035.4Z" stroke="#00ff00" stroke-width="2.5" fill="#fff" stroke-linejoin="miter"/>
<path d="M539.7 4028.8L543 4037.3L552.1 4037.8L545 4043.5L547.3 4052.3L539.7 4047.4L532.1 4052.3L534.4 4043.5L527.3 4037.8L536.4 4037.3Z" stroke="#00ff00" stroke-width="2.5" fill="#fff" stroke-linejoin="miter"/>
<path d="M590.6 4031.6L593.9 4040.1L602.9 4040.6L595.9 4046.4L598.2 4055.2L590.6 4050.2L582.9 4055.2L585.2 4046.4L578.2 4040.6L587.3 4040.1Z" stroke="#00ff00" stroke-width="2.5" fill="#fff" stroke-linejoin="miter"/>
<path d="M641.4 4031.6L644.7 4040.1L653.8 4040.6L646.8 4046.4L649.1 4055.2L641.4 4050.2L633.8 4055.2L636.1 4046.4L629.1 4040.6L638.1 4040.1Z" stroke="#00ff00" stroke-width="2.5" fill="#fff" stroke-linejoin="miter"/>
<path d="M692.3 4029.5L695.6 4038L704.7 4038.5L697.6 4044.2L699.9 4053L692.3 4048.1L684.7 4053L687 4044.2L679.9 4038.5L689 4038Z" stroke="#00ff00" stroke-width="2.5" fill="#fff" stroke-linejoin="miter"/>
<path d="M743.2 4026.1L746.4 4034.5L755.5 4035.1L748.5 4040.8L750.8 4049.6L743.2 4044.7L735.5 4049.6L737.8 4040.8L730.8 4035.1L739.9 4034.5Z" stroke="#00ff00" stroke-width="2.5" fill="#fff" stroke-linejoin="miter"/>
<path d="M794 4021.2L797.3 4029.7L806.4 4030.2L799.3 4035.9L801.7 4044.7L794 4039.8L786.4 4044.7L788.7 4035.9L781.7 4030.2L790.7 4029.7Z" stroke="#00ff00" stroke-width="2.5" fill="#fff" stroke-linejoin="miter"/>
<path d="M844.9 4014.1L848.2 4022.5L857.3 4023.1L850.2 4028.8L852.5 4037.6L844.9 4032.7L837.2 4037.6L839.6 4028.8L832.5 4023.1L841.6 4022.5Z" stroke="#00ff00" stroke-width="2.5" fill="#fff" stroke-linejoin="miter"/>
<path d="M895.8 4007.6L899 4016.1L908.1 4016.6L901.1 4022.4L903.4 4031.2L895.8 4026.2L888.1 4031.2L890.4 4022.4L883.4 4016.6L892.5 4016.1Z" stroke="#00ff00" stroke-width="2.5" fill="#fff" stroke-linejoin="miter"/>
<path d="M946.6 3999.2L949.9 4007.7L959 4008.2L951.9 4014L954.3 4022.7L946.6 4017.8L939 4022.7L941.3 4014L934.3 4008.2L943.3 4007.7Z" stroke="#00ff00" stroke-width="2.5" fill="#fff" stroke-linejoin="miter"/>
<path d="M997.5 3987.8L1000.8 3996.3L1009.8 3996.8L1002.8 4002.5L1005.1 4011.3L997.5 4006.4L989.8 4011.3L992.2 4002.5L985.1 3996.8L994.2 3996.3Z" stroke="#00ff00" stroke-width="2.5" fill="#fff" stroke-linejoin="miter"/>
<path d="M1048.4 3976.1L1051.6 3984.5L1060.7 3985.1L1053.7 3990.8L1056 3999.6L1048.4 3994.7L1040.7 3999.6L1043 3990.8L1036 3985.1L1045.1 3984.5Z" stroke="#00ff00" stroke-width="2.5" fill="#fff" stroke-linejoin="miter"/>
<path d="M1099.2 3964.2L1102.5 3972.7L1111.6 3973.2L1104.5 3979L1106.9 3987.7L1099.2 3982.8L1091.6 3987.7L1093.9 3979L1086.9 3973.2L1095.9 3972.7Z" stroke="#00ff00" stroke-width="2.5" fill="#fff" stroke-linejoin="miter"/>
<path d="M1150.1 3952.8L1153.4 3961.3L1162.4 3961.8L1155.4 3967.5L1157.7 3976.3L1150.1 3971.4L1142.4 3976.3L1144.8 3967.5L1137.7 3961.8L1146.8 3961.3Z" stroke="#00ff00" stroke-width="2.5" fill="#fff" stroke-linejoin="miter"/>
<path d="M1200.9 3943.1L1204.2 3951.5L1213.3 3952.1L1206.3 3957.8L1208.6 3966.6L1200.9 3961.7L1193.3 3966.6L1195.6 3957.8L1188.6 3952.1L1197.7 3951.5Z" stroke="#00ff00" stroke-width="2.5" fill="#fff" stroke-linejoin="miter"/>
<path d="M1251.8 3937.2L1255.1 3945.7L1264.2 3946.2L1257.1 3952L1259.5 3960.7L1251.8 3955.8L1244.2 3960.7L1246.5 3952L1239.5 3946.2L1248.5 3945.7Z" stroke="#00ff00" stroke-width="2.5" fill="#fff" stroke-linejoin="miter"/>
<path d="M1302.7 3923.2L1306 3931.7L1315 3932.2L1308 3938L1310.3 3946.7L1302.7 3941.8L1295 3946.7L1297.4 3938L1290.3 3932.2L1299.4 3931.7Z" stroke="#00ff00" stroke-width="2.5" fill="#fff" stroke-linejoin="miter"/>
<path d="M1353.5 3904.2L1356.8 3912.7L1365.9 3913.2L1358.9 3919L1361.2 3927.7L1353.5 3922.8L1345.9 3927.7L1348.2 3919L1341.2 3913.2L1350.3 3912.7Z" stroke="#00ff00" stroke-width="2.5" fill="#fff" stroke-linejoin="miter"/>
<path d="M1404.4 3876.1L1407.7 3884.6L1416.8 3885.1L1409.7 3890.8L1412.1 3899.6L1404.4 3894.7L1396.8 3899.6L1399.1 3890.8L1392 3885.1L1401.1 3884.6Z" stroke="#00ff00" stroke-width="2.5" fill="#fff" stroke-linejoin="miter"/>
<path d="M1455.3 3834.7L1458.6 3843.1L1467.6 3843.6L1460.6 3849.4L1462.9 3858.2L1455.3 3853.3L1447.6 3858.2L1450 3849.4L1442.9 3843.6L1452 3843.1Z" stroke="#00ff00" stroke-width="2.5" fill="#fff" stroke-linejoin="miter"/>
<path d="M1506.1 3777.9L1509.4 3786.4L1518.5 3786.9L1511.5 3792.7L1513.8 3801.5L1506.1 3796.5L1498.5 3801.5L1500.8 3792.7L1493.8 3786.9L1502.9 3786.4Z" stroke="#00ff00" stroke-width="2.5" fill="#fff" stroke-linejoin="miter"/>
<path d="M1557 3703.2L1560.3 3711.7L1569.4 3712.2L1562.3 3718L1564.6 3726.8L1557 3721.8L1549.4 3726.8L1551.7 3718L1544.6 3712.2L1553.7 3711.7Z" stroke="#00ff00" stroke-width="2.5" fill="#fff" stroke-linejoin="miter"/>
<path d="M1607.9 3597.1L1611.2 3605.6L1620.2 3606.1L1613.2 3611.8L1615.5 3620.6L1607.9 3615.7L1600.2 3620.6L1602.5 3611.8L1595.5 3606.1L1604.6 3605.6Z" stroke="#00ff00" stroke-width="2.5" fill="#fff" stroke-linejoin="miter"/>
<path d="M1658.7 3451.1L1662 3459.6L1671.1 3460.1L1664.1 3465.8L1666.4 3474.6L1658.7 3469.7L1651.1 3474.6L1653.4 3465.8L1646.4 3460.1L1655.4 3459.6Z" stroke="#00ff00" stroke-width="2.5" fill="#fff" stroke-linejoin="miter"/>
<path d="M1709.6 3243.3L1712.9 3251.7L1722 3252.2L1714.9 3258L1717.2 3266.8L1709.6 3261.9L1702 3266.8L1704.3 3258L1697.2 3252.2L1706.3 3251.7Z" stroke="#00ff00" stroke-width="2.5" fill="#fff" stroke-linejoin="miter"/>
<path d="M1760.5 3022.6L1763.8 3031L1772.8 3031.5L1765.8 3037.3L1768.1 3046.1L1760.5 3041.2L1752.8 3046.1L1755.1 3037.3L1748.1 3031.5L1757.2 3031Z" stroke="#00ff00" stroke-width="2.5" fill="#fff" stroke-linejoin="miter"/>
<path d="M1811.3 3017.8L1814.6 3026.3L1823.7 3026.8L1816.7 3032.6L1819 3041.4L1811.3 3036.4L1803.7 3041.4L1806 3032.6L1799 3026.8L1808 3026.3Z" stroke="#00ff00" stroke-width="2.5" fill="#fff" stroke-linejoin="miter"/>
<path d="M1862.2 3029.4L1865.5 3037.9L1874.6 3038.4L1867.5 3044.1L1869.8 3052.9L1862.2 3048L1854.6 3052.9L1856.9 3044.1L1849.8 3038.4L1858.9 3037.9Z" stroke="#00ff00" stroke-width="2.5" fill="#fff" stroke-linejoin="miter"/>
<path d="M1913.1 3051L1916.4 3059.5L1925.4 3060L1918.4 3065.7L1920.7 3074.5L1913.1 3069.6L1905.4 3074.5L1907.7 3065.7L1900.7 3060L1909.8 3059.5Z" stroke="#00ff00" stroke-width="2.5" fill="#fff" stroke-linejoin="miter"/>
<path d="M1963.9 3076.1L1967.2 3084.6L1976.3 3085.1L1969.3 3090.9L1971.6 3099.6L1963.9 3094.7L1956.3 3099.6L1958.6 3090.9L1951.6 3085.1L1960.6 3084.6Z" stroke="#00ff00" stroke-width="2.5" fill="#fff" stroke-linejoin="miter"/>
<path d="M2014.8 3097.6L2018.1 3106L2027.2 3106.5L2020.1 3112.3L2022.4 3121.1L2014.8 3116.2L2007.2 3121.1L2009.5 3112.3L2002.4 3106.5L2011.5 3106Z" stroke="#00ff00" stroke-width="2.5" fill="#fff" stroke-linejoin="miter"/>
<path d="M2065.7 3111.8L2069 3120.3L2078 3120.8L2071 3126.6L2073.3 3135.4L2065.7 3130.4L2058 3135.4L2060.3 3126.6L2053.3 3120.8L2062.4 3120.3Z" stroke="#00ff00" stroke-width="2.5" fill="#fff" stroke-linejoin="miter"/>
<path d="M2116.5 3118.3L2119.8 3126.7L2128.9 3127.2L2121.9 3133L2124.2 3141.8L2116.5 3136.9L2108.9 3141.8L2111.2 3133L2104.2 3127.2L2113.2 3126.7Z" stroke="#00ff00" stroke-width="2.5" fill="#fff" stroke-linejoin="miter"/>
</g>
<text transform="translate(128 0) rotate(-90)" font-size="61" word-spacing="6.5" letter-spacing="0.0"><tspan x="-3947.5" y="0">In-cylinder pressure </tspan><tspan font-size="83" x="-3431.4" y="4.5">[</tspan><tspan x="-3405" y="0">MPa</tspan><tspan font-size="83" x="-3293" y="4.5">]</tspan></text>
<rect x="444.7" y="3156.2" width="670" height="451" fill="#fff" stroke="#3a3a3a" stroke-width="2.6"/>
<line x1="460.1" y1="3197.8" x2="481.4" y2="3197.8" stroke="#3a3a3a" stroke-width="4.8"/>
<line x1="501.3" y1="3197.8" x2="562.8" y2="3197.8" stroke="#3a3a3a" stroke-width="4.8"/>
<line x1="583.2" y1="3197.8" x2="600.8" y2="3197.8" stroke="#3a3a3a" stroke-width="4.8"/>
<path d="M517.5 3184.8L543.5 3210.8M517.5 3210.8L543.5 3184.8" stroke="#3a3a3a" stroke-width="2.9" fill="none"/>
<text x="612.2" y="3218.3" font-size="61" text-anchor="start">Lumped_ ideal gas</text>
<line x1="460.1" y1="3273.1" x2="600.8" y2="3273.1" stroke="#ff1a1a" stroke-width="4.8"/>
<circle cx="530.5" cy="3273.1" r="9.8" stroke="#ff1a1a" stroke-width="3.2" fill="#fff"/>
<text x="612.2" y="3293.6" font-size="61" text-anchor="start">Lumped_real gas</text>
<line x1="460.1" y1="3348.5" x2="481.4" y2="3348.5" stroke="#1414ff" stroke-width="4.8"/>
<line x1="501.3" y1="3348.5" x2="562.8" y2="3348.5" stroke="#1414ff" stroke-width="4.8"/>
<line x1="583.2" y1="3348.5" x2="600.8" y2="3348.5" stroke="#1414ff" stroke-width="4.8"/>
<path d="M530.5 3333.8L543 3355.8L518 3355.8Z" stroke="#1414ff" stroke-width="3.2" fill="#fff" stroke-linejoin="miter"/>
<text x="612.2" y="3369" font-size="61" text-anchor="start">Hybrid_ideal gas_R</text>
<line x1="460.1" y1="3423.8" x2="600.8" y2="3423.8" stroke="#e8553d" stroke-width="4.8"/>
<path d="M530.5 3438.5L543 3416.5L518 3416.5Z" stroke="#e8553d" stroke-width="3.2" fill="#fff" stroke-linejoin="miter"/>
<text x="612.2" y="3444.3" font-size="61" text-anchor="start">Hybrid_real gas_R</text>
<line x1="460.1" y1="3499.2" x2="481.4" y2="3499.2" stroke="#ff2cff" stroke-width="4.8"/>
<line x1="501.3" y1="3499.2" x2="508.1" y2="3499.2" stroke="#ff2cff" stroke-width="4.8"/>
<line x1="552.8" y1="3499.2" x2="574.1" y2="3499.2" stroke="#ff2cff" stroke-width="4.8"/>
<line x1="594" y1="3499.2" x2="600.8" y2="3499.2" stroke="#ff2cff" stroke-width="4.8"/>
<rect x="521.2" y="3489.9" width="18.6" height="18.6" stroke="#ff2cff" stroke-width="3.2" fill="#fff"/>
<text x="612.2" y="3519.7" font-size="61" text-anchor="start">Hybrid_ideal gas</text>
<line x1="460.1" y1="3574.5" x2="506.3" y2="3574.5" stroke="#00ff00" stroke-width="4.8"/>
<line x1="552.8" y1="3574.5" x2="600.8" y2="3574.5" stroke="#00ff00" stroke-width="4.8"/>
<path d="M530.5 3562.7L533.8 3571.2L542.9 3571.7L535.8 3577.5L538.1 3586.3L530.5 3581.3L522.9 3586.3L525.2 3577.5L518.1 3571.7L527.2 3571.2Z" stroke="#00ff00" stroke-width="2.5" fill="#fff" stroke-linejoin="miter"/>
<text x="612.2" y="3595" font-size="61" text-anchor="start">Hybrid_real gas</text>
<text x="50" y="4260" font-size="65" text-anchor="start">(c)</text>
</g>
</svg>
</body>
</html>
